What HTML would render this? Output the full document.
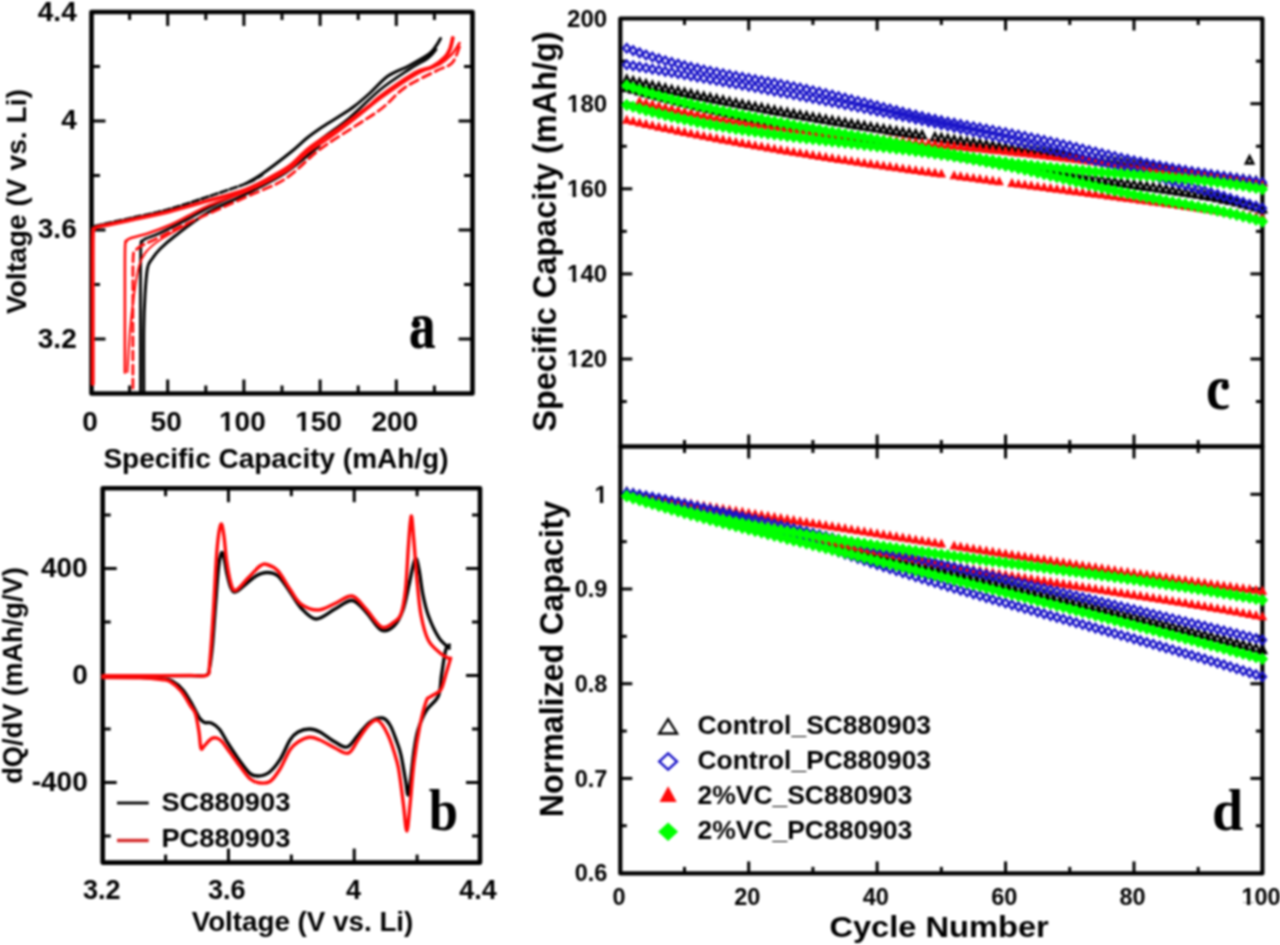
<!DOCTYPE html><html><head><meta charset="utf-8"><style>html,body{margin:0;padding:0;background:#fff;}svg{display:block;filter:blur(0.85px);}</style></head><body>
<svg width="1280" height="945" viewBox="0 0 1280 945">
<rect width="1280" height="945" fill="#fff"/>
<rect x="91.50" y="12.00" width="381.00" height="381.50" fill="none" stroke="#000" stroke-width="4.6" stroke-linejoin="round"/>
<line x1="167.70" y1="393.50" x2="167.70" y2="379.50" stroke="#000" stroke-width="3.0" stroke-linecap="butt"/>
<line x1="167.70" y1="12.00" x2="167.70" y2="26.00" stroke="#000" stroke-width="3.0" stroke-linecap="butt"/>
<line x1="243.90" y1="393.50" x2="243.90" y2="379.50" stroke="#000" stroke-width="3.0" stroke-linecap="butt"/>
<line x1="243.90" y1="12.00" x2="243.90" y2="26.00" stroke="#000" stroke-width="3.0" stroke-linecap="butt"/>
<line x1="320.10" y1="393.50" x2="320.10" y2="379.50" stroke="#000" stroke-width="3.0" stroke-linecap="butt"/>
<line x1="320.10" y1="12.00" x2="320.10" y2="26.00" stroke="#000" stroke-width="3.0" stroke-linecap="butt"/>
<line x1="396.30" y1="393.50" x2="396.30" y2="379.50" stroke="#000" stroke-width="3.0" stroke-linecap="butt"/>
<line x1="396.30" y1="12.00" x2="396.30" y2="26.00" stroke="#000" stroke-width="3.0" stroke-linecap="butt"/>
<line x1="129.60" y1="393.50" x2="129.60" y2="385.50" stroke="#000" stroke-width="3.0" stroke-linecap="butt"/>
<line x1="129.60" y1="12.00" x2="129.60" y2="20.00" stroke="#000" stroke-width="3.0" stroke-linecap="butt"/>
<line x1="205.80" y1="393.50" x2="205.80" y2="385.50" stroke="#000" stroke-width="3.0" stroke-linecap="butt"/>
<line x1="205.80" y1="12.00" x2="205.80" y2="20.00" stroke="#000" stroke-width="3.0" stroke-linecap="butt"/>
<line x1="282.00" y1="393.50" x2="282.00" y2="385.50" stroke="#000" stroke-width="3.0" stroke-linecap="butt"/>
<line x1="282.00" y1="12.00" x2="282.00" y2="20.00" stroke="#000" stroke-width="3.0" stroke-linecap="butt"/>
<line x1="358.20" y1="393.50" x2="358.20" y2="385.50" stroke="#000" stroke-width="3.0" stroke-linecap="butt"/>
<line x1="358.20" y1="12.00" x2="358.20" y2="20.00" stroke="#000" stroke-width="3.0" stroke-linecap="butt"/>
<line x1="434.40" y1="393.50" x2="434.40" y2="385.50" stroke="#000" stroke-width="3.0" stroke-linecap="butt"/>
<line x1="434.40" y1="12.00" x2="434.40" y2="20.00" stroke="#000" stroke-width="3.0" stroke-linecap="butt"/>
<line x1="91.50" y1="339.00" x2="105.50" y2="339.00" stroke="#000" stroke-width="3.0" stroke-linecap="butt"/>
<line x1="472.50" y1="339.00" x2="458.50" y2="339.00" stroke="#000" stroke-width="3.0" stroke-linecap="butt"/>
<line x1="91.50" y1="230.00" x2="105.50" y2="230.00" stroke="#000" stroke-width="3.0" stroke-linecap="butt"/>
<line x1="472.50" y1="230.00" x2="458.50" y2="230.00" stroke="#000" stroke-width="3.0" stroke-linecap="butt"/>
<line x1="91.50" y1="121.00" x2="105.50" y2="121.00" stroke="#000" stroke-width="3.0" stroke-linecap="butt"/>
<line x1="472.50" y1="121.00" x2="458.50" y2="121.00" stroke="#000" stroke-width="3.0" stroke-linecap="butt"/>
<line x1="91.50" y1="284.50" x2="100.00" y2="284.50" stroke="#000" stroke-width="3.0" stroke-linecap="butt"/>
<line x1="472.50" y1="284.50" x2="464.00" y2="284.50" stroke="#000" stroke-width="3.0" stroke-linecap="butt"/>
<line x1="91.50" y1="175.50" x2="100.00" y2="175.50" stroke="#000" stroke-width="3.0" stroke-linecap="butt"/>
<line x1="472.50" y1="175.50" x2="464.00" y2="175.50" stroke="#000" stroke-width="3.0" stroke-linecap="butt"/>
<line x1="91.50" y1="66.50" x2="100.00" y2="66.50" stroke="#000" stroke-width="3.0" stroke-linecap="butt"/>
<line x1="472.50" y1="66.50" x2="464.00" y2="66.50" stroke="#000" stroke-width="3.0" stroke-linecap="butt"/>
<rect x="102.70" y="488.20" width="377.30" height="374.40" fill="none" stroke="#000" stroke-width="4.6" stroke-linejoin="round"/>
<line x1="228.46" y1="862.60" x2="228.46" y2="848.60" stroke="#000" stroke-width="3.0" stroke-linecap="butt"/>
<line x1="228.46" y1="488.20" x2="228.46" y2="502.20" stroke="#000" stroke-width="3.0" stroke-linecap="butt"/>
<line x1="354.22" y1="862.60" x2="354.22" y2="848.60" stroke="#000" stroke-width="3.0" stroke-linecap="butt"/>
<line x1="354.22" y1="488.20" x2="354.22" y2="502.20" stroke="#000" stroke-width="3.0" stroke-linecap="butt"/>
<line x1="165.58" y1="862.60" x2="165.58" y2="854.60" stroke="#000" stroke-width="3.0" stroke-linecap="butt"/>
<line x1="165.58" y1="488.20" x2="165.58" y2="496.20" stroke="#000" stroke-width="3.0" stroke-linecap="butt"/>
<line x1="291.34" y1="862.60" x2="291.34" y2="854.60" stroke="#000" stroke-width="3.0" stroke-linecap="butt"/>
<line x1="291.34" y1="488.20" x2="291.34" y2="496.20" stroke="#000" stroke-width="3.0" stroke-linecap="butt"/>
<line x1="417.10" y1="862.60" x2="417.10" y2="854.60" stroke="#000" stroke-width="3.0" stroke-linecap="butt"/>
<line x1="417.10" y1="488.20" x2="417.10" y2="496.20" stroke="#000" stroke-width="3.0" stroke-linecap="butt"/>
<line x1="102.70" y1="782.50" x2="116.70" y2="782.50" stroke="#000" stroke-width="3.0" stroke-linecap="butt"/>
<line x1="480.00" y1="782.50" x2="466.00" y2="782.50" stroke="#000" stroke-width="3.0" stroke-linecap="butt"/>
<line x1="102.70" y1="675.50" x2="116.70" y2="675.50" stroke="#000" stroke-width="3.0" stroke-linecap="butt"/>
<line x1="480.00" y1="675.50" x2="466.00" y2="675.50" stroke="#000" stroke-width="3.0" stroke-linecap="butt"/>
<line x1="102.70" y1="568.50" x2="116.70" y2="568.50" stroke="#000" stroke-width="3.0" stroke-linecap="butt"/>
<line x1="480.00" y1="568.50" x2="466.00" y2="568.50" stroke="#000" stroke-width="3.0" stroke-linecap="butt"/>
<line x1="102.70" y1="836.00" x2="110.70" y2="836.00" stroke="#000" stroke-width="3.0" stroke-linecap="butt"/>
<line x1="480.00" y1="836.00" x2="472.00" y2="836.00" stroke="#000" stroke-width="3.0" stroke-linecap="butt"/>
<line x1="102.70" y1="729.00" x2="110.70" y2="729.00" stroke="#000" stroke-width="3.0" stroke-linecap="butt"/>
<line x1="480.00" y1="729.00" x2="472.00" y2="729.00" stroke="#000" stroke-width="3.0" stroke-linecap="butt"/>
<line x1="102.70" y1="622.00" x2="110.70" y2="622.00" stroke="#000" stroke-width="3.0" stroke-linecap="butt"/>
<line x1="480.00" y1="622.00" x2="472.00" y2="622.00" stroke="#000" stroke-width="3.0" stroke-linecap="butt"/>
<line x1="102.70" y1="515.00" x2="110.70" y2="515.00" stroke="#000" stroke-width="3.0" stroke-linecap="butt"/>
<line x1="480.00" y1="515.00" x2="472.00" y2="515.00" stroke="#000" stroke-width="3.0" stroke-linecap="butt"/>
<rect x="620.30" y="18.50" width="642.10" height="428.00" fill="none" stroke="#000" stroke-width="4.2" stroke-linejoin="round"/>
<line x1="748.72" y1="446.50" x2="748.72" y2="434.50" stroke="#000" stroke-width="3.0" stroke-linecap="butt"/>
<line x1="748.72" y1="18.50" x2="748.72" y2="30.50" stroke="#000" stroke-width="3.0" stroke-linecap="butt"/>
<line x1="877.14" y1="446.50" x2="877.14" y2="434.50" stroke="#000" stroke-width="3.0" stroke-linecap="butt"/>
<line x1="877.14" y1="18.50" x2="877.14" y2="30.50" stroke="#000" stroke-width="3.0" stroke-linecap="butt"/>
<line x1="1005.56" y1="446.50" x2="1005.56" y2="434.50" stroke="#000" stroke-width="3.0" stroke-linecap="butt"/>
<line x1="1005.56" y1="18.50" x2="1005.56" y2="30.50" stroke="#000" stroke-width="3.0" stroke-linecap="butt"/>
<line x1="1133.98" y1="446.50" x2="1133.98" y2="434.50" stroke="#000" stroke-width="3.0" stroke-linecap="butt"/>
<line x1="1133.98" y1="18.50" x2="1133.98" y2="30.50" stroke="#000" stroke-width="3.0" stroke-linecap="butt"/>
<line x1="684.51" y1="446.50" x2="684.51" y2="440.00" stroke="#000" stroke-width="3.0" stroke-linecap="butt"/>
<line x1="684.51" y1="18.50" x2="684.51" y2="25.00" stroke="#000" stroke-width="3.0" stroke-linecap="butt"/>
<line x1="812.93" y1="446.50" x2="812.93" y2="440.00" stroke="#000" stroke-width="3.0" stroke-linecap="butt"/>
<line x1="812.93" y1="18.50" x2="812.93" y2="25.00" stroke="#000" stroke-width="3.0" stroke-linecap="butt"/>
<line x1="941.35" y1="446.50" x2="941.35" y2="440.00" stroke="#000" stroke-width="3.0" stroke-linecap="butt"/>
<line x1="941.35" y1="18.50" x2="941.35" y2="25.00" stroke="#000" stroke-width="3.0" stroke-linecap="butt"/>
<line x1="1069.77" y1="446.50" x2="1069.77" y2="440.00" stroke="#000" stroke-width="3.0" stroke-linecap="butt"/>
<line x1="1069.77" y1="18.50" x2="1069.77" y2="25.00" stroke="#000" stroke-width="3.0" stroke-linecap="butt"/>
<line x1="1198.19" y1="446.50" x2="1198.19" y2="440.00" stroke="#000" stroke-width="3.0" stroke-linecap="butt"/>
<line x1="1198.19" y1="18.50" x2="1198.19" y2="25.00" stroke="#000" stroke-width="3.0" stroke-linecap="butt"/>
<line x1="620.30" y1="359.00" x2="632.30" y2="359.00" stroke="#000" stroke-width="3.0" stroke-linecap="butt"/>
<line x1="1262.40" y1="359.00" x2="1250.40" y2="359.00" stroke="#000" stroke-width="3.0" stroke-linecap="butt"/>
<line x1="620.30" y1="273.90" x2="632.30" y2="273.90" stroke="#000" stroke-width="3.0" stroke-linecap="butt"/>
<line x1="1262.40" y1="273.90" x2="1250.40" y2="273.90" stroke="#000" stroke-width="3.0" stroke-linecap="butt"/>
<line x1="620.30" y1="188.80" x2="632.30" y2="188.80" stroke="#000" stroke-width="3.0" stroke-linecap="butt"/>
<line x1="1262.40" y1="188.80" x2="1250.40" y2="188.80" stroke="#000" stroke-width="3.0" stroke-linecap="butt"/>
<line x1="620.30" y1="103.70" x2="632.30" y2="103.70" stroke="#000" stroke-width="3.0" stroke-linecap="butt"/>
<line x1="1262.40" y1="103.70" x2="1250.40" y2="103.70" stroke="#000" stroke-width="3.0" stroke-linecap="butt"/>
<line x1="620.30" y1="401.55" x2="626.80" y2="401.55" stroke="#000" stroke-width="3.0" stroke-linecap="butt"/>
<line x1="1262.40" y1="401.55" x2="1255.90" y2="401.55" stroke="#000" stroke-width="3.0" stroke-linecap="butt"/>
<line x1="620.30" y1="316.45" x2="626.80" y2="316.45" stroke="#000" stroke-width="3.0" stroke-linecap="butt"/>
<line x1="1262.40" y1="316.45" x2="1255.90" y2="316.45" stroke="#000" stroke-width="3.0" stroke-linecap="butt"/>
<line x1="620.30" y1="231.35" x2="626.80" y2="231.35" stroke="#000" stroke-width="3.0" stroke-linecap="butt"/>
<line x1="1262.40" y1="231.35" x2="1255.90" y2="231.35" stroke="#000" stroke-width="3.0" stroke-linecap="butt"/>
<line x1="620.30" y1="146.25" x2="626.80" y2="146.25" stroke="#000" stroke-width="3.0" stroke-linecap="butt"/>
<line x1="1262.40" y1="146.25" x2="1255.90" y2="146.25" stroke="#000" stroke-width="3.0" stroke-linecap="butt"/>
<line x1="620.30" y1="61.15" x2="626.80" y2="61.15" stroke="#000" stroke-width="3.0" stroke-linecap="butt"/>
<line x1="1262.40" y1="61.15" x2="1255.90" y2="61.15" stroke="#000" stroke-width="3.0" stroke-linecap="butt"/>
<rect x="620.30" y="446.50" width="642.10" height="426.90" fill="none" stroke="#000" stroke-width="4.2" stroke-linejoin="round"/>
<line x1="748.72" y1="873.40" x2="748.72" y2="861.40" stroke="#000" stroke-width="3.0" stroke-linecap="butt"/>
<line x1="748.72" y1="446.50" x2="748.72" y2="458.50" stroke="#000" stroke-width="3.0" stroke-linecap="butt"/>
<line x1="877.14" y1="873.40" x2="877.14" y2="861.40" stroke="#000" stroke-width="3.0" stroke-linecap="butt"/>
<line x1="877.14" y1="446.50" x2="877.14" y2="458.50" stroke="#000" stroke-width="3.0" stroke-linecap="butt"/>
<line x1="1005.56" y1="873.40" x2="1005.56" y2="861.40" stroke="#000" stroke-width="3.0" stroke-linecap="butt"/>
<line x1="1005.56" y1="446.50" x2="1005.56" y2="458.50" stroke="#000" stroke-width="3.0" stroke-linecap="butt"/>
<line x1="1133.98" y1="873.40" x2="1133.98" y2="861.40" stroke="#000" stroke-width="3.0" stroke-linecap="butt"/>
<line x1="1133.98" y1="446.50" x2="1133.98" y2="458.50" stroke="#000" stroke-width="3.0" stroke-linecap="butt"/>
<line x1="684.51" y1="873.40" x2="684.51" y2="866.90" stroke="#000" stroke-width="3.0" stroke-linecap="butt"/>
<line x1="684.51" y1="446.50" x2="684.51" y2="453.00" stroke="#000" stroke-width="3.0" stroke-linecap="butt"/>
<line x1="812.93" y1="873.40" x2="812.93" y2="866.90" stroke="#000" stroke-width="3.0" stroke-linecap="butt"/>
<line x1="812.93" y1="446.50" x2="812.93" y2="453.00" stroke="#000" stroke-width="3.0" stroke-linecap="butt"/>
<line x1="941.35" y1="873.40" x2="941.35" y2="866.90" stroke="#000" stroke-width="3.0" stroke-linecap="butt"/>
<line x1="941.35" y1="446.50" x2="941.35" y2="453.00" stroke="#000" stroke-width="3.0" stroke-linecap="butt"/>
<line x1="1069.77" y1="873.40" x2="1069.77" y2="866.90" stroke="#000" stroke-width="3.0" stroke-linecap="butt"/>
<line x1="1069.77" y1="446.50" x2="1069.77" y2="453.00" stroke="#000" stroke-width="3.0" stroke-linecap="butt"/>
<line x1="1198.19" y1="873.40" x2="1198.19" y2="866.90" stroke="#000" stroke-width="3.0" stroke-linecap="butt"/>
<line x1="1198.19" y1="446.50" x2="1198.19" y2="453.00" stroke="#000" stroke-width="3.0" stroke-linecap="butt"/>
<line x1="620.30" y1="778.40" x2="632.30" y2="778.40" stroke="#000" stroke-width="3.0" stroke-linecap="butt"/>
<line x1="1262.40" y1="778.40" x2="1250.40" y2="778.40" stroke="#000" stroke-width="3.0" stroke-linecap="butt"/>
<line x1="620.30" y1="683.70" x2="632.30" y2="683.70" stroke="#000" stroke-width="3.0" stroke-linecap="butt"/>
<line x1="1262.40" y1="683.70" x2="1250.40" y2="683.70" stroke="#000" stroke-width="3.0" stroke-linecap="butt"/>
<line x1="620.30" y1="589.00" x2="632.30" y2="589.00" stroke="#000" stroke-width="3.0" stroke-linecap="butt"/>
<line x1="1262.40" y1="589.00" x2="1250.40" y2="589.00" stroke="#000" stroke-width="3.0" stroke-linecap="butt"/>
<line x1="620.30" y1="494.30" x2="632.30" y2="494.30" stroke="#000" stroke-width="3.0" stroke-linecap="butt"/>
<line x1="1262.40" y1="494.30" x2="1250.40" y2="494.30" stroke="#000" stroke-width="3.0" stroke-linecap="butt"/>
<line x1="620.30" y1="825.75" x2="626.80" y2="825.75" stroke="#000" stroke-width="3.0" stroke-linecap="butt"/>
<line x1="1262.40" y1="825.75" x2="1255.90" y2="825.75" stroke="#000" stroke-width="3.0" stroke-linecap="butt"/>
<line x1="620.30" y1="731.05" x2="626.80" y2="731.05" stroke="#000" stroke-width="3.0" stroke-linecap="butt"/>
<line x1="1262.40" y1="731.05" x2="1255.90" y2="731.05" stroke="#000" stroke-width="3.0" stroke-linecap="butt"/>
<line x1="620.30" y1="636.35" x2="626.80" y2="636.35" stroke="#000" stroke-width="3.0" stroke-linecap="butt"/>
<line x1="1262.40" y1="636.35" x2="1255.90" y2="636.35" stroke="#000" stroke-width="3.0" stroke-linecap="butt"/>
<line x1="620.30" y1="541.65" x2="626.80" y2="541.65" stroke="#000" stroke-width="3.0" stroke-linecap="butt"/>
<line x1="1262.40" y1="541.65" x2="1255.90" y2="541.65" stroke="#000" stroke-width="3.0" stroke-linecap="butt"/>
<g>
<path d="M95.00,226.00 C100.67,224.75 116.83,221.25 129.00,218.50 C141.17,215.75 155.00,213.08 168.00,209.50 C181.00,205.92 194.00,201.33 207.00,197.00 C220.00,192.67 236.83,187.17 246.00,183.50 C255.17,179.83 259.33,176.42 262.00,175.00" fill="none" stroke="#000" stroke-width="2.8" stroke-linejoin="round" stroke-linecap="round" stroke-dasharray="7,3"/>
<path d="M246.00,183.50 C248.67,181.92 254.50,179.25 262.00,174.00 C269.50,168.75 283.50,158.00 291.00,152.00 C298.50,146.00 301.67,142.25 307.00,138.00 C312.33,133.75 317.67,130.08 323.00,126.50 C328.33,122.92 333.83,119.83 339.00,116.50 C344.17,113.17 348.83,110.42 354.00,106.50 C359.17,102.58 364.33,98.08 370.00,93.00 C375.67,87.92 381.50,80.55 388.00,76.00 C394.50,71.45 402.17,69.37 409.00,65.70 C415.83,62.03 424.50,57.28 429.00,54.00 C433.50,50.72 434.08,48.58 436.00,46.00 C437.92,43.42 439.75,39.75 440.50,38.50" fill="none" stroke="#000" stroke-width="3.0" stroke-linejoin="round" stroke-linecap="round"/>
<path d="M140.50,393.00 C140.50,377.50 140.45,324.33 140.50,300.00 C140.55,275.67 140.45,256.83 140.80,247.00 C141.15,237.17 141.73,242.42 142.60,241.00 C143.47,239.58 143.10,239.83 146.00,238.50 C148.90,237.17 153.00,236.25 160.00,233.00 C167.00,229.75 179.67,223.33 188.00,219.00 C196.33,214.67 200.33,211.83 210.00,207.00 C219.67,202.17 233.50,196.17 246.00,190.00 C258.50,183.83 272.83,178.17 285.00,170.00 C297.17,161.83 308.50,149.50 319.00,141.00 C329.50,132.50 337.67,127.67 348.00,119.00 C358.33,110.33 370.83,97.25 381.00,89.00 C391.17,80.75 401.17,74.67 409.00,69.50 C416.83,64.33 423.50,61.33 428.00,58.00 C432.50,54.67 434.67,50.92 436.00,49.50" fill="none" stroke="#000" stroke-width="2.8" stroke-linejoin="round" stroke-linecap="round"/>
<path d="M143.80,393.00 C143.80,382.50 143.60,346.33 143.80,330.00 C144.00,313.67 144.38,305.33 145.00,295.00 C145.62,284.67 146.33,274.00 147.50,268.00 C148.67,262.00 149.92,262.17 152.00,259.00 C154.08,255.83 156.17,252.83 160.00,249.00 C163.83,245.17 167.17,242.00 175.00,236.00 C182.83,230.00 195.17,220.00 207.00,213.00 C218.83,206.00 233.00,200.67 246.00,194.00 C259.00,187.33 272.83,181.00 285.00,173.00 C297.17,165.00 313.33,150.50 319.00,146.00" fill="none" stroke="#000" stroke-width="3.0" stroke-linejoin="round" stroke-linecap="round"/>
<path d="M92.80,384.00 C92.80,370.00 92.78,324.67 92.80,300.00 C92.82,275.33 92.65,247.83 92.90,236.00 C93.15,224.17 93.45,230.53 94.30,229.00 C95.15,227.47 95.38,227.58 98.00,226.80 C100.62,226.02 104.83,225.38 110.00,224.30 C115.17,223.22 119.33,222.38 129.00,220.30 C138.67,218.22 155.00,215.02 168.00,211.80 C181.00,208.58 194.00,204.72 207.00,201.00 C220.00,197.28 234.67,193.83 246.00,189.50 C257.33,185.17 267.50,179.08 275.00,175.00 C282.50,170.92 285.67,169.17 291.00,165.00 C296.33,160.83 301.67,154.42 307.00,150.00 C312.33,145.58 317.67,142.08 323.00,138.50 C328.33,134.92 333.83,132.00 339.00,128.50 C344.17,125.00 348.83,121.33 354.00,117.50 C359.17,113.67 365.50,109.08 370.00,105.50 C374.50,101.92 373.50,101.42 381.00,96.00 C388.50,90.58 406.50,77.83 415.00,73.00 C423.50,68.17 427.00,69.67 432.00,67.00 C437.00,64.33 442.00,60.00 445.00,57.00 C448.00,54.00 448.70,52.17 450.00,49.00 C451.30,45.83 452.33,39.83 452.80,38.00" fill="none" stroke="#ff0a0a" stroke-width="3.8" stroke-linejoin="round" stroke-linecap="round"/>
<path d="M124.90,372.60 C124.90,360.50 124.87,320.93 124.90,300.00 C124.93,279.07 124.78,256.83 125.10,247.00 C125.42,237.17 125.98,242.42 126.80,241.00 C127.62,239.58 126.30,239.83 130.00,238.50 C133.70,237.17 142.33,235.25 149.00,233.00 C155.67,230.75 163.50,227.83 170.00,225.00 C176.50,222.17 181.33,219.33 188.00,216.00 C194.67,212.67 200.33,209.08 210.00,205.00 C219.67,200.92 235.17,196.08 246.00,191.50 C256.83,186.92 267.50,181.42 275.00,177.50 C282.50,173.58 285.67,172.08 291.00,168.00 C296.33,163.92 300.50,158.08 307.00,153.00 C313.50,147.92 322.17,143.08 330.00,137.50 C337.83,131.92 345.50,126.08 354.00,119.50 C362.50,112.92 370.83,105.42 381.00,98.00 C391.17,90.58 405.17,80.67 415.00,75.00 C424.83,69.33 433.83,67.50 440.00,64.00 C446.17,60.50 448.75,57.50 452.00,54.00 C455.25,50.50 458.25,44.83 459.50,43.00" fill="none" stroke="#ff0a0a" stroke-width="2.6" stroke-linejoin="round" stroke-linecap="round"/>
<path d="M132.90,388.00 C132.90,373.33 132.85,321.83 132.90,300.00 C132.95,278.17 132.77,265.17 133.20,257.00 C133.63,248.83 134.20,252.83 135.50,251.00 C136.80,249.17 136.92,248.33 141.00,246.00 C145.08,243.67 152.17,240.83 160.00,237.00 C167.83,233.17 173.67,229.67 188.00,223.00 C202.33,216.33 229.83,204.33 246.00,197.00 C262.17,189.67 272.83,186.83 285.00,179.00 C297.17,171.17 307.67,158.58 319.00,150.00 C330.33,141.42 342.55,134.42 353.00,127.50 C363.45,120.58 373.03,115.17 381.70,108.50 C390.37,101.83 395.95,93.75 405.00,87.50 C414.05,81.25 428.17,75.08 436.00,71.00 C443.83,66.92 448.08,67.00 452.00,63.00 C455.92,59.00 458.25,49.67 459.50,47.00" fill="none" stroke="#ff0a0a" stroke-width="2.8" stroke-linejoin="round" stroke-linecap="round" stroke-dasharray="9,5"/>
<path d="M127.50,372.00 C127.92,365.00 128.92,342.83 130.00,330.00 C131.08,317.17 132.50,305.67 134.00,295.00 C135.50,284.33 137.00,273.17 139.00,266.00 C141.00,258.83 142.50,256.33 146.00,252.00 C149.50,247.67 153.00,244.67 160.00,240.00 C167.00,235.33 183.33,226.67 188.00,224.00" fill="none" stroke="#ff0a0a" stroke-width="2.0" stroke-linejoin="round" stroke-linecap="round"/>
</g>
<path d="M449.40,645.00 C448.78,645.83 447.02,645.00 445.70,650.00 C444.38,655.00 442.72,667.33 441.50,675.00 C440.28,682.67 440.93,690.07 438.40,696.00 C435.87,701.93 429.70,704.93 426.30,710.60 C422.90,716.27 420.03,723.43 418.00,730.00 C415.97,736.57 415.35,741.67 414.10,750.00 C412.85,758.33 411.52,772.50 410.50,780.00 C409.48,787.50 408.83,795.00 408.00,795.00 C407.17,795.00 406.67,786.67 405.50,780.00 C404.33,773.33 402.42,761.30 401.00,755.00 C399.58,748.70 398.83,747.20 397.00,742.20 C395.17,737.20 392.42,729.03 390.00,725.00 C387.58,720.97 385.83,718.50 382.50,718.00 C379.17,717.50 374.08,719.17 370.00,722.00 C365.92,724.83 361.80,730.83 358.00,735.00 C354.20,739.17 351.03,745.83 347.20,747.00 C343.37,748.17 339.53,744.50 335.00,742.00 C330.47,739.50 324.25,734.17 320.00,732.00 C315.75,729.83 313.17,729.00 309.50,729.00 C305.83,729.00 301.25,730.17 298.00,732.00 C294.75,733.83 292.98,735.43 290.00,740.00 C287.02,744.57 283.60,753.98 280.10,759.40 C276.60,764.82 272.68,769.73 269.00,772.50 C265.32,775.27 261.20,775.88 258.00,776.00 C254.80,776.12 253.00,775.97 249.80,773.20 C246.60,770.43 242.47,764.45 238.80,759.40 C235.13,754.35 231.02,747.93 227.80,742.90 C224.58,737.87 222.25,732.52 219.50,729.20 C216.75,725.88 213.82,724.12 211.30,723.00 C208.78,721.88 206.37,723.33 204.40,722.50 C202.43,721.67 201.48,720.92 199.50,718.00 C197.52,715.08 195.25,709.67 192.50,705.00 C189.75,700.33 186.42,694.00 183.00,690.00 C179.58,686.00 175.60,682.90 172.00,681.00 C168.40,679.10 166.73,679.22 161.40,678.60 C156.07,677.98 149.73,677.57 140.00,677.30 C130.27,677.03 109.17,677.05 103.00,677.00" fill="none" stroke="#000" stroke-width="3.3" stroke-linejoin="round" stroke-linecap="round"/>
<path d="M450.60,658.20 C449.92,660.50 447.85,667.37 446.50,672.00 C445.15,676.63 443.65,682.82 442.50,686.00 C441.35,689.18 441.68,689.27 439.60,691.10 C437.52,692.93 432.22,695.35 430.00,697.00 C427.78,698.65 427.97,696.33 426.30,701.00 C424.63,705.67 422.03,714.88 420.00,725.00 C417.97,735.12 415.77,748.37 414.10,761.70 C412.43,775.03 411.22,793.45 410.00,805.00 C408.78,816.55 407.88,831.00 406.80,831.00 C405.72,831.00 404.63,813.83 403.50,805.00 C402.37,796.17 401.08,785.22 400.00,778.00 C398.92,770.78 399.00,768.87 397.00,761.70 C395.00,754.53 391.23,741.90 388.00,735.00 C384.77,728.10 380.93,721.80 377.60,720.30 C374.27,718.80 371.27,722.72 368.00,726.00 C364.73,729.28 361.27,735.48 358.00,740.00 C354.73,744.52 352.23,751.77 348.40,753.10 C344.57,754.43 339.73,750.18 335.00,748.00 C330.27,745.82 324.25,741.78 320.00,740.00 C315.75,738.22 313.17,736.97 309.50,737.30 C305.83,737.63 301.25,739.92 298.00,742.00 C294.75,744.08 293.00,745.30 290.00,749.80 C287.00,754.30 283.33,763.72 280.00,769.00 C276.67,774.28 273.55,779.20 270.00,781.50 C266.45,783.80 262.03,783.27 258.70,782.80 C255.37,782.33 253.12,781.45 250.00,778.70 C246.88,775.95 243.33,770.65 240.00,766.30 C236.67,761.95 233.00,756.72 230.00,752.60 C227.00,748.48 224.17,744.02 222.00,741.60 C219.83,739.18 218.78,738.57 217.00,738.10 C215.22,737.63 213.40,737.53 211.30,738.80 C209.20,740.07 206.12,744.10 204.40,745.70 C202.68,747.30 201.90,750.68 201.00,748.40 C200.10,746.12 199.92,737.73 199.00,732.00 C198.08,726.27 196.90,718.33 195.50,714.00 C194.10,709.67 193.02,709.83 190.60,706.00 C188.18,702.17 184.43,695.08 181.00,691.00 C177.57,686.92 173.27,683.42 170.00,681.50 C166.73,679.58 166.40,680.12 161.40,679.50 C156.40,678.88 149.73,678.13 140.00,677.80 C130.27,677.47 109.17,677.55 103.00,677.50" fill="none" stroke="#ff0a0a" stroke-width="3.4" stroke-linejoin="round" stroke-linecap="round"/>
<path d="M103.00,675.60 C110.83,675.60 135.50,675.60 150.00,675.60 C164.50,675.60 180.58,675.67 190.00,675.60 C199.42,675.53 203.25,676.47 206.50,675.20 C209.75,673.93 208.50,673.03 209.50,668.00 C210.50,662.97 211.50,655.50 212.50,645.00 C213.50,634.50 214.50,617.83 215.50,605.00 C216.50,592.17 217.50,576.67 218.50,568.00 C219.50,559.33 220.58,554.67 221.50,553.00 C222.42,551.33 223.08,554.50 224.00,558.00 C224.92,561.50 225.83,569.00 227.00,574.00 C228.17,579.00 229.58,585.00 231.00,588.00 C232.42,591.00 233.17,592.50 235.50,592.00 C237.83,591.50 241.58,587.67 245.00,585.00 C248.42,582.33 252.33,578.08 256.00,576.00 C259.67,573.92 263.33,572.50 267.00,572.50 C270.67,572.50 274.17,572.75 278.00,576.00 C281.83,579.25 286.17,586.67 290.00,592.00 C293.83,597.33 296.67,603.50 301.00,608.00 C305.33,612.50 310.33,618.83 316.00,619.00 C321.67,619.17 329.00,612.08 335.00,609.00 C341.00,605.92 346.83,600.00 352.00,600.50 C357.17,601.00 361.17,607.08 366.00,612.00 C370.83,616.92 376.33,627.67 381.00,630.00 C385.67,632.33 390.33,629.33 394.00,626.00 C397.67,622.67 400.50,616.83 403.00,610.00 C405.50,603.17 407.25,592.67 409.00,585.00 C410.75,577.33 412.25,568.33 413.50,564.00 C414.75,559.67 415.50,557.67 416.50,559.00 C417.50,560.33 418.42,566.00 419.50,572.00 C420.58,578.00 421.50,587.67 423.00,595.00 C424.50,602.33 425.87,608.90 428.50,616.00 C431.13,623.10 435.33,632.23 438.80,637.60 C442.27,642.97 447.55,646.43 449.30,648.20" fill="none" stroke="#000" stroke-width="3.3" stroke-linejoin="round" stroke-linecap="round"/>
<path d="M103.00,675.80 C110.83,675.80 135.50,675.85 150.00,675.80 C164.50,675.75 180.50,675.63 190.00,675.50 C199.50,675.37 203.70,677.25 207.00,675.00 C210.30,672.75 208.72,672.83 209.80,662.00 C210.88,651.17 212.30,628.67 213.50,610.00 C214.70,591.33 215.78,564.25 217.00,550.00 C218.22,535.75 219.67,527.00 220.80,524.50 C221.93,522.00 222.85,529.08 223.80,535.00 C224.75,540.92 225.38,552.17 226.50,560.00 C227.62,567.83 229.00,576.92 230.50,582.00 C232.00,587.08 232.58,591.17 235.50,590.50 C238.42,589.83 243.92,582.08 248.00,578.00 C252.08,573.92 256.83,568.25 260.00,566.00 C263.17,563.75 264.00,563.67 267.00,564.50 C270.00,565.33 274.08,566.75 278.00,571.00 C281.92,575.25 286.67,584.50 290.50,590.00 C294.33,595.50 296.42,600.67 301.00,604.00 C305.58,607.33 312.33,610.08 318.00,610.00 C323.67,609.92 329.33,605.83 335.00,603.50 C340.67,601.17 346.83,595.08 352.00,596.00 C357.17,596.92 361.07,603.83 366.00,609.00 C370.93,614.17 376.93,624.83 381.60,627.00 C386.27,629.17 390.77,624.17 394.00,622.00 C397.23,619.83 399.08,619.33 401.00,614.00 C402.92,608.67 404.25,601.50 405.50,590.00 C406.75,578.50 407.55,557.33 408.50,545.00 C409.45,532.67 410.32,516.83 411.20,516.00 C412.08,515.17 412.83,529.33 413.80,540.00 C414.77,550.67 415.80,567.50 417.00,580.00 C418.20,592.50 419.13,605.00 421.00,615.00 C422.87,625.00 425.03,633.67 428.20,640.00 C431.37,646.33 436.48,649.87 440.00,653.00 C443.52,656.13 447.75,657.83 449.30,658.80" fill="none" stroke="#ff0a0a" stroke-width="3.4" stroke-linejoin="round" stroke-linecap="round"/>
<line x1="117.00" y1="803.00" x2="148.70" y2="803.00" stroke="#000" stroke-width="2.8" stroke-linecap="butt"/>
<line x1="117.00" y1="840.50" x2="148.70" y2="840.50" stroke="#d42a2a" stroke-width="3.4" stroke-linecap="butt"/>
<g>
<path d="M626.72,75.87 L630.32,82.87 L623.12,82.87 Z" fill="none" stroke="#000" stroke-width="2.6" stroke-linejoin="miter"/>
<path d="M633.14,77.36 L636.74,84.36 L629.54,84.36 Z" fill="none" stroke="#000" stroke-width="2.6" stroke-linejoin="miter"/>
<path d="M639.56,78.84 L643.16,85.84 L635.96,85.84 Z" fill="none" stroke="#000" stroke-width="2.6" stroke-linejoin="miter"/>
<path d="M645.98,80.30 L649.58,87.30 L642.38,87.30 Z" fill="none" stroke="#000" stroke-width="2.6" stroke-linejoin="miter"/>
<path d="M652.40,81.75 L656.00,88.75 L648.80,88.75 Z" fill="none" stroke="#000" stroke-width="2.6" stroke-linejoin="miter"/>
<path d="M658.83,83.18 L662.43,90.18 L655.23,90.18 Z" fill="none" stroke="#000" stroke-width="2.6" stroke-linejoin="miter"/>
<path d="M665.25,84.60 L668.85,91.60 L661.65,91.60 Z" fill="none" stroke="#000" stroke-width="2.6" stroke-linejoin="miter"/>
<path d="M671.67,86.00 L675.27,93.00 L668.07,93.00 Z" fill="none" stroke="#000" stroke-width="2.6" stroke-linejoin="miter"/>
<path d="M678.09,87.39 L681.69,94.39 L674.49,94.39 Z" fill="none" stroke="#000" stroke-width="2.6" stroke-linejoin="miter"/>
<path d="M684.51,88.76 L688.11,95.76 L680.91,95.76 Z" fill="none" stroke="#000" stroke-width="2.6" stroke-linejoin="miter"/>
<path d="M690.93,90.12 L694.53,97.12 L687.33,97.12 Z" fill="none" stroke="#000" stroke-width="2.6" stroke-linejoin="miter"/>
<path d="M697.35,91.47 L700.95,98.47 L693.75,98.47 Z" fill="none" stroke="#000" stroke-width="2.6" stroke-linejoin="miter"/>
<path d="M703.77,92.80 L707.37,99.80 L700.17,99.80 Z" fill="none" stroke="#000" stroke-width="2.6" stroke-linejoin="miter"/>
<path d="M710.19,94.12 L713.79,101.12 L706.59,101.12 Z" fill="none" stroke="#000" stroke-width="2.6" stroke-linejoin="miter"/>
<path d="M716.62,95.42 L720.22,102.42 L713.01,102.42 Z" fill="none" stroke="#000" stroke-width="2.6" stroke-linejoin="miter"/>
<path d="M723.04,96.71 L726.64,103.71 L719.44,103.71 Z" fill="none" stroke="#000" stroke-width="2.6" stroke-linejoin="miter"/>
<path d="M729.46,97.99 L733.06,104.99 L725.86,104.99 Z" fill="none" stroke="#000" stroke-width="2.6" stroke-linejoin="miter"/>
<path d="M735.88,99.26 L739.48,106.26 L732.28,106.26 Z" fill="none" stroke="#000" stroke-width="2.6" stroke-linejoin="miter"/>
<path d="M742.30,100.51 L745.90,107.51 L738.70,107.51 Z" fill="none" stroke="#000" stroke-width="2.6" stroke-linejoin="miter"/>
<path d="M748.72,101.75 L752.32,108.75 L745.12,108.75 Z" fill="none" stroke="#000" stroke-width="2.6" stroke-linejoin="miter"/>
<path d="M755.14,102.98 L758.74,109.98 L751.54,109.98 Z" fill="none" stroke="#000" stroke-width="2.6" stroke-linejoin="miter"/>
<path d="M761.56,104.20 L765.16,111.20 L757.96,111.20 Z" fill="none" stroke="#000" stroke-width="2.6" stroke-linejoin="miter"/>
<path d="M767.98,105.40 L771.58,112.40 L764.38,112.40 Z" fill="none" stroke="#000" stroke-width="2.6" stroke-linejoin="miter"/>
<path d="M774.40,106.60 L778.00,113.60 L770.80,113.60 Z" fill="none" stroke="#000" stroke-width="2.6" stroke-linejoin="miter"/>
<path d="M780.82,107.78 L784.42,114.78 L777.22,114.78 Z" fill="none" stroke="#000" stroke-width="2.6" stroke-linejoin="miter"/>
<path d="M787.25,108.95 L790.85,115.95 L783.65,115.95 Z" fill="none" stroke="#000" stroke-width="2.6" stroke-linejoin="miter"/>
<path d="M793.67,110.11 L797.27,117.11 L790.07,117.11 Z" fill="none" stroke="#000" stroke-width="2.6" stroke-linejoin="miter"/>
<path d="M800.09,111.26 L803.69,118.26 L796.49,118.26 Z" fill="none" stroke="#000" stroke-width="2.6" stroke-linejoin="miter"/>
<path d="M806.51,112.40 L810.11,119.40 L802.91,119.40 Z" fill="none" stroke="#000" stroke-width="2.6" stroke-linejoin="miter"/>
<path d="M812.93,113.53 L816.53,120.53 L809.33,120.53 Z" fill="none" stroke="#000" stroke-width="2.6" stroke-linejoin="miter"/>
<path d="M819.35,114.65 L822.95,121.65 L815.75,121.65 Z" fill="none" stroke="#000" stroke-width="2.6" stroke-linejoin="miter"/>
<path d="M825.77,115.76 L829.37,122.76 L822.17,122.76 Z" fill="none" stroke="#000" stroke-width="2.6" stroke-linejoin="miter"/>
<path d="M832.19,116.85 L835.79,123.85 L828.59,123.85 Z" fill="none" stroke="#000" stroke-width="2.6" stroke-linejoin="miter"/>
<path d="M838.61,117.94 L842.21,124.94 L835.01,124.94 Z" fill="none" stroke="#000" stroke-width="2.6" stroke-linejoin="miter"/>
<path d="M845.03,119.02 L848.63,126.02 L841.43,126.02 Z" fill="none" stroke="#000" stroke-width="2.6" stroke-linejoin="miter"/>
<path d="M851.46,120.09 L855.06,127.09 L847.86,127.09 Z" fill="none" stroke="#000" stroke-width="2.6" stroke-linejoin="miter"/>
<path d="M857.88,121.15 L861.48,128.15 L854.28,128.15 Z" fill="none" stroke="#000" stroke-width="2.6" stroke-linejoin="miter"/>
<path d="M864.30,122.20 L867.90,129.20 L860.70,129.20 Z" fill="none" stroke="#000" stroke-width="2.6" stroke-linejoin="miter"/>
<path d="M870.72,123.25 L874.32,130.25 L867.12,130.25 Z" fill="none" stroke="#000" stroke-width="2.6" stroke-linejoin="miter"/>
<path d="M877.14,124.28 L880.74,131.28 L873.54,131.28 Z" fill="none" stroke="#000" stroke-width="2.6" stroke-linejoin="miter"/>
<path d="M883.56,125.31 L887.16,132.31 L879.96,132.31 Z" fill="none" stroke="#000" stroke-width="2.6" stroke-linejoin="miter"/>
<path d="M889.98,126.33 L893.58,133.33 L886.38,133.33 Z" fill="none" stroke="#000" stroke-width="2.6" stroke-linejoin="miter"/>
<path d="M896.40,127.34 L900.00,134.34 L892.80,134.34 Z" fill="none" stroke="#000" stroke-width="2.6" stroke-linejoin="miter"/>
<path d="M902.82,128.34 L906.42,135.34 L899.22,135.34 Z" fill="none" stroke="#000" stroke-width="2.6" stroke-linejoin="miter"/>
<path d="M909.24,129.34 L912.84,136.34 L905.64,136.34 Z" fill="none" stroke="#000" stroke-width="2.6" stroke-linejoin="miter"/>
<path d="M915.67,130.33 L919.27,137.33 L912.07,137.33 Z" fill="none" stroke="#000" stroke-width="2.6" stroke-linejoin="miter"/>
<path d="M922.09,131.31 L925.69,138.31 L918.49,138.31 Z" fill="none" stroke="#000" stroke-width="2.6" stroke-linejoin="miter"/>
<path d="M934.93,133.25 L938.53,140.25 L931.33,140.25 Z" fill="none" stroke="#000" stroke-width="2.6" stroke-linejoin="miter"/>
<path d="M941.35,134.21 L944.95,141.21 L937.75,141.21 Z" fill="none" stroke="#000" stroke-width="2.6" stroke-linejoin="miter"/>
<path d="M947.77,135.16 L951.37,142.16 L944.17,142.16 Z" fill="none" stroke="#000" stroke-width="2.6" stroke-linejoin="miter"/>
<path d="M954.19,136.11 L957.79,143.11 L950.59,143.11 Z" fill="none" stroke="#000" stroke-width="2.6" stroke-linejoin="miter"/>
<path d="M960.61,137.06 L964.21,144.06 L957.01,144.06 Z" fill="none" stroke="#000" stroke-width="2.6" stroke-linejoin="miter"/>
<path d="M967.03,137.99 L970.63,144.99 L963.43,144.99 Z" fill="none" stroke="#000" stroke-width="2.6" stroke-linejoin="miter"/>
<path d="M973.45,138.92 L977.05,145.92 L969.85,145.92 Z" fill="none" stroke="#000" stroke-width="2.6" stroke-linejoin="miter"/>
<path d="M979.88,139.85 L983.48,146.85 L976.28,146.85 Z" fill="none" stroke="#000" stroke-width="2.6" stroke-linejoin="miter"/>
<path d="M986.30,140.77 L989.90,147.77 L982.70,147.77 Z" fill="none" stroke="#000" stroke-width="2.6" stroke-linejoin="miter"/>
<path d="M992.72,141.69 L996.32,148.69 L989.12,148.69 Z" fill="none" stroke="#000" stroke-width="2.6" stroke-linejoin="miter"/>
<path d="M999.14,142.60 L1002.74,149.60 L995.54,149.60 Z" fill="none" stroke="#000" stroke-width="2.6" stroke-linejoin="miter"/>
<path d="M1005.56,143.50 L1009.16,150.50 L1001.96,150.50 Z" fill="none" stroke="#000" stroke-width="2.6" stroke-linejoin="miter"/>
<path d="M1011.98,144.41 L1015.58,151.41 L1008.38,151.41 Z" fill="none" stroke="#000" stroke-width="2.6" stroke-linejoin="miter"/>
<path d="M1018.40,145.30 L1022.00,152.30 L1014.80,152.30 Z" fill="none" stroke="#000" stroke-width="2.6" stroke-linejoin="miter"/>
<path d="M1024.82,146.20 L1028.42,153.20 L1021.22,153.20 Z" fill="none" stroke="#000" stroke-width="2.6" stroke-linejoin="miter"/>
<path d="M1031.24,147.09 L1034.84,154.09 L1027.64,154.09 Z" fill="none" stroke="#000" stroke-width="2.6" stroke-linejoin="miter"/>
<path d="M1037.66,147.97 L1041.26,154.97 L1034.07,154.97 Z" fill="none" stroke="#000" stroke-width="2.6" stroke-linejoin="miter"/>
<path d="M1044.09,148.86 L1047.69,155.86 L1040.49,155.86 Z" fill="none" stroke="#000" stroke-width="2.6" stroke-linejoin="miter"/>
<path d="M1050.51,149.74 L1054.11,156.74 L1046.91,156.74 Z" fill="none" stroke="#000" stroke-width="2.6" stroke-linejoin="miter"/>
<path d="M1056.93,150.61 L1060.53,157.61 L1053.33,157.61 Z" fill="none" stroke="#000" stroke-width="2.6" stroke-linejoin="miter"/>
<path d="M1063.35,151.49 L1066.95,158.49 L1059.75,158.49 Z" fill="none" stroke="#000" stroke-width="2.6" stroke-linejoin="miter"/>
<path d="M1069.77,152.36 L1073.37,159.36 L1066.17,159.36 Z" fill="none" stroke="#000" stroke-width="2.6" stroke-linejoin="miter"/>
<path d="M1076.19,153.23 L1079.79,160.23 L1072.59,160.23 Z" fill="none" stroke="#000" stroke-width="2.6" stroke-linejoin="miter"/>
<path d="M1082.61,154.09 L1086.21,161.09 L1079.01,161.09 Z" fill="none" stroke="#000" stroke-width="2.6" stroke-linejoin="miter"/>
<path d="M1089.03,154.96 L1092.63,161.96 L1085.43,161.96 Z" fill="none" stroke="#000" stroke-width="2.6" stroke-linejoin="miter"/>
<path d="M1095.45,155.82 L1099.05,162.82 L1091.85,162.82 Z" fill="none" stroke="#000" stroke-width="2.6" stroke-linejoin="miter"/>
<path d="M1101.88,156.68 L1105.47,163.68 L1098.28,163.68 Z" fill="none" stroke="#000" stroke-width="2.6" stroke-linejoin="miter"/>
<path d="M1108.30,157.54 L1111.90,164.54 L1104.70,164.54 Z" fill="none" stroke="#000" stroke-width="2.6" stroke-linejoin="miter"/>
<path d="M1114.72,158.40 L1118.32,165.40 L1111.12,165.40 Z" fill="none" stroke="#000" stroke-width="2.6" stroke-linejoin="miter"/>
<path d="M1121.14,159.26 L1124.74,166.26 L1117.54,166.26 Z" fill="none" stroke="#000" stroke-width="2.6" stroke-linejoin="miter"/>
<path d="M1127.56,160.12 L1131.16,167.12 L1123.96,167.12 Z" fill="none" stroke="#000" stroke-width="2.6" stroke-linejoin="miter"/>
<path d="M1133.98,160.97 L1137.58,167.97 L1130.38,167.97 Z" fill="none" stroke="#000" stroke-width="2.6" stroke-linejoin="miter"/>
<path d="M1140.40,161.83 L1144.00,168.83 L1136.80,168.83 Z" fill="none" stroke="#000" stroke-width="2.6" stroke-linejoin="miter"/>
<path d="M1146.82,162.68 L1150.42,169.68 L1143.22,169.68 Z" fill="none" stroke="#000" stroke-width="2.6" stroke-linejoin="miter"/>
<path d="M1153.24,163.54 L1156.84,170.54 L1149.64,170.54 Z" fill="none" stroke="#000" stroke-width="2.6" stroke-linejoin="miter"/>
<path d="M1159.66,164.39 L1163.26,171.39 L1156.06,171.39 Z" fill="none" stroke="#000" stroke-width="2.6" stroke-linejoin="miter"/>
<path d="M1166.09,165.25 L1169.68,172.25 L1162.49,172.25 Z" fill="none" stroke="#000" stroke-width="2.6" stroke-linejoin="miter"/>
<path d="M1172.51,166.10 L1176.11,173.10 L1168.91,173.10 Z" fill="none" stroke="#000" stroke-width="2.6" stroke-linejoin="miter"/>
<path d="M1178.93,166.96 L1182.53,173.96 L1175.33,173.96 Z" fill="none" stroke="#000" stroke-width="2.6" stroke-linejoin="miter"/>
<path d="M1185.35,167.82 L1188.95,174.82 L1181.75,174.82 Z" fill="none" stroke="#000" stroke-width="2.6" stroke-linejoin="miter"/>
<path d="M1191.77,168.67 L1195.37,175.67 L1188.17,175.67 Z" fill="none" stroke="#000" stroke-width="2.6" stroke-linejoin="miter"/>
<path d="M1198.19,169.53 L1201.79,176.53 L1194.59,176.53 Z" fill="none" stroke="#000" stroke-width="2.6" stroke-linejoin="miter"/>
<path d="M1204.61,170.40 L1208.21,177.40 L1201.01,177.40 Z" fill="none" stroke="#000" stroke-width="2.6" stroke-linejoin="miter"/>
<path d="M1211.03,171.26 L1214.63,178.26 L1207.43,178.26 Z" fill="none" stroke="#000" stroke-width="2.6" stroke-linejoin="miter"/>
<path d="M1217.45,172.12 L1221.05,179.12 L1213.85,179.12 Z" fill="none" stroke="#000" stroke-width="2.6" stroke-linejoin="miter"/>
<path d="M1223.87,172.99 L1227.47,179.99 L1220.27,179.99 Z" fill="none" stroke="#000" stroke-width="2.6" stroke-linejoin="miter"/>
<path d="M1230.30,173.86 L1233.89,180.86 L1226.70,180.86 Z" fill="none" stroke="#000" stroke-width="2.6" stroke-linejoin="miter"/>
<path d="M1236.72,174.73 L1240.32,181.73 L1233.12,181.73 Z" fill="none" stroke="#000" stroke-width="2.6" stroke-linejoin="miter"/>
<path d="M1243.14,175.60 L1246.74,182.60 L1239.54,182.60 Z" fill="none" stroke="#000" stroke-width="2.6" stroke-linejoin="miter"/>
<path d="M1249.56,176.48 L1253.16,183.48 L1245.96,183.48 Z" fill="none" stroke="#000" stroke-width="2.6" stroke-linejoin="miter"/>
<path d="M1255.98,177.36 L1259.58,184.36 L1252.38,184.36 Z" fill="none" stroke="#000" stroke-width="2.6" stroke-linejoin="miter"/>
<path d="M1262.40,178.24 L1266.00,185.24 L1258.80,185.24 Z" fill="none" stroke="#000" stroke-width="2.6" stroke-linejoin="miter"/>
<path d="M626.72,83.84 L630.32,90.84 L623.12,90.84 Z" fill="none" stroke="#000" stroke-width="2.6" stroke-linejoin="miter"/>
<path d="M633.14,85.55 L636.74,92.55 L629.54,92.55 Z" fill="none" stroke="#000" stroke-width="2.6" stroke-linejoin="miter"/>
<path d="M639.56,87.25 L643.16,94.25 L635.96,94.25 Z" fill="none" stroke="#000" stroke-width="2.6" stroke-linejoin="miter"/>
<path d="M645.98,88.93 L649.58,95.93 L642.38,95.93 Z" fill="none" stroke="#000" stroke-width="2.6" stroke-linejoin="miter"/>
<path d="M652.40,90.60 L656.00,97.60 L648.80,97.60 Z" fill="none" stroke="#000" stroke-width="2.6" stroke-linejoin="miter"/>
<path d="M658.83,92.25 L662.43,99.25 L655.23,99.25 Z" fill="none" stroke="#000" stroke-width="2.6" stroke-linejoin="miter"/>
<path d="M665.25,93.89 L668.85,100.89 L661.65,100.89 Z" fill="none" stroke="#000" stroke-width="2.6" stroke-linejoin="miter"/>
<path d="M671.67,95.52 L675.27,102.52 L668.07,102.52 Z" fill="none" stroke="#000" stroke-width="2.6" stroke-linejoin="miter"/>
<path d="M678.09,97.13 L681.69,104.13 L674.49,104.13 Z" fill="none" stroke="#000" stroke-width="2.6" stroke-linejoin="miter"/>
<path d="M684.51,98.73 L688.11,105.73 L680.91,105.73 Z" fill="none" stroke="#000" stroke-width="2.6" stroke-linejoin="miter"/>
<path d="M690.93,100.31 L694.53,107.31 L687.33,107.31 Z" fill="none" stroke="#000" stroke-width="2.6" stroke-linejoin="miter"/>
<path d="M697.35,101.88 L700.95,108.88 L693.75,108.88 Z" fill="none" stroke="#000" stroke-width="2.6" stroke-linejoin="miter"/>
<path d="M703.77,103.43 L707.37,110.43 L700.17,110.43 Z" fill="none" stroke="#000" stroke-width="2.6" stroke-linejoin="miter"/>
<path d="M710.19,104.96 L713.79,111.96 L706.59,111.96 Z" fill="none" stroke="#000" stroke-width="2.6" stroke-linejoin="miter"/>
<path d="M716.62,106.48 L720.22,113.48 L713.01,113.48 Z" fill="none" stroke="#000" stroke-width="2.6" stroke-linejoin="miter"/>
<path d="M723.04,107.98 L726.64,114.98 L719.44,114.98 Z" fill="none" stroke="#000" stroke-width="2.6" stroke-linejoin="miter"/>
<path d="M729.46,109.47 L733.06,116.47 L725.86,116.47 Z" fill="none" stroke="#000" stroke-width="2.6" stroke-linejoin="miter"/>
<path d="M735.88,110.93 L739.48,117.93 L732.28,117.93 Z" fill="none" stroke="#000" stroke-width="2.6" stroke-linejoin="miter"/>
<path d="M742.30,112.38 L745.90,119.38 L738.70,119.38 Z" fill="none" stroke="#000" stroke-width="2.6" stroke-linejoin="miter"/>
<path d="M748.72,113.81 L752.32,120.81 L745.12,120.81 Z" fill="none" stroke="#000" stroke-width="2.6" stroke-linejoin="miter"/>
<path d="M755.14,115.22 L758.74,122.22 L751.54,122.22 Z" fill="none" stroke="#000" stroke-width="2.6" stroke-linejoin="miter"/>
<path d="M761.56,116.61 L765.16,123.61 L757.96,123.61 Z" fill="none" stroke="#000" stroke-width="2.6" stroke-linejoin="miter"/>
<path d="M767.98,117.99 L771.58,124.99 L764.38,124.99 Z" fill="none" stroke="#000" stroke-width="2.6" stroke-linejoin="miter"/>
<path d="M774.40,119.34 L778.00,126.34 L770.80,126.34 Z" fill="none" stroke="#000" stroke-width="2.6" stroke-linejoin="miter"/>
<path d="M780.82,120.68 L784.42,127.68 L777.22,127.68 Z" fill="none" stroke="#000" stroke-width="2.6" stroke-linejoin="miter"/>
<path d="M787.25,121.99 L790.85,128.99 L783.65,128.99 Z" fill="none" stroke="#000" stroke-width="2.6" stroke-linejoin="miter"/>
<path d="M793.67,123.28 L797.27,130.28 L790.07,130.28 Z" fill="none" stroke="#000" stroke-width="2.6" stroke-linejoin="miter"/>
<path d="M800.09,124.56 L803.69,131.56 L796.49,131.56 Z" fill="none" stroke="#000" stroke-width="2.6" stroke-linejoin="miter"/>
<path d="M806.51,125.81 L810.11,132.81 L802.91,132.81 Z" fill="none" stroke="#000" stroke-width="2.6" stroke-linejoin="miter"/>
<path d="M812.93,127.04 L816.53,134.04 L809.33,134.04 Z" fill="none" stroke="#000" stroke-width="2.6" stroke-linejoin="miter"/>
<path d="M819.35,128.25 L822.95,135.25 L815.75,135.25 Z" fill="none" stroke="#000" stroke-width="2.6" stroke-linejoin="miter"/>
<path d="M825.77,129.45 L829.37,136.45 L822.17,136.45 Z" fill="none" stroke="#000" stroke-width="2.6" stroke-linejoin="miter"/>
<path d="M832.19,130.63 L835.79,137.63 L828.59,137.63 Z" fill="none" stroke="#000" stroke-width="2.6" stroke-linejoin="miter"/>
<path d="M838.61,131.79 L842.21,138.79 L835.01,138.79 Z" fill="none" stroke="#000" stroke-width="2.6" stroke-linejoin="miter"/>
<path d="M845.03,132.94 L848.63,139.94 L841.43,139.94 Z" fill="none" stroke="#000" stroke-width="2.6" stroke-linejoin="miter"/>
<path d="M851.46,134.07 L855.06,141.07 L847.86,141.07 Z" fill="none" stroke="#000" stroke-width="2.6" stroke-linejoin="miter"/>
<path d="M857.88,135.19 L861.48,142.19 L854.28,142.19 Z" fill="none" stroke="#000" stroke-width="2.6" stroke-linejoin="miter"/>
<path d="M864.30,136.30 L867.90,143.30 L860.70,143.30 Z" fill="none" stroke="#000" stroke-width="2.6" stroke-linejoin="miter"/>
<path d="M870.72,137.39 L874.32,144.39 L867.12,144.39 Z" fill="none" stroke="#000" stroke-width="2.6" stroke-linejoin="miter"/>
<path d="M877.14,138.48 L880.74,145.48 L873.54,145.48 Z" fill="none" stroke="#000" stroke-width="2.6" stroke-linejoin="miter"/>
<path d="M883.56,139.55 L887.16,146.55 L879.96,146.55 Z" fill="none" stroke="#000" stroke-width="2.6" stroke-linejoin="miter"/>
<path d="M889.98,140.62 L893.58,147.62 L886.38,147.62 Z" fill="none" stroke="#000" stroke-width="2.6" stroke-linejoin="miter"/>
<path d="M896.40,141.68 L900.00,148.68 L892.80,148.68 Z" fill="none" stroke="#000" stroke-width="2.6" stroke-linejoin="miter"/>
<path d="M902.82,142.73 L906.42,149.73 L899.22,149.73 Z" fill="none" stroke="#000" stroke-width="2.6" stroke-linejoin="miter"/>
<path d="M909.24,143.78 L912.84,150.78 L905.64,150.78 Z" fill="none" stroke="#000" stroke-width="2.6" stroke-linejoin="miter"/>
<path d="M915.67,144.82 L919.27,151.82 L912.07,151.82 Z" fill="none" stroke="#000" stroke-width="2.6" stroke-linejoin="miter"/>
<path d="M922.09,145.86 L925.69,152.86 L918.49,152.86 Z" fill="none" stroke="#000" stroke-width="2.6" stroke-linejoin="miter"/>
<path d="M928.51,146.90 L932.11,153.90 L924.91,153.90 Z" fill="none" stroke="#000" stroke-width="2.6" stroke-linejoin="miter"/>
<path d="M934.93,147.93 L938.53,154.93 L931.33,154.93 Z" fill="none" stroke="#000" stroke-width="2.6" stroke-linejoin="miter"/>
<path d="M941.35,148.97 L944.95,155.97 L937.75,155.97 Z" fill="none" stroke="#000" stroke-width="2.6" stroke-linejoin="miter"/>
<path d="M947.77,150.00 L951.37,157.00 L944.17,157.00 Z" fill="none" stroke="#000" stroke-width="2.6" stroke-linejoin="miter"/>
<path d="M954.19,151.04 L957.79,158.04 L950.59,158.04 Z" fill="none" stroke="#000" stroke-width="2.6" stroke-linejoin="miter"/>
<path d="M960.61,152.08 L964.21,159.08 L957.01,159.08 Z" fill="none" stroke="#000" stroke-width="2.6" stroke-linejoin="miter"/>
<path d="M967.03,153.12 L970.63,160.12 L963.43,160.12 Z" fill="none" stroke="#000" stroke-width="2.6" stroke-linejoin="miter"/>
<path d="M973.45,154.16 L977.05,161.16 L969.85,161.16 Z" fill="none" stroke="#000" stroke-width="2.6" stroke-linejoin="miter"/>
<path d="M979.88,155.21 L983.48,162.21 L976.28,162.21 Z" fill="none" stroke="#000" stroke-width="2.6" stroke-linejoin="miter"/>
<path d="M986.30,156.27 L989.90,163.27 L982.70,163.27 Z" fill="none" stroke="#000" stroke-width="2.6" stroke-linejoin="miter"/>
<path d="M992.72,157.33 L996.32,164.33 L989.12,164.33 Z" fill="none" stroke="#000" stroke-width="2.6" stroke-linejoin="miter"/>
<path d="M999.14,158.40 L1002.74,165.40 L995.54,165.40 Z" fill="none" stroke="#000" stroke-width="2.6" stroke-linejoin="miter"/>
<path d="M1005.56,159.48 L1009.16,166.48 L1001.96,166.48 Z" fill="none" stroke="#000" stroke-width="2.6" stroke-linejoin="miter"/>
<path d="M1011.98,160.56 L1015.58,167.56 L1008.38,167.56 Z" fill="none" stroke="#000" stroke-width="2.6" stroke-linejoin="miter"/>
<path d="M1018.40,161.66 L1022.00,168.66 L1014.80,168.66 Z" fill="none" stroke="#000" stroke-width="2.6" stroke-linejoin="miter"/>
<path d="M1024.82,162.75 L1028.42,169.75 L1021.22,169.75 Z" fill="none" stroke="#000" stroke-width="2.6" stroke-linejoin="miter"/>
<path d="M1031.24,163.85 L1034.84,170.85 L1027.64,170.85 Z" fill="none" stroke="#000" stroke-width="2.6" stroke-linejoin="miter"/>
<path d="M1037.66,164.96 L1041.26,171.96 L1034.07,171.96 Z" fill="none" stroke="#000" stroke-width="2.6" stroke-linejoin="miter"/>
<path d="M1044.09,166.06 L1047.69,173.06 L1040.49,173.06 Z" fill="none" stroke="#000" stroke-width="2.6" stroke-linejoin="miter"/>
<path d="M1050.51,167.16 L1054.11,174.16 L1046.91,174.16 Z" fill="none" stroke="#000" stroke-width="2.6" stroke-linejoin="miter"/>
<path d="M1056.93,168.26 L1060.53,175.26 L1053.33,175.26 Z" fill="none" stroke="#000" stroke-width="2.6" stroke-linejoin="miter"/>
<path d="M1063.35,169.35 L1066.95,176.35 L1059.75,176.35 Z" fill="none" stroke="#000" stroke-width="2.6" stroke-linejoin="miter"/>
<path d="M1069.77,170.44 L1073.37,177.44 L1066.17,177.44 Z" fill="none" stroke="#000" stroke-width="2.6" stroke-linejoin="miter"/>
<path d="M1076.19,171.53 L1079.79,178.53 L1072.59,178.53 Z" fill="none" stroke="#000" stroke-width="2.6" stroke-linejoin="miter"/>
<path d="M1082.61,172.60 L1086.21,179.60 L1079.01,179.60 Z" fill="none" stroke="#000" stroke-width="2.6" stroke-linejoin="miter"/>
<path d="M1089.03,173.66 L1092.63,180.66 L1085.43,180.66 Z" fill="none" stroke="#000" stroke-width="2.6" stroke-linejoin="miter"/>
<path d="M1095.45,174.72 L1099.05,181.72 L1091.85,181.72 Z" fill="none" stroke="#000" stroke-width="2.6" stroke-linejoin="miter"/>
<path d="M1101.88,175.76 L1105.47,182.76 L1098.28,182.76 Z" fill="none" stroke="#000" stroke-width="2.6" stroke-linejoin="miter"/>
<path d="M1108.30,176.79 L1111.90,183.79 L1104.70,183.79 Z" fill="none" stroke="#000" stroke-width="2.6" stroke-linejoin="miter"/>
<path d="M1114.72,177.80 L1118.32,184.80 L1111.12,184.80 Z" fill="none" stroke="#000" stroke-width="2.6" stroke-linejoin="miter"/>
<path d="M1121.14,178.79 L1124.74,185.79 L1117.54,185.79 Z" fill="none" stroke="#000" stroke-width="2.6" stroke-linejoin="miter"/>
<path d="M1127.56,179.77 L1131.16,186.77 L1123.96,186.77 Z" fill="none" stroke="#000" stroke-width="2.6" stroke-linejoin="miter"/>
<path d="M1133.98,180.73 L1137.58,187.73 L1130.38,187.73 Z" fill="none" stroke="#000" stroke-width="2.6" stroke-linejoin="miter"/>
<path d="M1140.40,181.67 L1144.00,188.67 L1136.80,188.67 Z" fill="none" stroke="#000" stroke-width="2.6" stroke-linejoin="miter"/>
<path d="M1146.82,182.60 L1150.42,189.60 L1143.22,189.60 Z" fill="none" stroke="#000" stroke-width="2.6" stroke-linejoin="miter"/>
<path d="M1153.24,183.53 L1156.84,190.53 L1149.64,190.53 Z" fill="none" stroke="#000" stroke-width="2.6" stroke-linejoin="miter"/>
<path d="M1159.66,184.46 L1163.26,191.46 L1156.06,191.46 Z" fill="none" stroke="#000" stroke-width="2.6" stroke-linejoin="miter"/>
<path d="M1166.09,185.40 L1169.68,192.40 L1162.49,192.40 Z" fill="none" stroke="#000" stroke-width="2.6" stroke-linejoin="miter"/>
<path d="M1172.51,186.36 L1176.11,193.36 L1168.91,193.36 Z" fill="none" stroke="#000" stroke-width="2.6" stroke-linejoin="miter"/>
<path d="M1178.93,187.34 L1182.53,194.34 L1175.33,194.34 Z" fill="none" stroke="#000" stroke-width="2.6" stroke-linejoin="miter"/>
<path d="M1185.35,188.35 L1188.95,195.35 L1181.75,195.35 Z" fill="none" stroke="#000" stroke-width="2.6" stroke-linejoin="miter"/>
<path d="M1191.77,189.40 L1195.37,196.40 L1188.17,196.40 Z" fill="none" stroke="#000" stroke-width="2.6" stroke-linejoin="miter"/>
<path d="M1198.19,190.49 L1201.79,197.49 L1194.59,197.49 Z" fill="none" stroke="#000" stroke-width="2.6" stroke-linejoin="miter"/>
<path d="M1204.61,191.63 L1208.21,198.63 L1201.01,198.63 Z" fill="none" stroke="#000" stroke-width="2.6" stroke-linejoin="miter"/>
<path d="M1211.03,192.82 L1214.63,199.82 L1207.43,199.82 Z" fill="none" stroke="#000" stroke-width="2.6" stroke-linejoin="miter"/>
<path d="M1217.45,194.07 L1221.05,201.07 L1213.85,201.07 Z" fill="none" stroke="#000" stroke-width="2.6" stroke-linejoin="miter"/>
<path d="M1223.87,195.40 L1227.47,202.40 L1220.27,202.40 Z" fill="none" stroke="#000" stroke-width="2.6" stroke-linejoin="miter"/>
<path d="M1230.30,196.80 L1233.89,203.80 L1226.70,203.80 Z" fill="none" stroke="#000" stroke-width="2.6" stroke-linejoin="miter"/>
<path d="M1236.72,198.28 L1240.32,205.28 L1233.12,205.28 Z" fill="none" stroke="#000" stroke-width="2.6" stroke-linejoin="miter"/>
<path d="M1243.14,199.84 L1246.74,206.84 L1239.54,206.84 Z" fill="none" stroke="#000" stroke-width="2.6" stroke-linejoin="miter"/>
<path d="M1249.56,201.51 L1253.16,208.51 L1245.96,208.51 Z" fill="none" stroke="#000" stroke-width="2.6" stroke-linejoin="miter"/>
<path d="M1255.98,203.27 L1259.58,210.27 L1252.38,210.27 Z" fill="none" stroke="#000" stroke-width="2.6" stroke-linejoin="miter"/>
<path d="M1262.40,205.14 L1266.00,212.14 L1258.80,212.14 Z" fill="none" stroke="#000" stroke-width="2.6" stroke-linejoin="miter"/>
<path d="M1249.56,156.42 L1253.16,163.42 L1245.96,163.42 Z" fill="none" stroke="#000" stroke-width="2.6" stroke-linejoin="miter"/>
<path d="M639.56,95.89 L644.36,104.99 L634.76,104.99 Z" fill="#ff0a0a"/>
<path d="M645.98,97.50 L650.78,106.60 L641.18,106.60 Z" fill="#ff0a0a"/>
<path d="M652.40,99.06 L657.20,108.16 L647.61,108.16 Z" fill="#ff0a0a"/>
<path d="M658.83,100.57 L663.63,109.67 L654.03,109.67 Z" fill="#ff0a0a"/>
<path d="M665.25,102.04 L670.05,111.14 L660.45,111.14 Z" fill="#ff0a0a"/>
<path d="M671.67,103.47 L676.47,112.57 L666.87,112.57 Z" fill="#ff0a0a"/>
<path d="M678.09,104.86 L682.89,113.96 L673.29,113.96 Z" fill="#ff0a0a"/>
<path d="M684.51,106.20 L689.31,115.30 L679.71,115.30 Z" fill="#ff0a0a"/>
<path d="M690.93,107.50 L695.73,116.60 L686.13,116.60 Z" fill="#ff0a0a"/>
<path d="M697.35,108.77 L702.15,117.87 L692.55,117.87 Z" fill="#ff0a0a"/>
<path d="M703.77,109.99 L708.57,119.09 L698.97,119.09 Z" fill="#ff0a0a"/>
<path d="M710.19,111.18 L714.99,120.28 L705.39,120.28 Z" fill="#ff0a0a"/>
<path d="M716.62,112.34 L721.41,121.44 L711.82,121.44 Z" fill="#ff0a0a"/>
<path d="M723.04,113.46 L727.84,122.56 L718.24,122.56 Z" fill="#ff0a0a"/>
<path d="M729.46,114.55 L734.26,123.65 L724.66,123.65 Z" fill="#ff0a0a"/>
<path d="M735.88,115.60 L740.68,124.70 L731.08,124.70 Z" fill="#ff0a0a"/>
<path d="M742.30,116.62 L747.10,125.72 L737.50,125.72 Z" fill="#ff0a0a"/>
<path d="M748.72,117.62 L753.52,126.72 L743.92,126.72 Z" fill="#ff0a0a"/>
<path d="M755.14,118.58 L759.94,127.68 L750.34,127.68 Z" fill="#ff0a0a"/>
<path d="M761.56,119.52 L766.36,128.62 L756.76,128.62 Z" fill="#ff0a0a"/>
<path d="M767.98,120.43 L772.78,129.53 L763.18,129.53 Z" fill="#ff0a0a"/>
<path d="M774.40,121.32 L779.20,130.42 L769.60,130.42 Z" fill="#ff0a0a"/>
<path d="M780.82,122.18 L785.62,131.28 L776.02,131.28 Z" fill="#ff0a0a"/>
<path d="M787.25,123.02 L792.05,132.12 L782.45,132.12 Z" fill="#ff0a0a"/>
<path d="M793.67,123.84 L798.47,132.94 L788.87,132.94 Z" fill="#ff0a0a"/>
<path d="M800.09,124.63 L804.89,133.73 L795.29,133.73 Z" fill="#ff0a0a"/>
<path d="M806.51,125.41 L811.31,134.51 L801.71,134.51 Z" fill="#ff0a0a"/>
<path d="M812.93,126.17 L817.73,135.27 L808.13,135.27 Z" fill="#ff0a0a"/>
<path d="M819.35,126.91 L824.15,136.01 L814.55,136.01 Z" fill="#ff0a0a"/>
<path d="M825.77,127.64 L830.57,136.74 L820.97,136.74 Z" fill="#ff0a0a"/>
<path d="M832.19,128.35 L836.99,137.45 L827.39,137.45 Z" fill="#ff0a0a"/>
<path d="M838.61,129.05 L843.41,138.15 L833.81,138.15 Z" fill="#ff0a0a"/>
<path d="M845.03,129.73 L849.83,138.83 L840.24,138.83 Z" fill="#ff0a0a"/>
<path d="M851.46,130.41 L856.26,139.51 L846.66,139.51 Z" fill="#ff0a0a"/>
<path d="M857.88,131.07 L862.68,140.17 L853.08,140.17 Z" fill="#ff0a0a"/>
<path d="M864.30,131.72 L869.10,140.82 L859.50,140.82 Z" fill="#ff0a0a"/>
<path d="M870.72,132.37 L875.52,141.47 L865.92,141.47 Z" fill="#ff0a0a"/>
<path d="M877.14,133.01 L881.94,142.11 L872.34,142.11 Z" fill="#ff0a0a"/>
<path d="M883.56,133.64 L888.36,142.74 L878.76,142.74 Z" fill="#ff0a0a"/>
<path d="M889.98,134.27 L894.78,143.37 L885.18,143.37 Z" fill="#ff0a0a"/>
<path d="M896.40,134.90 L901.20,144.00 L891.60,144.00 Z" fill="#ff0a0a"/>
<path d="M902.82,135.52 L907.62,144.62 L898.02,144.62 Z" fill="#ff0a0a"/>
<path d="M909.24,136.14 L914.04,145.24 L904.44,145.24 Z" fill="#ff0a0a"/>
<path d="M915.67,136.77 L920.47,145.87 L910.87,145.87 Z" fill="#ff0a0a"/>
<path d="M922.09,137.39 L926.89,146.49 L917.29,146.49 Z" fill="#ff0a0a"/>
<path d="M928.51,138.02 L933.31,147.12 L923.71,147.12 Z" fill="#ff0a0a"/>
<path d="M934.93,138.65 L939.73,147.75 L930.13,147.75 Z" fill="#ff0a0a"/>
<path d="M941.35,139.28 L946.15,148.38 L936.55,148.38 Z" fill="#ff0a0a"/>
<path d="M947.77,139.92 L952.57,149.02 L942.97,149.02 Z" fill="#ff0a0a"/>
<path d="M954.19,140.57 L958.99,149.67 L949.39,149.67 Z" fill="#ff0a0a"/>
<path d="M960.61,141.22 L965.41,150.32 L955.81,150.32 Z" fill="#ff0a0a"/>
<path d="M967.03,141.88 L971.83,150.98 L962.23,150.98 Z" fill="#ff0a0a"/>
<path d="M973.45,142.54 L978.25,151.64 L968.65,151.64 Z" fill="#ff0a0a"/>
<path d="M979.88,143.21 L984.68,152.31 L975.08,152.31 Z" fill="#ff0a0a"/>
<path d="M986.30,143.88 L991.10,152.98 L981.50,152.98 Z" fill="#ff0a0a"/>
<path d="M992.72,144.56 L997.52,153.66 L987.92,153.66 Z" fill="#ff0a0a"/>
<path d="M999.14,145.24 L1003.94,154.34 L994.34,154.34 Z" fill="#ff0a0a"/>
<path d="M1005.56,145.93 L1010.36,155.03 L1000.76,155.03 Z" fill="#ff0a0a"/>
<path d="M1011.98,146.62 L1016.78,155.72 L1007.18,155.72 Z" fill="#ff0a0a"/>
<path d="M1018.40,147.32 L1023.20,156.42 L1013.60,156.42 Z" fill="#ff0a0a"/>
<path d="M1024.82,148.02 L1029.62,157.12 L1020.02,157.12 Z" fill="#ff0a0a"/>
<path d="M1031.24,148.73 L1036.04,157.83 L1026.44,157.83 Z" fill="#ff0a0a"/>
<path d="M1037.66,149.45 L1042.46,158.55 L1032.87,158.55 Z" fill="#ff0a0a"/>
<path d="M1044.09,150.16 L1048.89,159.26 L1039.29,159.26 Z" fill="#ff0a0a"/>
<path d="M1050.51,150.89 L1055.31,159.99 L1045.71,159.99 Z" fill="#ff0a0a"/>
<path d="M1056.93,151.61 L1061.73,160.71 L1052.13,160.71 Z" fill="#ff0a0a"/>
<path d="M1063.35,152.35 L1068.15,161.45 L1058.55,161.45 Z" fill="#ff0a0a"/>
<path d="M1069.77,153.08 L1074.57,162.18 L1064.97,162.18 Z" fill="#ff0a0a"/>
<path d="M1076.19,153.82 L1080.99,162.92 L1071.39,162.92 Z" fill="#ff0a0a"/>
<path d="M1082.61,154.57 L1087.41,163.67 L1077.81,163.67 Z" fill="#ff0a0a"/>
<path d="M1089.03,155.32 L1093.83,164.42 L1084.23,164.42 Z" fill="#ff0a0a"/>
<path d="M1095.45,156.07 L1100.25,165.17 L1090.65,165.17 Z" fill="#ff0a0a"/>
<path d="M1101.88,156.83 L1106.67,165.93 L1097.08,165.93 Z" fill="#ff0a0a"/>
<path d="M1108.30,157.59 L1113.10,166.69 L1103.50,166.69 Z" fill="#ff0a0a"/>
<path d="M1114.72,158.36 L1119.52,167.46 L1109.92,167.46 Z" fill="#ff0a0a"/>
<path d="M1121.14,159.13 L1125.94,168.23 L1116.34,168.23 Z" fill="#ff0a0a"/>
<path d="M1127.56,159.91 L1132.36,169.01 L1122.76,169.01 Z" fill="#ff0a0a"/>
<path d="M1133.98,160.68 L1138.78,169.78 L1129.18,169.78 Z" fill="#ff0a0a"/>
<path d="M1140.40,161.47 L1145.20,170.57 L1135.60,170.57 Z" fill="#ff0a0a"/>
<path d="M1146.82,162.25 L1151.62,171.35 L1142.02,171.35 Z" fill="#ff0a0a"/>
<path d="M1153.24,163.04 L1158.04,172.14 L1148.44,172.14 Z" fill="#ff0a0a"/>
<path d="M1159.66,163.84 L1164.46,172.94 L1154.86,172.94 Z" fill="#ff0a0a"/>
<path d="M1166.09,164.64 L1170.88,173.74 L1161.29,173.74 Z" fill="#ff0a0a"/>
<path d="M1172.51,165.44 L1177.31,174.54 L1167.71,174.54 Z" fill="#ff0a0a"/>
<path d="M1178.93,166.24 L1183.73,175.34 L1174.13,175.34 Z" fill="#ff0a0a"/>
<path d="M1185.35,167.05 L1190.15,176.15 L1180.55,176.15 Z" fill="#ff0a0a"/>
<path d="M1191.77,167.86 L1196.57,176.96 L1186.97,176.96 Z" fill="#ff0a0a"/>
<path d="M1198.19,168.68 L1202.99,177.78 L1193.39,177.78 Z" fill="#ff0a0a"/>
<path d="M1204.61,169.50 L1209.41,178.60 L1199.81,178.60 Z" fill="#ff0a0a"/>
<path d="M1211.03,170.32 L1215.83,179.42 L1206.23,179.42 Z" fill="#ff0a0a"/>
<path d="M1217.45,171.15 L1222.25,180.25 L1212.65,180.25 Z" fill="#ff0a0a"/>
<path d="M1223.87,171.97 L1228.67,181.07 L1219.07,181.07 Z" fill="#ff0a0a"/>
<path d="M1230.30,172.81 L1235.10,181.91 L1225.50,181.91 Z" fill="#ff0a0a"/>
<path d="M1236.72,173.64 L1241.52,182.74 L1231.92,182.74 Z" fill="#ff0a0a"/>
<path d="M1243.14,174.48 L1247.94,183.58 L1238.34,183.58 Z" fill="#ff0a0a"/>
<path d="M1249.56,175.32 L1254.36,184.42 L1244.76,184.42 Z" fill="#ff0a0a"/>
<path d="M1255.98,176.16 L1260.78,185.26 L1251.18,185.26 Z" fill="#ff0a0a"/>
<path d="M1262.40,177.01 L1267.20,186.11 L1257.60,186.11 Z" fill="#ff0a0a"/>
<path d="M626.72,114.53 L631.52,123.63 L621.92,123.63 Z" fill="#ff0a0a"/>
<path d="M633.14,115.97 L637.94,125.07 L628.34,125.07 Z" fill="#ff0a0a"/>
<path d="M639.56,117.40 L644.36,126.50 L634.76,126.50 Z" fill="#ff0a0a"/>
<path d="M645.98,118.80 L650.78,127.90 L641.18,127.90 Z" fill="#ff0a0a"/>
<path d="M652.40,120.19 L657.20,129.29 L647.61,129.29 Z" fill="#ff0a0a"/>
<path d="M658.83,121.56 L663.63,130.66 L654.03,130.66 Z" fill="#ff0a0a"/>
<path d="M665.25,122.91 L670.05,132.01 L660.45,132.01 Z" fill="#ff0a0a"/>
<path d="M671.67,124.25 L676.47,133.35 L666.87,133.35 Z" fill="#ff0a0a"/>
<path d="M678.09,125.56 L682.89,134.66 L673.29,134.66 Z" fill="#ff0a0a"/>
<path d="M684.51,126.86 L689.31,135.96 L679.71,135.96 Z" fill="#ff0a0a"/>
<path d="M690.93,128.15 L695.73,137.25 L686.13,137.25 Z" fill="#ff0a0a"/>
<path d="M697.35,129.42 L702.15,138.52 L692.55,138.52 Z" fill="#ff0a0a"/>
<path d="M703.77,130.67 L708.57,139.77 L698.97,139.77 Z" fill="#ff0a0a"/>
<path d="M710.19,131.90 L714.99,141.00 L705.39,141.00 Z" fill="#ff0a0a"/>
<path d="M716.62,133.12 L721.41,142.22 L711.82,142.22 Z" fill="#ff0a0a"/>
<path d="M723.04,134.33 L727.84,143.43 L718.24,143.43 Z" fill="#ff0a0a"/>
<path d="M729.46,135.52 L734.26,144.62 L724.66,144.62 Z" fill="#ff0a0a"/>
<path d="M735.88,136.70 L740.68,145.80 L731.08,145.80 Z" fill="#ff0a0a"/>
<path d="M742.30,137.86 L747.10,146.96 L737.50,146.96 Z" fill="#ff0a0a"/>
<path d="M748.72,139.01 L753.52,148.11 L743.92,148.11 Z" fill="#ff0a0a"/>
<path d="M755.14,140.14 L759.94,149.24 L750.34,149.24 Z" fill="#ff0a0a"/>
<path d="M761.56,141.26 L766.36,150.36 L756.76,150.36 Z" fill="#ff0a0a"/>
<path d="M767.98,142.37 L772.78,151.47 L763.18,151.47 Z" fill="#ff0a0a"/>
<path d="M774.40,143.47 L779.20,152.57 L769.60,152.57 Z" fill="#ff0a0a"/>
<path d="M780.82,144.55 L785.62,153.65 L776.02,153.65 Z" fill="#ff0a0a"/>
<path d="M787.25,145.62 L792.05,154.72 L782.45,154.72 Z" fill="#ff0a0a"/>
<path d="M793.67,146.68 L798.47,155.78 L788.87,155.78 Z" fill="#ff0a0a"/>
<path d="M800.09,147.73 L804.89,156.83 L795.29,156.83 Z" fill="#ff0a0a"/>
<path d="M806.51,148.77 L811.31,157.87 L801.71,157.87 Z" fill="#ff0a0a"/>
<path d="M812.93,149.79 L817.73,158.89 L808.13,158.89 Z" fill="#ff0a0a"/>
<path d="M819.35,150.81 L824.15,159.91 L814.55,159.91 Z" fill="#ff0a0a"/>
<path d="M825.77,151.81 L830.57,160.91 L820.97,160.91 Z" fill="#ff0a0a"/>
<path d="M832.19,152.81 L836.99,161.91 L827.39,161.91 Z" fill="#ff0a0a"/>
<path d="M838.61,153.79 L843.41,162.89 L833.81,162.89 Z" fill="#ff0a0a"/>
<path d="M845.03,154.77 L849.83,163.87 L840.24,163.87 Z" fill="#ff0a0a"/>
<path d="M851.46,155.74 L856.26,164.84 L846.66,164.84 Z" fill="#ff0a0a"/>
<path d="M857.88,156.69 L862.68,165.79 L853.08,165.79 Z" fill="#ff0a0a"/>
<path d="M864.30,157.64 L869.10,166.74 L859.50,166.74 Z" fill="#ff0a0a"/>
<path d="M870.72,158.58 L875.52,167.68 L865.92,167.68 Z" fill="#ff0a0a"/>
<path d="M877.14,159.52 L881.94,168.62 L872.34,168.62 Z" fill="#ff0a0a"/>
<path d="M883.56,160.44 L888.36,169.54 L878.76,169.54 Z" fill="#ff0a0a"/>
<path d="M889.98,161.36 L894.78,170.46 L885.18,170.46 Z" fill="#ff0a0a"/>
<path d="M896.40,162.27 L901.20,171.37 L891.60,171.37 Z" fill="#ff0a0a"/>
<path d="M902.82,163.18 L907.62,172.28 L898.02,172.28 Z" fill="#ff0a0a"/>
<path d="M909.24,164.07 L914.04,173.17 L904.44,173.17 Z" fill="#ff0a0a"/>
<path d="M915.67,164.97 L920.47,174.07 L910.87,174.07 Z" fill="#ff0a0a"/>
<path d="M922.09,165.85 L926.89,174.95 L917.29,174.95 Z" fill="#ff0a0a"/>
<path d="M928.51,166.73 L933.31,175.83 L923.71,175.83 Z" fill="#ff0a0a"/>
<path d="M934.93,167.61 L939.73,176.71 L930.13,176.71 Z" fill="#ff0a0a"/>
<path d="M941.35,168.48 L946.15,177.58 L936.55,177.58 Z" fill="#ff0a0a"/>
<path d="M954.19,170.20 L958.99,179.30 L949.39,179.30 Z" fill="#ff0a0a"/>
<path d="M960.61,171.06 L965.41,180.16 L955.81,180.16 Z" fill="#ff0a0a"/>
<path d="M967.03,171.91 L971.83,181.01 L962.23,181.01 Z" fill="#ff0a0a"/>
<path d="M973.45,172.76 L978.25,181.86 L968.65,181.86 Z" fill="#ff0a0a"/>
<path d="M979.88,173.61 L984.68,182.71 L975.08,182.71 Z" fill="#ff0a0a"/>
<path d="M986.30,174.45 L991.10,183.55 L981.50,183.55 Z" fill="#ff0a0a"/>
<path d="M992.72,175.30 L997.52,184.40 L987.92,184.40 Z" fill="#ff0a0a"/>
<path d="M999.14,176.13 L1003.94,185.23 L994.34,185.23 Z" fill="#ff0a0a"/>
<path d="M1011.98,177.81 L1016.78,186.91 L1007.18,186.91 Z" fill="#ff0a0a"/>
<path d="M1018.40,178.64 L1023.20,187.74 L1013.60,187.74 Z" fill="#ff0a0a"/>
<path d="M1024.82,179.47 L1029.62,188.57 L1020.02,188.57 Z" fill="#ff0a0a"/>
<path d="M1031.24,180.30 L1036.04,189.40 L1026.44,189.40 Z" fill="#ff0a0a"/>
<path d="M1037.66,181.14 L1042.46,190.24 L1032.87,190.24 Z" fill="#ff0a0a"/>
<path d="M1044.09,181.97 L1048.89,191.07 L1039.29,191.07 Z" fill="#ff0a0a"/>
<path d="M1050.51,182.80 L1055.31,191.90 L1045.71,191.90 Z" fill="#ff0a0a"/>
<path d="M1056.93,183.63 L1061.73,192.73 L1052.13,192.73 Z" fill="#ff0a0a"/>
<path d="M1063.35,184.46 L1068.15,193.56 L1058.55,193.56 Z" fill="#ff0a0a"/>
<path d="M1069.77,185.29 L1074.57,194.39 L1064.97,194.39 Z" fill="#ff0a0a"/>
<path d="M1076.19,186.13 L1080.99,195.23 L1071.39,195.23 Z" fill="#ff0a0a"/>
<path d="M1082.61,186.96 L1087.41,196.06 L1077.81,196.06 Z" fill="#ff0a0a"/>
<path d="M1089.03,187.80 L1093.83,196.90 L1084.23,196.90 Z" fill="#ff0a0a"/>
<path d="M1095.45,188.64 L1100.25,197.74 L1090.65,197.74 Z" fill="#ff0a0a"/>
<path d="M1101.88,189.48 L1106.67,198.58 L1097.08,198.58 Z" fill="#ff0a0a"/>
<path d="M1108.30,190.33 L1113.10,199.43 L1103.50,199.43 Z" fill="#ff0a0a"/>
<path d="M1114.72,191.18 L1119.52,200.28 L1109.92,200.28 Z" fill="#ff0a0a"/>
<path d="M1121.14,192.03 L1125.94,201.13 L1116.34,201.13 Z" fill="#ff0a0a"/>
<path d="M1127.56,192.89 L1132.36,201.99 L1122.76,201.99 Z" fill="#ff0a0a"/>
<path d="M1133.98,193.74 L1138.78,202.84 L1129.18,202.84 Z" fill="#ff0a0a"/>
<path d="M1140.40,194.61 L1145.20,203.71 L1135.60,203.71 Z" fill="#ff0a0a"/>
<path d="M1146.82,195.48 L1151.62,204.58 L1142.02,204.58 Z" fill="#ff0a0a"/>
<path d="M1153.24,196.35 L1158.04,205.45 L1148.44,205.45 Z" fill="#ff0a0a"/>
<path d="M1159.66,197.23 L1164.46,206.33 L1154.86,206.33 Z" fill="#ff0a0a"/>
<path d="M1166.09,198.11 L1170.88,207.21 L1161.29,207.21 Z" fill="#ff0a0a"/>
<path d="M1172.51,199.00 L1177.31,208.10 L1167.71,208.10 Z" fill="#ff0a0a"/>
<path d="M1178.93,199.89 L1183.73,208.99 L1174.13,208.99 Z" fill="#ff0a0a"/>
<path d="M1185.35,200.80 L1190.15,209.90 L1180.55,209.90 Z" fill="#ff0a0a"/>
<path d="M1191.77,201.70 L1196.57,210.80 L1186.97,210.80 Z" fill="#ff0a0a"/>
<path d="M1198.19,202.62 L1202.99,211.72 L1193.39,211.72 Z" fill="#ff0a0a"/>
<path d="M1204.61,203.54 L1209.41,212.64 L1199.81,212.64 Z" fill="#ff0a0a"/>
<path d="M1211.03,204.47 L1215.83,213.57 L1206.23,213.57 Z" fill="#ff0a0a"/>
<path d="M1217.45,205.41 L1222.25,214.51 L1212.65,214.51 Z" fill="#ff0a0a"/>
<path d="M1223.87,206.35 L1228.67,215.45 L1219.07,215.45 Z" fill="#ff0a0a"/>
<path d="M1230.30,207.31 L1235.10,216.41 L1225.50,216.41 Z" fill="#ff0a0a"/>
<path d="M1236.72,208.27 L1241.52,217.37 L1231.92,217.37 Z" fill="#ff0a0a"/>
<path d="M1243.14,209.24 L1247.94,218.34 L1238.34,218.34 Z" fill="#ff0a0a"/>
<path d="M1249.56,210.22 L1254.36,219.32 L1244.76,219.32 Z" fill="#ff0a0a"/>
<path d="M1255.98,211.21 L1260.78,220.31 L1251.18,220.31 Z" fill="#ff0a0a"/>
<path d="M1262.40,212.21 L1267.20,221.31 L1257.60,221.31 Z" fill="#ff0a0a"/>
<path d="M626.72,44.01 L630.22,48.21 L626.72,52.41 L623.22,48.21 Z" fill="none" stroke="#1a14c8" stroke-width="2.4" stroke-linejoin="miter"/>
<path d="M633.14,46.38 L636.64,50.58 L633.14,54.78 L629.64,50.58 Z" fill="none" stroke="#1a14c8" stroke-width="2.4" stroke-linejoin="miter"/>
<path d="M639.56,48.63 L643.06,52.83 L639.56,57.03 L636.06,52.83 Z" fill="none" stroke="#1a14c8" stroke-width="2.4" stroke-linejoin="miter"/>
<path d="M645.98,50.76 L649.48,54.96 L645.98,59.16 L642.48,54.96 Z" fill="none" stroke="#1a14c8" stroke-width="2.4" stroke-linejoin="miter"/>
<path d="M652.40,52.78 L655.90,56.98 L652.40,61.18 L648.90,56.98 Z" fill="none" stroke="#1a14c8" stroke-width="2.4" stroke-linejoin="miter"/>
<path d="M658.83,54.69 L662.33,58.89 L658.83,63.09 L655.33,58.89 Z" fill="none" stroke="#1a14c8" stroke-width="2.4" stroke-linejoin="miter"/>
<path d="M665.25,56.51 L668.75,60.71 L665.25,64.91 L661.75,60.71 Z" fill="none" stroke="#1a14c8" stroke-width="2.4" stroke-linejoin="miter"/>
<path d="M671.67,58.24 L675.17,62.44 L671.67,66.64 L668.17,62.44 Z" fill="none" stroke="#1a14c8" stroke-width="2.4" stroke-linejoin="miter"/>
<path d="M678.09,59.88 L681.59,64.08 L678.09,68.28 L674.59,64.08 Z" fill="none" stroke="#1a14c8" stroke-width="2.4" stroke-linejoin="miter"/>
<path d="M684.51,61.45 L688.01,65.65 L684.51,69.85 L681.01,65.65 Z" fill="none" stroke="#1a14c8" stroke-width="2.4" stroke-linejoin="miter"/>
<path d="M690.93,62.94 L694.43,67.14 L690.93,71.34 L687.43,67.14 Z" fill="none" stroke="#1a14c8" stroke-width="2.4" stroke-linejoin="miter"/>
<path d="M697.35,64.37 L700.85,68.57 L697.35,72.77 L693.85,68.57 Z" fill="none" stroke="#1a14c8" stroke-width="2.4" stroke-linejoin="miter"/>
<path d="M703.77,65.75 L707.27,69.95 L703.77,74.15 L700.27,69.95 Z" fill="none" stroke="#1a14c8" stroke-width="2.4" stroke-linejoin="miter"/>
<path d="M710.19,67.07 L713.69,71.27 L710.19,75.47 L706.69,71.27 Z" fill="none" stroke="#1a14c8" stroke-width="2.4" stroke-linejoin="miter"/>
<path d="M716.62,68.34 L720.12,72.54 L716.62,76.74 L713.12,72.54 Z" fill="none" stroke="#1a14c8" stroke-width="2.4" stroke-linejoin="miter"/>
<path d="M723.04,69.58 L726.54,73.78 L723.04,77.98 L719.54,73.78 Z" fill="none" stroke="#1a14c8" stroke-width="2.4" stroke-linejoin="miter"/>
<path d="M729.46,70.79 L732.96,74.99 L729.46,79.19 L725.96,74.99 Z" fill="none" stroke="#1a14c8" stroke-width="2.4" stroke-linejoin="miter"/>
<path d="M735.88,71.97 L739.38,76.17 L735.88,80.37 L732.38,76.17 Z" fill="none" stroke="#1a14c8" stroke-width="2.4" stroke-linejoin="miter"/>
<path d="M742.30,73.13 L745.80,77.33 L742.30,81.53 L738.80,77.33 Z" fill="none" stroke="#1a14c8" stroke-width="2.4" stroke-linejoin="miter"/>
<path d="M748.72,74.28 L752.22,78.48 L748.72,82.68 L745.22,78.48 Z" fill="none" stroke="#1a14c8" stroke-width="2.4" stroke-linejoin="miter"/>
<path d="M755.14,75.43 L758.64,79.63 L755.14,83.83 L751.64,79.63 Z" fill="none" stroke="#1a14c8" stroke-width="2.4" stroke-linejoin="miter"/>
<path d="M761.56,76.57 L765.06,80.77 L761.56,84.97 L758.06,80.77 Z" fill="none" stroke="#1a14c8" stroke-width="2.4" stroke-linejoin="miter"/>
<path d="M767.98,77.73 L771.48,81.93 L767.98,86.13 L764.48,81.93 Z" fill="none" stroke="#1a14c8" stroke-width="2.4" stroke-linejoin="miter"/>
<path d="M774.40,78.89 L777.90,83.09 L774.40,87.29 L770.90,83.09 Z" fill="none" stroke="#1a14c8" stroke-width="2.4" stroke-linejoin="miter"/>
<path d="M780.82,80.08 L784.32,84.28 L780.82,88.48 L777.32,84.28 Z" fill="none" stroke="#1a14c8" stroke-width="2.4" stroke-linejoin="miter"/>
<path d="M787.25,81.30 L790.75,85.50 L787.25,89.70 L783.75,85.50 Z" fill="none" stroke="#1a14c8" stroke-width="2.4" stroke-linejoin="miter"/>
<path d="M793.67,82.55 L797.17,86.75 L793.67,90.95 L790.17,86.75 Z" fill="none" stroke="#1a14c8" stroke-width="2.4" stroke-linejoin="miter"/>
<path d="M800.09,83.84 L803.59,88.04 L800.09,92.24 L796.59,88.04 Z" fill="none" stroke="#1a14c8" stroke-width="2.4" stroke-linejoin="miter"/>
<path d="M806.51,85.17 L810.01,89.37 L806.51,93.57 L803.01,89.37 Z" fill="none" stroke="#1a14c8" stroke-width="2.4" stroke-linejoin="miter"/>
<path d="M812.93,86.55 L816.43,90.75 L812.93,94.95 L809.43,90.75 Z" fill="none" stroke="#1a14c8" stroke-width="2.4" stroke-linejoin="miter"/>
<path d="M819.35,87.96 L822.85,92.16 L819.35,96.36 L815.85,92.16 Z" fill="none" stroke="#1a14c8" stroke-width="2.4" stroke-linejoin="miter"/>
<path d="M825.77,89.41 L829.27,93.61 L825.77,97.81 L822.27,93.61 Z" fill="none" stroke="#1a14c8" stroke-width="2.4" stroke-linejoin="miter"/>
<path d="M832.19,90.89 L835.69,95.09 L832.19,99.29 L828.69,95.09 Z" fill="none" stroke="#1a14c8" stroke-width="2.4" stroke-linejoin="miter"/>
<path d="M838.61,92.40 L842.11,96.60 L838.61,100.80 L835.11,96.60 Z" fill="none" stroke="#1a14c8" stroke-width="2.4" stroke-linejoin="miter"/>
<path d="M845.03,93.92 L848.53,98.12 L845.03,102.32 L841.53,98.12 Z" fill="none" stroke="#1a14c8" stroke-width="2.4" stroke-linejoin="miter"/>
<path d="M851.46,95.47 L854.96,99.67 L851.46,103.87 L847.96,99.67 Z" fill="none" stroke="#1a14c8" stroke-width="2.4" stroke-linejoin="miter"/>
<path d="M857.88,97.02 L861.38,101.22 L857.88,105.42 L854.38,101.22 Z" fill="none" stroke="#1a14c8" stroke-width="2.4" stroke-linejoin="miter"/>
<path d="M864.30,98.59 L867.80,102.79 L864.30,106.99 L860.80,102.79 Z" fill="none" stroke="#1a14c8" stroke-width="2.4" stroke-linejoin="miter"/>
<path d="M870.72,100.15 L874.22,104.35 L870.72,108.55 L867.22,104.35 Z" fill="none" stroke="#1a14c8" stroke-width="2.4" stroke-linejoin="miter"/>
<path d="M877.14,101.72 L880.64,105.92 L877.14,110.12 L873.64,105.92 Z" fill="none" stroke="#1a14c8" stroke-width="2.4" stroke-linejoin="miter"/>
<path d="M883.56,103.29 L887.06,107.49 L883.56,111.69 L880.06,107.49 Z" fill="none" stroke="#1a14c8" stroke-width="2.4" stroke-linejoin="miter"/>
<path d="M889.98,104.84 L893.48,109.04 L889.98,113.24 L886.48,109.04 Z" fill="none" stroke="#1a14c8" stroke-width="2.4" stroke-linejoin="miter"/>
<path d="M896.40,106.38 L899.90,110.58 L896.40,114.78 L892.90,110.58 Z" fill="none" stroke="#1a14c8" stroke-width="2.4" stroke-linejoin="miter"/>
<path d="M902.82,107.91 L906.32,112.11 L902.82,116.31 L899.32,112.11 Z" fill="none" stroke="#1a14c8" stroke-width="2.4" stroke-linejoin="miter"/>
<path d="M909.24,109.41 L912.74,113.61 L909.24,117.81 L905.74,113.61 Z" fill="none" stroke="#1a14c8" stroke-width="2.4" stroke-linejoin="miter"/>
<path d="M915.67,110.89 L919.17,115.09 L915.67,119.29 L912.17,115.09 Z" fill="none" stroke="#1a14c8" stroke-width="2.4" stroke-linejoin="miter"/>
<path d="M922.09,112.34 L925.59,116.54 L922.09,120.74 L918.59,116.54 Z" fill="none" stroke="#1a14c8" stroke-width="2.4" stroke-linejoin="miter"/>
<path d="M928.51,113.75 L932.01,117.95 L928.51,122.15 L925.01,117.95 Z" fill="none" stroke="#1a14c8" stroke-width="2.4" stroke-linejoin="miter"/>
<path d="M934.93,115.13 L938.43,119.33 L934.93,123.53 L931.43,119.33 Z" fill="none" stroke="#1a14c8" stroke-width="2.4" stroke-linejoin="miter"/>
<path d="M941.35,116.46 L944.85,120.66 L941.35,124.86 L937.85,120.66 Z" fill="none" stroke="#1a14c8" stroke-width="2.4" stroke-linejoin="miter"/>
<path d="M947.77,117.75 L951.27,121.95 L947.77,126.15 L944.27,121.95 Z" fill="none" stroke="#1a14c8" stroke-width="2.4" stroke-linejoin="miter"/>
<path d="M954.19,118.99 L957.69,123.19 L954.19,127.39 L950.69,123.19 Z" fill="none" stroke="#1a14c8" stroke-width="2.4" stroke-linejoin="miter"/>
<path d="M960.61,120.21 L964.11,124.41 L960.61,128.61 L957.11,124.41 Z" fill="none" stroke="#1a14c8" stroke-width="2.4" stroke-linejoin="miter"/>
<path d="M967.03,121.40 L970.53,125.60 L967.03,129.80 L963.53,125.60 Z" fill="none" stroke="#1a14c8" stroke-width="2.4" stroke-linejoin="miter"/>
<path d="M973.45,122.57 L976.95,126.77 L973.45,130.97 L969.95,126.77 Z" fill="none" stroke="#1a14c8" stroke-width="2.4" stroke-linejoin="miter"/>
<path d="M979.88,123.74 L983.38,127.94 L979.88,132.14 L976.38,127.94 Z" fill="none" stroke="#1a14c8" stroke-width="2.4" stroke-linejoin="miter"/>
<path d="M986.30,124.90 L989.80,129.10 L986.30,133.30 L982.80,129.10 Z" fill="none" stroke="#1a14c8" stroke-width="2.4" stroke-linejoin="miter"/>
<path d="M992.72,126.07 L996.22,130.27 L992.72,134.47 L989.22,130.27 Z" fill="none" stroke="#1a14c8" stroke-width="2.4" stroke-linejoin="miter"/>
<path d="M999.14,127.26 L1002.64,131.46 L999.14,135.66 L995.64,131.46 Z" fill="none" stroke="#1a14c8" stroke-width="2.4" stroke-linejoin="miter"/>
<path d="M1005.56,128.46 L1009.06,132.66 L1005.56,136.86 L1002.06,132.66 Z" fill="none" stroke="#1a14c8" stroke-width="2.4" stroke-linejoin="miter"/>
<path d="M1011.98,129.69 L1015.48,133.89 L1011.98,138.09 L1008.48,133.89 Z" fill="none" stroke="#1a14c8" stroke-width="2.4" stroke-linejoin="miter"/>
<path d="M1018.40,130.94 L1021.90,135.14 L1018.40,139.34 L1014.90,135.14 Z" fill="none" stroke="#1a14c8" stroke-width="2.4" stroke-linejoin="miter"/>
<path d="M1024.82,132.21 L1028.32,136.41 L1024.82,140.61 L1021.32,136.41 Z" fill="none" stroke="#1a14c8" stroke-width="2.4" stroke-linejoin="miter"/>
<path d="M1031.24,133.51 L1034.74,137.71 L1031.24,141.91 L1027.74,137.71 Z" fill="none" stroke="#1a14c8" stroke-width="2.4" stroke-linejoin="miter"/>
<path d="M1037.66,134.84 L1041.16,139.04 L1037.66,143.24 L1034.16,139.04 Z" fill="none" stroke="#1a14c8" stroke-width="2.4" stroke-linejoin="miter"/>
<path d="M1044.09,136.19 L1047.59,140.39 L1044.09,144.59 L1040.59,140.39 Z" fill="none" stroke="#1a14c8" stroke-width="2.4" stroke-linejoin="miter"/>
<path d="M1050.51,137.57 L1054.01,141.77 L1050.51,145.97 L1047.01,141.77 Z" fill="none" stroke="#1a14c8" stroke-width="2.4" stroke-linejoin="miter"/>
<path d="M1056.93,138.98 L1060.43,143.18 L1056.93,147.38 L1053.43,143.18 Z" fill="none" stroke="#1a14c8" stroke-width="2.4" stroke-linejoin="miter"/>
<path d="M1063.35,140.42 L1066.85,144.62 L1063.35,148.82 L1059.85,144.62 Z" fill="none" stroke="#1a14c8" stroke-width="2.4" stroke-linejoin="miter"/>
<path d="M1069.77,141.88 L1073.27,146.08 L1069.77,150.28 L1066.27,146.08 Z" fill="none" stroke="#1a14c8" stroke-width="2.4" stroke-linejoin="miter"/>
<path d="M1076.19,143.36 L1079.69,147.56 L1076.19,151.76 L1072.69,147.56 Z" fill="none" stroke="#1a14c8" stroke-width="2.4" stroke-linejoin="miter"/>
<path d="M1082.61,144.86 L1086.11,149.06 L1082.61,153.26 L1079.11,149.06 Z" fill="none" stroke="#1a14c8" stroke-width="2.4" stroke-linejoin="miter"/>
<path d="M1089.03,146.36 L1092.53,150.56 L1089.03,154.76 L1085.53,150.56 Z" fill="none" stroke="#1a14c8" stroke-width="2.4" stroke-linejoin="miter"/>
<path d="M1095.45,147.87 L1098.95,152.07 L1095.45,156.27 L1091.95,152.07 Z" fill="none" stroke="#1a14c8" stroke-width="2.4" stroke-linejoin="miter"/>
<path d="M1101.88,149.36 L1105.38,153.56 L1101.88,157.76 L1098.38,153.56 Z" fill="none" stroke="#1a14c8" stroke-width="2.4" stroke-linejoin="miter"/>
<path d="M1108.30,150.85 L1111.80,155.05 L1108.30,159.25 L1104.80,155.05 Z" fill="none" stroke="#1a14c8" stroke-width="2.4" stroke-linejoin="miter"/>
<path d="M1114.72,152.32 L1118.22,156.52 L1114.72,160.72 L1111.22,156.52 Z" fill="none" stroke="#1a14c8" stroke-width="2.4" stroke-linejoin="miter"/>
<path d="M1121.14,153.76 L1124.64,157.96 L1121.14,162.16 L1117.64,157.96 Z" fill="none" stroke="#1a14c8" stroke-width="2.4" stroke-linejoin="miter"/>
<path d="M1127.56,155.17 L1131.06,159.37 L1127.56,163.57 L1124.06,159.37 Z" fill="none" stroke="#1a14c8" stroke-width="2.4" stroke-linejoin="miter"/>
<path d="M1133.98,156.54 L1137.48,160.74 L1133.98,164.94 L1130.48,160.74 Z" fill="none" stroke="#1a14c8" stroke-width="2.4" stroke-linejoin="miter"/>
<path d="M1140.40,157.87 L1143.90,162.07 L1140.40,166.27 L1136.90,162.07 Z" fill="none" stroke="#1a14c8" stroke-width="2.4" stroke-linejoin="miter"/>
<path d="M1146.82,159.16 L1150.32,163.36 L1146.82,167.56 L1143.32,163.36 Z" fill="none" stroke="#1a14c8" stroke-width="2.4" stroke-linejoin="miter"/>
<path d="M1153.24,160.42 L1156.74,164.62 L1153.24,168.82 L1149.74,164.62 Z" fill="none" stroke="#1a14c8" stroke-width="2.4" stroke-linejoin="miter"/>
<path d="M1159.66,161.64 L1163.16,165.84 L1159.66,170.04 L1156.16,165.84 Z" fill="none" stroke="#1a14c8" stroke-width="2.4" stroke-linejoin="miter"/>
<path d="M1166.09,162.83 L1169.59,167.03 L1166.09,171.23 L1162.59,167.03 Z" fill="none" stroke="#1a14c8" stroke-width="2.4" stroke-linejoin="miter"/>
<path d="M1172.51,163.99 L1176.01,168.19 L1172.51,172.39 L1169.01,168.19 Z" fill="none" stroke="#1a14c8" stroke-width="2.4" stroke-linejoin="miter"/>
<path d="M1178.93,165.12 L1182.43,169.32 L1178.93,173.52 L1175.43,169.32 Z" fill="none" stroke="#1a14c8" stroke-width="2.4" stroke-linejoin="miter"/>
<path d="M1185.35,166.22 L1188.85,170.42 L1185.35,174.62 L1181.85,170.42 Z" fill="none" stroke="#1a14c8" stroke-width="2.4" stroke-linejoin="miter"/>
<path d="M1191.77,167.30 L1195.27,171.50 L1191.77,175.70 L1188.27,171.50 Z" fill="none" stroke="#1a14c8" stroke-width="2.4" stroke-linejoin="miter"/>
<path d="M1198.19,168.35 L1201.69,172.55 L1198.19,176.75 L1194.69,172.55 Z" fill="none" stroke="#1a14c8" stroke-width="2.4" stroke-linejoin="miter"/>
<path d="M1204.61,169.38 L1208.11,173.58 L1204.61,177.78 L1201.11,173.58 Z" fill="none" stroke="#1a14c8" stroke-width="2.4" stroke-linejoin="miter"/>
<path d="M1211.03,170.39 L1214.53,174.59 L1211.03,178.79 L1207.53,174.59 Z" fill="none" stroke="#1a14c8" stroke-width="2.4" stroke-linejoin="miter"/>
<path d="M1217.45,171.39 L1220.95,175.59 L1217.45,179.79 L1213.95,175.59 Z" fill="none" stroke="#1a14c8" stroke-width="2.4" stroke-linejoin="miter"/>
<path d="M1223.87,172.37 L1227.37,176.57 L1223.87,180.77 L1220.37,176.57 Z" fill="none" stroke="#1a14c8" stroke-width="2.4" stroke-linejoin="miter"/>
<path d="M1230.30,173.35 L1233.80,177.55 L1230.30,181.75 L1226.80,177.55 Z" fill="none" stroke="#1a14c8" stroke-width="2.4" stroke-linejoin="miter"/>
<path d="M1236.72,174.33 L1240.22,178.53 L1236.72,182.73 L1233.22,178.53 Z" fill="none" stroke="#1a14c8" stroke-width="2.4" stroke-linejoin="miter"/>
<path d="M1243.14,175.30 L1246.64,179.50 L1243.14,183.70 L1239.64,179.50 Z" fill="none" stroke="#1a14c8" stroke-width="2.4" stroke-linejoin="miter"/>
<path d="M1249.56,176.29 L1253.06,180.49 L1249.56,184.69 L1246.06,180.49 Z" fill="none" stroke="#1a14c8" stroke-width="2.4" stroke-linejoin="miter"/>
<path d="M1255.98,177.28 L1259.48,181.48 L1255.98,185.68 L1252.48,181.48 Z" fill="none" stroke="#1a14c8" stroke-width="2.4" stroke-linejoin="miter"/>
<path d="M1262.40,178.28 L1265.90,182.48 L1262.40,186.68 L1258.90,182.48 Z" fill="none" stroke="#1a14c8" stroke-width="2.4" stroke-linejoin="miter"/>
<path d="M626.72,60.50 L630.22,64.70 L626.72,68.90 L623.22,64.70 Z" fill="none" stroke="#1a14c8" stroke-width="2.4" stroke-linejoin="miter"/>
<path d="M633.14,61.61 L636.64,65.81 L633.14,70.01 L629.64,65.81 Z" fill="none" stroke="#1a14c8" stroke-width="2.4" stroke-linejoin="miter"/>
<path d="M639.56,62.72 L643.06,66.92 L639.56,71.12 L636.06,66.92 Z" fill="none" stroke="#1a14c8" stroke-width="2.4" stroke-linejoin="miter"/>
<path d="M645.98,63.83 L649.48,68.03 L645.98,72.23 L642.48,68.03 Z" fill="none" stroke="#1a14c8" stroke-width="2.4" stroke-linejoin="miter"/>
<path d="M652.40,64.95 L655.90,69.15 L652.40,73.35 L648.90,69.15 Z" fill="none" stroke="#1a14c8" stroke-width="2.4" stroke-linejoin="miter"/>
<path d="M658.83,66.07 L662.33,70.27 L658.83,74.47 L655.33,70.27 Z" fill="none" stroke="#1a14c8" stroke-width="2.4" stroke-linejoin="miter"/>
<path d="M665.25,67.19 L668.75,71.39 L665.25,75.59 L661.75,71.39 Z" fill="none" stroke="#1a14c8" stroke-width="2.4" stroke-linejoin="miter"/>
<path d="M671.67,68.32 L675.17,72.52 L671.67,76.72 L668.17,72.52 Z" fill="none" stroke="#1a14c8" stroke-width="2.4" stroke-linejoin="miter"/>
<path d="M678.09,69.45 L681.59,73.65 L678.09,77.85 L674.59,73.65 Z" fill="none" stroke="#1a14c8" stroke-width="2.4" stroke-linejoin="miter"/>
<path d="M684.51,70.58 L688.01,74.78 L684.51,78.98 L681.01,74.78 Z" fill="none" stroke="#1a14c8" stroke-width="2.4" stroke-linejoin="miter"/>
<path d="M690.93,71.72 L694.43,75.92 L690.93,80.12 L687.43,75.92 Z" fill="none" stroke="#1a14c8" stroke-width="2.4" stroke-linejoin="miter"/>
<path d="M697.35,72.86 L700.85,77.06 L697.35,81.26 L693.85,77.06 Z" fill="none" stroke="#1a14c8" stroke-width="2.4" stroke-linejoin="miter"/>
<path d="M703.77,74.00 L707.27,78.20 L703.77,82.40 L700.27,78.20 Z" fill="none" stroke="#1a14c8" stroke-width="2.4" stroke-linejoin="miter"/>
<path d="M710.19,75.15 L713.69,79.35 L710.19,83.55 L706.69,79.35 Z" fill="none" stroke="#1a14c8" stroke-width="2.4" stroke-linejoin="miter"/>
<path d="M716.62,76.31 L720.12,80.51 L716.62,84.71 L713.12,80.51 Z" fill="none" stroke="#1a14c8" stroke-width="2.4" stroke-linejoin="miter"/>
<path d="M723.04,77.47 L726.54,81.67 L723.04,85.87 L719.54,81.67 Z" fill="none" stroke="#1a14c8" stroke-width="2.4" stroke-linejoin="miter"/>
<path d="M729.46,78.63 L732.96,82.83 L729.46,87.03 L725.96,82.83 Z" fill="none" stroke="#1a14c8" stroke-width="2.4" stroke-linejoin="miter"/>
<path d="M735.88,79.80 L739.38,84.00 L735.88,88.20 L732.38,84.00 Z" fill="none" stroke="#1a14c8" stroke-width="2.4" stroke-linejoin="miter"/>
<path d="M742.30,80.97 L745.80,85.17 L742.30,89.37 L738.80,85.17 Z" fill="none" stroke="#1a14c8" stroke-width="2.4" stroke-linejoin="miter"/>
<path d="M748.72,82.15 L752.22,86.35 L748.72,90.55 L745.22,86.35 Z" fill="none" stroke="#1a14c8" stroke-width="2.4" stroke-linejoin="miter"/>
<path d="M755.14,83.33 L758.64,87.53 L755.14,91.73 L751.64,87.53 Z" fill="none" stroke="#1a14c8" stroke-width="2.4" stroke-linejoin="miter"/>
<path d="M761.56,84.52 L765.06,88.72 L761.56,92.92 L758.06,88.72 Z" fill="none" stroke="#1a14c8" stroke-width="2.4" stroke-linejoin="miter"/>
<path d="M767.98,85.71 L771.48,89.91 L767.98,94.11 L764.48,89.91 Z" fill="none" stroke="#1a14c8" stroke-width="2.4" stroke-linejoin="miter"/>
<path d="M774.40,86.91 L777.90,91.11 L774.40,95.31 L770.90,91.11 Z" fill="none" stroke="#1a14c8" stroke-width="2.4" stroke-linejoin="miter"/>
<path d="M780.82,88.11 L784.32,92.31 L780.82,96.51 L777.32,92.31 Z" fill="none" stroke="#1a14c8" stroke-width="2.4" stroke-linejoin="miter"/>
<path d="M787.25,89.32 L790.75,93.52 L787.25,97.72 L783.75,93.52 Z" fill="none" stroke="#1a14c8" stroke-width="2.4" stroke-linejoin="miter"/>
<path d="M793.67,90.54 L797.17,94.74 L793.67,98.94 L790.17,94.74 Z" fill="none" stroke="#1a14c8" stroke-width="2.4" stroke-linejoin="miter"/>
<path d="M800.09,91.76 L803.59,95.96 L800.09,100.16 L796.59,95.96 Z" fill="none" stroke="#1a14c8" stroke-width="2.4" stroke-linejoin="miter"/>
<path d="M806.51,92.99 L810.01,97.19 L806.51,101.39 L803.01,97.19 Z" fill="none" stroke="#1a14c8" stroke-width="2.4" stroke-linejoin="miter"/>
<path d="M812.93,94.22 L816.43,98.42 L812.93,102.62 L809.43,98.42 Z" fill="none" stroke="#1a14c8" stroke-width="2.4" stroke-linejoin="miter"/>
<path d="M819.35,95.46 L822.85,99.66 L819.35,103.86 L815.85,99.66 Z" fill="none" stroke="#1a14c8" stroke-width="2.4" stroke-linejoin="miter"/>
<path d="M825.77,96.71 L829.27,100.91 L825.77,105.11 L822.27,100.91 Z" fill="none" stroke="#1a14c8" stroke-width="2.4" stroke-linejoin="miter"/>
<path d="M832.19,97.97 L835.69,102.17 L832.19,106.37 L828.69,102.17 Z" fill="none" stroke="#1a14c8" stroke-width="2.4" stroke-linejoin="miter"/>
<path d="M838.61,99.23 L842.11,103.43 L838.61,107.63 L835.11,103.43 Z" fill="none" stroke="#1a14c8" stroke-width="2.4" stroke-linejoin="miter"/>
<path d="M845.03,100.49 L848.53,104.69 L845.03,108.89 L841.53,104.69 Z" fill="none" stroke="#1a14c8" stroke-width="2.4" stroke-linejoin="miter"/>
<path d="M851.46,101.77 L854.96,105.97 L851.46,110.17 L847.96,105.97 Z" fill="none" stroke="#1a14c8" stroke-width="2.4" stroke-linejoin="miter"/>
<path d="M857.88,103.05 L861.38,107.25 L857.88,111.45 L854.38,107.25 Z" fill="none" stroke="#1a14c8" stroke-width="2.4" stroke-linejoin="miter"/>
<path d="M864.30,104.34 L867.80,108.54 L864.30,112.74 L860.80,108.54 Z" fill="none" stroke="#1a14c8" stroke-width="2.4" stroke-linejoin="miter"/>
<path d="M870.72,105.64 L874.22,109.84 L870.72,114.04 L867.22,109.84 Z" fill="none" stroke="#1a14c8" stroke-width="2.4" stroke-linejoin="miter"/>
<path d="M877.14,106.94 L880.64,111.14 L877.14,115.34 L873.64,111.14 Z" fill="none" stroke="#1a14c8" stroke-width="2.4" stroke-linejoin="miter"/>
<path d="M883.56,108.25 L887.06,112.45 L883.56,116.65 L880.06,112.45 Z" fill="none" stroke="#1a14c8" stroke-width="2.4" stroke-linejoin="miter"/>
<path d="M889.98,109.57 L893.48,113.77 L889.98,117.97 L886.48,113.77 Z" fill="none" stroke="#1a14c8" stroke-width="2.4" stroke-linejoin="miter"/>
<path d="M896.40,110.90 L899.90,115.10 L896.40,119.30 L892.90,115.10 Z" fill="none" stroke="#1a14c8" stroke-width="2.4" stroke-linejoin="miter"/>
<path d="M902.82,112.24 L906.32,116.44 L902.82,120.64 L899.32,116.44 Z" fill="none" stroke="#1a14c8" stroke-width="2.4" stroke-linejoin="miter"/>
<path d="M909.24,113.58 L912.74,117.78 L909.24,121.98 L905.74,117.78 Z" fill="none" stroke="#1a14c8" stroke-width="2.4" stroke-linejoin="miter"/>
<path d="M915.67,114.94 L919.17,119.14 L915.67,123.34 L912.17,119.14 Z" fill="none" stroke="#1a14c8" stroke-width="2.4" stroke-linejoin="miter"/>
<path d="M922.09,116.30 L925.59,120.50 L922.09,124.70 L918.59,120.50 Z" fill="none" stroke="#1a14c8" stroke-width="2.4" stroke-linejoin="miter"/>
<path d="M928.51,117.67 L932.01,121.87 L928.51,126.07 L925.01,121.87 Z" fill="none" stroke="#1a14c8" stroke-width="2.4" stroke-linejoin="miter"/>
<path d="M934.93,119.05 L938.43,123.25 L934.93,127.45 L931.43,123.25 Z" fill="none" stroke="#1a14c8" stroke-width="2.4" stroke-linejoin="miter"/>
<path d="M941.35,120.43 L944.85,124.63 L941.35,128.83 L937.85,124.63 Z" fill="none" stroke="#1a14c8" stroke-width="2.4" stroke-linejoin="miter"/>
<path d="M947.77,121.83 L951.27,126.03 L947.77,130.23 L944.27,126.03 Z" fill="none" stroke="#1a14c8" stroke-width="2.4" stroke-linejoin="miter"/>
<path d="M954.19,123.23 L957.69,127.43 L954.19,131.63 L950.69,127.43 Z" fill="none" stroke="#1a14c8" stroke-width="2.4" stroke-linejoin="miter"/>
<path d="M960.61,124.65 L964.11,128.85 L960.61,133.05 L957.11,128.85 Z" fill="none" stroke="#1a14c8" stroke-width="2.4" stroke-linejoin="miter"/>
<path d="M967.03,126.07 L970.53,130.27 L967.03,134.47 L963.53,130.27 Z" fill="none" stroke="#1a14c8" stroke-width="2.4" stroke-linejoin="miter"/>
<path d="M973.45,127.51 L976.95,131.71 L973.45,135.91 L969.95,131.71 Z" fill="none" stroke="#1a14c8" stroke-width="2.4" stroke-linejoin="miter"/>
<path d="M979.88,128.95 L983.38,133.15 L979.88,137.35 L976.38,133.15 Z" fill="none" stroke="#1a14c8" stroke-width="2.4" stroke-linejoin="miter"/>
<path d="M986.30,130.40 L989.80,134.60 L986.30,138.80 L982.80,134.60 Z" fill="none" stroke="#1a14c8" stroke-width="2.4" stroke-linejoin="miter"/>
<path d="M992.72,131.87 L996.22,136.07 L992.72,140.27 L989.22,136.07 Z" fill="none" stroke="#1a14c8" stroke-width="2.4" stroke-linejoin="miter"/>
<path d="M999.14,133.34 L1002.64,137.54 L999.14,141.74 L995.64,137.54 Z" fill="none" stroke="#1a14c8" stroke-width="2.4" stroke-linejoin="miter"/>
<path d="M1005.56,134.82 L1009.06,139.02 L1005.56,143.22 L1002.06,139.02 Z" fill="none" stroke="#1a14c8" stroke-width="2.4" stroke-linejoin="miter"/>
<path d="M1011.98,136.32 L1015.48,140.52 L1011.98,144.72 L1008.48,140.52 Z" fill="none" stroke="#1a14c8" stroke-width="2.4" stroke-linejoin="miter"/>
<path d="M1018.40,137.82 L1021.90,142.02 L1018.40,146.22 L1014.90,142.02 Z" fill="none" stroke="#1a14c8" stroke-width="2.4" stroke-linejoin="miter"/>
<path d="M1024.82,139.34 L1028.32,143.54 L1024.82,147.74 L1021.32,143.54 Z" fill="none" stroke="#1a14c8" stroke-width="2.4" stroke-linejoin="miter"/>
<path d="M1031.24,140.86 L1034.74,145.06 L1031.24,149.26 L1027.74,145.06 Z" fill="none" stroke="#1a14c8" stroke-width="2.4" stroke-linejoin="miter"/>
<path d="M1037.66,142.40 L1041.16,146.60 L1037.66,150.80 L1034.16,146.60 Z" fill="none" stroke="#1a14c8" stroke-width="2.4" stroke-linejoin="miter"/>
<path d="M1044.09,143.95 L1047.59,148.15 L1044.09,152.35 L1040.59,148.15 Z" fill="none" stroke="#1a14c8" stroke-width="2.4" stroke-linejoin="miter"/>
<path d="M1050.51,145.50 L1054.01,149.70 L1050.51,153.90 L1047.01,149.70 Z" fill="none" stroke="#1a14c8" stroke-width="2.4" stroke-linejoin="miter"/>
<path d="M1056.93,147.07 L1060.43,151.27 L1056.93,155.47 L1053.43,151.27 Z" fill="none" stroke="#1a14c8" stroke-width="2.4" stroke-linejoin="miter"/>
<path d="M1063.35,148.65 L1066.85,152.85 L1063.35,157.05 L1059.85,152.85 Z" fill="none" stroke="#1a14c8" stroke-width="2.4" stroke-linejoin="miter"/>
<path d="M1069.77,150.25 L1073.27,154.45 L1069.77,158.65 L1066.27,154.45 Z" fill="none" stroke="#1a14c8" stroke-width="2.4" stroke-linejoin="miter"/>
<path d="M1076.19,151.85 L1079.69,156.05 L1076.19,160.25 L1072.69,156.05 Z" fill="none" stroke="#1a14c8" stroke-width="2.4" stroke-linejoin="miter"/>
<path d="M1082.61,153.47 L1086.11,157.67 L1082.61,161.87 L1079.11,157.67 Z" fill="none" stroke="#1a14c8" stroke-width="2.4" stroke-linejoin="miter"/>
<path d="M1089.03,155.09 L1092.53,159.29 L1089.03,163.49 L1085.53,159.29 Z" fill="none" stroke="#1a14c8" stroke-width="2.4" stroke-linejoin="miter"/>
<path d="M1095.45,156.73 L1098.95,160.93 L1095.45,165.13 L1091.95,160.93 Z" fill="none" stroke="#1a14c8" stroke-width="2.4" stroke-linejoin="miter"/>
<path d="M1101.88,158.38 L1105.38,162.58 L1101.88,166.78 L1098.38,162.58 Z" fill="none" stroke="#1a14c8" stroke-width="2.4" stroke-linejoin="miter"/>
<path d="M1108.30,160.05 L1111.80,164.25 L1108.30,168.45 L1104.80,164.25 Z" fill="none" stroke="#1a14c8" stroke-width="2.4" stroke-linejoin="miter"/>
<path d="M1114.72,161.72 L1118.22,165.92 L1114.72,170.12 L1111.22,165.92 Z" fill="none" stroke="#1a14c8" stroke-width="2.4" stroke-linejoin="miter"/>
<path d="M1121.14,163.41 L1124.64,167.61 L1121.14,171.81 L1117.64,167.61 Z" fill="none" stroke="#1a14c8" stroke-width="2.4" stroke-linejoin="miter"/>
<path d="M1127.56,165.11 L1131.06,169.31 L1127.56,173.51 L1124.06,169.31 Z" fill="none" stroke="#1a14c8" stroke-width="2.4" stroke-linejoin="miter"/>
<path d="M1133.98,166.83 L1137.48,171.03 L1133.98,175.23 L1130.48,171.03 Z" fill="none" stroke="#1a14c8" stroke-width="2.4" stroke-linejoin="miter"/>
<path d="M1140.40,168.56 L1143.90,172.76 L1140.40,176.96 L1136.90,172.76 Z" fill="none" stroke="#1a14c8" stroke-width="2.4" stroke-linejoin="miter"/>
<path d="M1146.82,170.30 L1150.32,174.50 L1146.82,178.70 L1143.32,174.50 Z" fill="none" stroke="#1a14c8" stroke-width="2.4" stroke-linejoin="miter"/>
<path d="M1153.24,172.05 L1156.74,176.25 L1153.24,180.45 L1149.74,176.25 Z" fill="none" stroke="#1a14c8" stroke-width="2.4" stroke-linejoin="miter"/>
<path d="M1159.66,173.82 L1163.16,178.02 L1159.66,182.22 L1156.16,178.02 Z" fill="none" stroke="#1a14c8" stroke-width="2.4" stroke-linejoin="miter"/>
<path d="M1166.09,175.59 L1169.59,179.79 L1166.09,183.99 L1162.59,179.79 Z" fill="none" stroke="#1a14c8" stroke-width="2.4" stroke-linejoin="miter"/>
<path d="M1172.51,177.39 L1176.01,181.59 L1172.51,185.79 L1169.01,181.59 Z" fill="none" stroke="#1a14c8" stroke-width="2.4" stroke-linejoin="miter"/>
<path d="M1178.93,179.20 L1182.43,183.40 L1178.93,187.60 L1175.43,183.40 Z" fill="none" stroke="#1a14c8" stroke-width="2.4" stroke-linejoin="miter"/>
<path d="M1185.35,181.02 L1188.85,185.22 L1185.35,189.42 L1181.85,185.22 Z" fill="none" stroke="#1a14c8" stroke-width="2.4" stroke-linejoin="miter"/>
<path d="M1191.77,182.85 L1195.27,187.05 L1191.77,191.25 L1188.27,187.05 Z" fill="none" stroke="#1a14c8" stroke-width="2.4" stroke-linejoin="miter"/>
<path d="M1198.19,184.70 L1201.69,188.90 L1198.19,193.10 L1194.69,188.90 Z" fill="none" stroke="#1a14c8" stroke-width="2.4" stroke-linejoin="miter"/>
<path d="M1204.61,186.56 L1208.11,190.76 L1204.61,194.96 L1201.11,190.76 Z" fill="none" stroke="#1a14c8" stroke-width="2.4" stroke-linejoin="miter"/>
<path d="M1211.03,188.44 L1214.53,192.64 L1211.03,196.84 L1207.53,192.64 Z" fill="none" stroke="#1a14c8" stroke-width="2.4" stroke-linejoin="miter"/>
<path d="M1217.45,190.33 L1220.95,194.53 L1217.45,198.73 L1213.95,194.53 Z" fill="none" stroke="#1a14c8" stroke-width="2.4" stroke-linejoin="miter"/>
<path d="M1223.87,192.24 L1227.37,196.44 L1223.87,200.64 L1220.37,196.44 Z" fill="none" stroke="#1a14c8" stroke-width="2.4" stroke-linejoin="miter"/>
<path d="M1230.30,194.16 L1233.80,198.36 L1230.30,202.56 L1226.80,198.36 Z" fill="none" stroke="#1a14c8" stroke-width="2.4" stroke-linejoin="miter"/>
<path d="M1236.72,196.10 L1240.22,200.30 L1236.72,204.50 L1233.22,200.30 Z" fill="none" stroke="#1a14c8" stroke-width="2.4" stroke-linejoin="miter"/>
<path d="M1243.14,198.05 L1246.64,202.25 L1243.14,206.45 L1239.64,202.25 Z" fill="none" stroke="#1a14c8" stroke-width="2.4" stroke-linejoin="miter"/>
<path d="M1249.56,200.01 L1253.06,204.21 L1249.56,208.41 L1246.06,204.21 Z" fill="none" stroke="#1a14c8" stroke-width="2.4" stroke-linejoin="miter"/>
<path d="M1255.98,201.99 L1259.48,206.19 L1255.98,210.39 L1252.48,206.19 Z" fill="none" stroke="#1a14c8" stroke-width="2.4" stroke-linejoin="miter"/>
<path d="M1262.40,203.99 L1265.90,208.19 L1262.40,212.39 L1258.90,208.19 Z" fill="none" stroke="#1a14c8" stroke-width="2.4" stroke-linejoin="miter"/>
<path d="M626.72,79.17 L632.42,85.47 L626.72,91.77 L621.02,85.47 Z" fill="#00ff00"/>
<path d="M633.14,81.42 L638.84,87.72 L633.14,94.02 L627.44,87.72 Z" fill="#00ff00"/>
<path d="M639.56,83.56 L645.26,89.86 L639.56,96.16 L633.86,89.86 Z" fill="#00ff00"/>
<path d="M645.98,85.62 L651.68,91.92 L645.98,98.22 L640.28,91.92 Z" fill="#00ff00"/>
<path d="M652.40,87.59 L658.11,93.89 L652.40,100.19 L646.70,93.89 Z" fill="#00ff00"/>
<path d="M658.83,89.48 L664.53,95.78 L658.83,102.08 L653.13,95.78 Z" fill="#00ff00"/>
<path d="M665.25,91.29 L670.95,97.59 L665.25,103.89 L659.55,97.59 Z" fill="#00ff00"/>
<path d="M671.67,93.03 L677.37,99.33 L671.67,105.63 L665.97,99.33 Z" fill="#00ff00"/>
<path d="M678.09,94.70 L683.79,101.00 L678.09,107.30 L672.39,101.00 Z" fill="#00ff00"/>
<path d="M684.51,96.31 L690.21,102.61 L684.51,108.91 L678.81,102.61 Z" fill="#00ff00"/>
<path d="M690.93,97.87 L696.63,104.17 L690.93,110.47 L685.23,104.17 Z" fill="#00ff00"/>
<path d="M697.35,99.38 L703.05,105.68 L697.35,111.98 L691.65,105.68 Z" fill="#00ff00"/>
<path d="M703.77,100.84 L709.47,107.14 L703.77,113.44 L698.07,107.14 Z" fill="#00ff00"/>
<path d="M710.19,102.27 L715.89,108.57 L710.19,114.87 L704.49,108.57 Z" fill="#00ff00"/>
<path d="M716.62,103.66 L722.32,109.96 L716.62,116.26 L710.91,109.96 Z" fill="#00ff00"/>
<path d="M723.04,105.02 L728.74,111.32 L723.04,117.62 L717.34,111.32 Z" fill="#00ff00"/>
<path d="M729.46,106.36 L735.16,112.66 L729.46,118.96 L723.76,112.66 Z" fill="#00ff00"/>
<path d="M735.88,107.68 L741.58,113.98 L735.88,120.28 L730.18,113.98 Z" fill="#00ff00"/>
<path d="M742.30,108.99 L748.00,115.29 L742.30,121.59 L736.60,115.29 Z" fill="#00ff00"/>
<path d="M748.72,110.29 L754.42,116.59 L748.72,122.89 L743.02,116.59 Z" fill="#00ff00"/>
<path d="M755.14,111.58 L760.84,117.88 L755.14,124.18 L749.44,117.88 Z" fill="#00ff00"/>
<path d="M761.56,112.86 L767.26,119.16 L761.56,125.46 L755.86,119.16 Z" fill="#00ff00"/>
<path d="M767.98,114.13 L773.68,120.43 L767.98,126.73 L762.28,120.43 Z" fill="#00ff00"/>
<path d="M774.40,115.37 L780.10,121.67 L774.40,127.97 L768.70,121.67 Z" fill="#00ff00"/>
<path d="M780.82,116.61 L786.52,122.91 L780.82,129.21 L775.12,122.91 Z" fill="#00ff00"/>
<path d="M787.25,117.82 L792.95,124.12 L787.25,130.42 L781.55,124.12 Z" fill="#00ff00"/>
<path d="M793.67,119.01 L799.37,125.31 L793.67,131.61 L787.97,125.31 Z" fill="#00ff00"/>
<path d="M800.09,120.18 L805.79,126.48 L800.09,132.78 L794.39,126.48 Z" fill="#00ff00"/>
<path d="M806.51,121.32 L812.21,127.62 L806.51,133.92 L800.81,127.62 Z" fill="#00ff00"/>
<path d="M812.93,122.44 L818.63,128.74 L812.93,135.04 L807.23,128.74 Z" fill="#00ff00"/>
<path d="M819.35,123.55 L825.05,129.85 L819.35,136.15 L813.65,129.85 Z" fill="#00ff00"/>
<path d="M825.77,124.65 L831.47,130.95 L825.77,137.25 L820.07,130.95 Z" fill="#00ff00"/>
<path d="M832.19,125.73 L837.89,132.03 L832.19,138.33 L826.49,132.03 Z" fill="#00ff00"/>
<path d="M838.61,126.81 L844.31,133.11 L838.61,139.41 L832.91,133.11 Z" fill="#00ff00"/>
<path d="M845.03,127.89 L850.74,134.19 L845.03,140.49 L839.33,134.19 Z" fill="#00ff00"/>
<path d="M851.46,128.98 L857.16,135.28 L851.46,141.58 L845.76,135.28 Z" fill="#00ff00"/>
<path d="M857.88,130.06 L863.58,136.36 L857.88,142.66 L852.18,136.36 Z" fill="#00ff00"/>
<path d="M864.30,131.16 L870.00,137.46 L864.30,143.76 L858.60,137.46 Z" fill="#00ff00"/>
<path d="M870.72,132.28 L876.42,138.58 L870.72,144.88 L865.02,138.58 Z" fill="#00ff00"/>
<path d="M877.14,133.41 L882.84,139.71 L877.14,146.01 L871.44,139.71 Z" fill="#00ff00"/>
<path d="M883.56,134.57 L889.26,140.87 L883.56,147.17 L877.86,140.87 Z" fill="#00ff00"/>
<path d="M889.98,135.75 L895.68,142.05 L889.98,148.35 L884.28,142.05 Z" fill="#00ff00"/>
<path d="M896.40,136.96 L902.10,143.26 L896.40,149.56 L890.70,143.26 Z" fill="#00ff00"/>
<path d="M902.82,138.21 L908.52,144.51 L902.82,150.81 L897.12,144.51 Z" fill="#00ff00"/>
<path d="M909.24,139.48 L914.94,145.78 L909.24,152.08 L903.54,145.78 Z" fill="#00ff00"/>
<path d="M915.67,140.78 L921.37,147.08 L915.67,153.38 L909.97,147.08 Z" fill="#00ff00"/>
<path d="M922.09,142.08 L927.79,148.38 L922.09,154.68 L916.39,148.38 Z" fill="#00ff00"/>
<path d="M928.51,143.37 L934.21,149.67 L928.51,155.97 L922.81,149.67 Z" fill="#00ff00"/>
<path d="M934.93,144.64 L940.63,150.94 L934.93,157.24 L929.23,150.94 Z" fill="#00ff00"/>
<path d="M941.35,145.88 L947.05,152.18 L941.35,158.48 L935.65,152.18 Z" fill="#00ff00"/>
<path d="M947.77,147.07 L953.47,153.37 L947.77,159.67 L942.07,153.37 Z" fill="#00ff00"/>
<path d="M954.19,148.22 L959.89,154.52 L954.19,160.82 L948.49,154.52 Z" fill="#00ff00"/>
<path d="M960.61,149.33 L966.31,155.63 L960.61,161.93 L954.91,155.63 Z" fill="#00ff00"/>
<path d="M967.03,150.40 L972.73,156.70 L967.03,163.00 L961.33,156.70 Z" fill="#00ff00"/>
<path d="M973.45,151.44 L979.15,157.74 L973.45,164.04 L967.75,157.74 Z" fill="#00ff00"/>
<path d="M979.88,152.43 L985.58,158.73 L979.88,165.03 L974.18,158.73 Z" fill="#00ff00"/>
<path d="M986.30,153.39 L992.00,159.69 L986.30,165.99 L980.60,159.69 Z" fill="#00ff00"/>
<path d="M992.72,154.31 L998.42,160.61 L992.72,166.91 L987.02,160.61 Z" fill="#00ff00"/>
<path d="M999.14,155.20 L1004.84,161.50 L999.14,167.80 L993.44,161.50 Z" fill="#00ff00"/>
<path d="M1005.56,156.05 L1011.26,162.35 L1005.56,168.65 L999.86,162.35 Z" fill="#00ff00"/>
<path d="M1011.98,156.88 L1017.68,163.18 L1011.98,169.48 L1006.28,163.18 Z" fill="#00ff00"/>
<path d="M1018.40,157.68 L1024.10,163.98 L1018.40,170.28 L1012.70,163.98 Z" fill="#00ff00"/>
<path d="M1024.82,158.44 L1030.52,164.74 L1024.82,171.04 L1019.12,164.74 Z" fill="#00ff00"/>
<path d="M1031.24,159.19 L1036.94,165.49 L1031.24,171.79 L1025.54,165.49 Z" fill="#00ff00"/>
<path d="M1037.66,159.90 L1043.37,166.20 L1037.66,172.50 L1031.96,166.20 Z" fill="#00ff00"/>
<path d="M1044.09,160.59 L1049.79,166.89 L1044.09,173.19 L1038.39,166.89 Z" fill="#00ff00"/>
<path d="M1050.51,161.26 L1056.21,167.56 L1050.51,173.86 L1044.81,167.56 Z" fill="#00ff00"/>
<path d="M1056.93,161.91 L1062.63,168.21 L1056.93,174.51 L1051.23,168.21 Z" fill="#00ff00"/>
<path d="M1063.35,162.53 L1069.05,168.83 L1063.35,175.13 L1057.65,168.83 Z" fill="#00ff00"/>
<path d="M1069.77,163.14 L1075.47,169.44 L1069.77,175.74 L1064.07,169.44 Z" fill="#00ff00"/>
<path d="M1076.19,163.73 L1081.89,170.03 L1076.19,176.33 L1070.49,170.03 Z" fill="#00ff00"/>
<path d="M1082.61,164.30 L1088.31,170.60 L1082.61,176.90 L1076.91,170.60 Z" fill="#00ff00"/>
<path d="M1089.03,164.86 L1094.73,171.16 L1089.03,177.46 L1083.33,171.16 Z" fill="#00ff00"/>
<path d="M1095.45,165.40 L1101.15,171.70 L1095.45,178.00 L1089.75,171.70 Z" fill="#00ff00"/>
<path d="M1101.88,165.93 L1107.58,172.23 L1101.88,178.53 L1096.17,172.23 Z" fill="#00ff00"/>
<path d="M1108.30,166.45 L1114.00,172.75 L1108.30,179.05 L1102.60,172.75 Z" fill="#00ff00"/>
<path d="M1114.72,166.96 L1120.42,173.26 L1114.72,179.56 L1109.02,173.26 Z" fill="#00ff00"/>
<path d="M1121.14,167.46 L1126.84,173.76 L1121.14,180.06 L1115.44,173.76 Z" fill="#00ff00"/>
<path d="M1127.56,167.96 L1133.26,174.26 L1127.56,180.56 L1121.86,174.26 Z" fill="#00ff00"/>
<path d="M1133.98,168.44 L1139.68,174.74 L1133.98,181.04 L1128.28,174.74 Z" fill="#00ff00"/>
<path d="M1140.40,168.93 L1146.10,175.23 L1140.40,181.53 L1134.70,175.23 Z" fill="#00ff00"/>
<path d="M1146.82,169.42 L1152.52,175.72 L1146.82,182.02 L1141.12,175.72 Z" fill="#00ff00"/>
<path d="M1153.24,169.91 L1158.94,176.21 L1153.24,182.51 L1147.54,176.21 Z" fill="#00ff00"/>
<path d="M1159.66,170.41 L1165.36,176.71 L1159.66,183.01 L1153.96,176.71 Z" fill="#00ff00"/>
<path d="M1166.09,170.92 L1171.79,177.22 L1166.09,183.52 L1160.38,177.22 Z" fill="#00ff00"/>
<path d="M1172.51,171.45 L1178.21,177.75 L1172.51,184.05 L1166.81,177.75 Z" fill="#00ff00"/>
<path d="M1178.93,172.00 L1184.63,178.30 L1178.93,184.60 L1173.23,178.30 Z" fill="#00ff00"/>
<path d="M1185.35,172.57 L1191.05,178.87 L1185.35,185.17 L1179.65,178.87 Z" fill="#00ff00"/>
<path d="M1191.77,173.18 L1197.47,179.48 L1191.77,185.78 L1186.07,179.48 Z" fill="#00ff00"/>
<path d="M1198.19,173.81 L1203.89,180.11 L1198.19,186.41 L1192.49,180.11 Z" fill="#00ff00"/>
<path d="M1204.61,174.49 L1210.31,180.79 L1204.61,187.09 L1198.91,180.79 Z" fill="#00ff00"/>
<path d="M1211.03,175.20 L1216.73,181.50 L1211.03,187.80 L1205.33,181.50 Z" fill="#00ff00"/>
<path d="M1217.45,175.96 L1223.15,182.26 L1217.45,188.56 L1211.75,182.26 Z" fill="#00ff00"/>
<path d="M1223.87,176.77 L1229.57,183.07 L1223.87,189.37 L1218.17,183.07 Z" fill="#00ff00"/>
<path d="M1230.30,177.63 L1236.00,183.93 L1230.30,190.23 L1224.60,183.93 Z" fill="#00ff00"/>
<path d="M1236.72,178.54 L1242.42,184.84 L1236.72,191.14 L1231.02,184.84 Z" fill="#00ff00"/>
<path d="M1243.14,179.52 L1248.84,185.82 L1243.14,192.12 L1237.44,185.82 Z" fill="#00ff00"/>
<path d="M1249.56,180.56 L1255.26,186.86 L1249.56,193.16 L1243.86,186.86 Z" fill="#00ff00"/>
<path d="M1255.98,181.67 L1261.68,187.97 L1255.98,194.27 L1250.28,187.97 Z" fill="#00ff00"/>
<path d="M1262.40,182.85 L1268.10,189.15 L1262.40,195.45 L1256.70,189.15 Z" fill="#00ff00"/>
<path d="M626.72,98.65 L632.42,104.95 L626.72,111.25 L621.02,104.95 Z" fill="#00ff00"/>
<path d="M633.14,100.52 L638.84,106.82 L633.14,113.12 L627.44,106.82 Z" fill="#00ff00"/>
<path d="M639.56,102.31 L645.26,108.61 L639.56,114.91 L633.86,108.61 Z" fill="#00ff00"/>
<path d="M645.98,104.04 L651.68,110.34 L645.98,116.64 L640.28,110.34 Z" fill="#00ff00"/>
<path d="M652.40,105.71 L658.11,112.01 L652.40,118.31 L646.70,112.01 Z" fill="#00ff00"/>
<path d="M658.83,107.32 L664.53,113.62 L658.83,119.92 L653.13,113.62 Z" fill="#00ff00"/>
<path d="M665.25,108.87 L670.95,115.17 L665.25,121.47 L659.55,115.17 Z" fill="#00ff00"/>
<path d="M671.67,110.36 L677.37,116.66 L671.67,122.96 L665.97,116.66 Z" fill="#00ff00"/>
<path d="M678.09,111.80 L683.79,118.10 L678.09,124.40 L672.39,118.10 Z" fill="#00ff00"/>
<path d="M684.51,113.18 L690.21,119.48 L684.51,125.78 L678.81,119.48 Z" fill="#00ff00"/>
<path d="M690.93,114.51 L696.63,120.81 L690.93,127.11 L685.23,120.81 Z" fill="#00ff00"/>
<path d="M697.35,115.80 L703.05,122.10 L697.35,128.40 L691.65,122.10 Z" fill="#00ff00"/>
<path d="M703.77,117.04 L709.47,123.34 L703.77,129.64 L698.07,123.34 Z" fill="#00ff00"/>
<path d="M710.19,118.23 L715.89,124.53 L710.19,130.83 L704.49,124.53 Z" fill="#00ff00"/>
<path d="M716.62,119.38 L722.32,125.68 L716.62,131.98 L710.91,125.68 Z" fill="#00ff00"/>
<path d="M723.04,120.49 L728.74,126.79 L723.04,133.09 L717.34,126.79 Z" fill="#00ff00"/>
<path d="M729.46,121.57 L735.16,127.87 L729.46,134.17 L723.76,127.87 Z" fill="#00ff00"/>
<path d="M735.88,122.60 L741.58,128.90 L735.88,135.20 L730.18,128.90 Z" fill="#00ff00"/>
<path d="M742.30,123.60 L748.00,129.90 L742.30,136.20 L736.60,129.90 Z" fill="#00ff00"/>
<path d="M748.72,124.57 L754.42,130.87 L748.72,137.17 L743.02,130.87 Z" fill="#00ff00"/>
<path d="M755.14,125.51 L760.84,131.81 L755.14,138.11 L749.44,131.81 Z" fill="#00ff00"/>
<path d="M761.56,126.41 L767.26,132.71 L761.56,139.01 L755.86,132.71 Z" fill="#00ff00"/>
<path d="M767.98,127.29 L773.68,133.59 L767.98,139.89 L762.28,133.59 Z" fill="#00ff00"/>
<path d="M774.40,128.15 L780.10,134.45 L774.40,140.75 L768.70,134.45 Z" fill="#00ff00"/>
<path d="M780.82,128.99 L786.52,135.29 L780.82,141.59 L775.12,135.29 Z" fill="#00ff00"/>
<path d="M787.25,129.80 L792.95,136.10 L787.25,142.40 L781.55,136.10 Z" fill="#00ff00"/>
<path d="M793.67,130.59 L799.37,136.89 L793.67,143.19 L787.97,136.89 Z" fill="#00ff00"/>
<path d="M800.09,131.37 L805.79,137.67 L800.09,143.97 L794.39,137.67 Z" fill="#00ff00"/>
<path d="M806.51,132.13 L812.21,138.43 L806.51,144.73 L800.81,138.43 Z" fill="#00ff00"/>
<path d="M812.93,132.88 L818.63,139.18 L812.93,145.48 L807.23,139.18 Z" fill="#00ff00"/>
<path d="M819.35,133.62 L825.05,139.92 L819.35,146.22 L813.65,139.92 Z" fill="#00ff00"/>
<path d="M825.77,134.35 L831.47,140.65 L825.77,146.95 L820.07,140.65 Z" fill="#00ff00"/>
<path d="M832.19,135.08 L837.89,141.38 L832.19,147.68 L826.49,141.38 Z" fill="#00ff00"/>
<path d="M838.61,135.80 L844.31,142.10 L838.61,148.40 L832.91,142.10 Z" fill="#00ff00"/>
<path d="M845.03,136.51 L850.74,142.81 L845.03,149.11 L839.33,142.81 Z" fill="#00ff00"/>
<path d="M851.46,137.23 L857.16,143.53 L851.46,149.83 L845.76,143.53 Z" fill="#00ff00"/>
<path d="M857.88,137.95 L863.58,144.25 L857.88,150.55 L852.18,144.25 Z" fill="#00ff00"/>
<path d="M864.30,138.67 L870.00,144.97 L864.30,151.27 L858.60,144.97 Z" fill="#00ff00"/>
<path d="M870.72,139.39 L876.42,145.69 L870.72,151.99 L865.02,145.69 Z" fill="#00ff00"/>
<path d="M877.14,140.12 L882.84,146.42 L877.14,152.72 L871.44,146.42 Z" fill="#00ff00"/>
<path d="M883.56,140.87 L889.26,147.17 L883.56,153.47 L877.86,147.17 Z" fill="#00ff00"/>
<path d="M889.98,141.62 L895.68,147.92 L889.98,154.22 L884.28,147.92 Z" fill="#00ff00"/>
<path d="M896.40,142.39 L902.10,148.69 L896.40,154.99 L890.70,148.69 Z" fill="#00ff00"/>
<path d="M902.82,143.17 L908.52,149.47 L902.82,155.77 L897.12,149.47 Z" fill="#00ff00"/>
<path d="M909.24,143.97 L914.94,150.27 L909.24,156.57 L903.54,150.27 Z" fill="#00ff00"/>
<path d="M915.67,144.78 L921.37,151.08 L915.67,157.38 L909.97,151.08 Z" fill="#00ff00"/>
<path d="M922.09,145.62 L927.79,151.92 L922.09,158.22 L916.39,151.92 Z" fill="#00ff00"/>
<path d="M928.51,146.49 L934.21,152.79 L928.51,159.09 L922.81,152.79 Z" fill="#00ff00"/>
<path d="M934.93,147.37 L940.63,153.67 L934.93,159.97 L929.23,153.67 Z" fill="#00ff00"/>
<path d="M941.35,148.29 L947.05,154.59 L941.35,160.89 L935.65,154.59 Z" fill="#00ff00"/>
<path d="M947.77,149.23 L953.47,155.53 L947.77,161.83 L942.07,155.53 Z" fill="#00ff00"/>
<path d="M954.19,150.21 L959.89,156.51 L954.19,162.81 L948.49,156.51 Z" fill="#00ff00"/>
<path d="M960.61,151.22 L966.31,157.52 L960.61,163.82 L954.91,157.52 Z" fill="#00ff00"/>
<path d="M967.03,152.26 L972.73,158.56 L967.03,164.86 L961.33,158.56 Z" fill="#00ff00"/>
<path d="M973.45,153.34 L979.15,159.64 L973.45,165.94 L967.75,159.64 Z" fill="#00ff00"/>
<path d="M979.88,154.46 L985.58,160.76 L979.88,167.06 L974.18,160.76 Z" fill="#00ff00"/>
<path d="M986.30,155.62 L992.00,161.92 L986.30,168.22 L980.60,161.92 Z" fill="#00ff00"/>
<path d="M992.72,156.83 L998.42,163.13 L992.72,169.43 L987.02,163.13 Z" fill="#00ff00"/>
<path d="M999.14,158.08 L1004.84,164.38 L999.14,170.68 L993.44,164.38 Z" fill="#00ff00"/>
<path d="M1005.56,159.37 L1011.26,165.67 L1005.56,171.97 L999.86,165.67 Z" fill="#00ff00"/>
<path d="M1011.98,160.71 L1017.68,167.01 L1011.98,173.31 L1006.28,167.01 Z" fill="#00ff00"/>
<path d="M1018.40,162.09 L1024.10,168.39 L1018.40,174.69 L1012.70,168.39 Z" fill="#00ff00"/>
<path d="M1024.82,163.50 L1030.52,169.80 L1024.82,176.10 L1019.12,169.80 Z" fill="#00ff00"/>
<path d="M1031.24,164.95 L1036.94,171.25 L1031.24,177.55 L1025.54,171.25 Z" fill="#00ff00"/>
<path d="M1037.66,166.41 L1043.37,172.71 L1037.66,179.01 L1031.96,172.71 Z" fill="#00ff00"/>
<path d="M1044.09,167.90 L1049.79,174.20 L1044.09,180.50 L1038.39,174.20 Z" fill="#00ff00"/>
<path d="M1050.51,169.41 L1056.21,175.71 L1050.51,182.01 L1044.81,175.71 Z" fill="#00ff00"/>
<path d="M1056.93,170.92 L1062.63,177.22 L1056.93,183.52 L1051.23,177.22 Z" fill="#00ff00"/>
<path d="M1063.35,172.45 L1069.05,178.75 L1063.35,185.05 L1057.65,178.75 Z" fill="#00ff00"/>
<path d="M1069.77,173.98 L1075.47,180.28 L1069.77,186.58 L1064.07,180.28 Z" fill="#00ff00"/>
<path d="M1076.19,175.50 L1081.89,181.80 L1076.19,188.10 L1070.49,181.80 Z" fill="#00ff00"/>
<path d="M1082.61,177.02 L1088.31,183.32 L1082.61,189.62 L1076.91,183.32 Z" fill="#00ff00"/>
<path d="M1089.03,178.53 L1094.73,184.83 L1089.03,191.13 L1083.33,184.83 Z" fill="#00ff00"/>
<path d="M1095.45,180.02 L1101.15,186.32 L1095.45,192.62 L1089.75,186.32 Z" fill="#00ff00"/>
<path d="M1101.88,181.50 L1107.58,187.80 L1101.88,194.10 L1096.17,187.80 Z" fill="#00ff00"/>
<path d="M1108.30,182.95 L1114.00,189.25 L1108.30,195.55 L1102.60,189.25 Z" fill="#00ff00"/>
<path d="M1114.72,184.37 L1120.42,190.67 L1114.72,196.97 L1109.02,190.67 Z" fill="#00ff00"/>
<path d="M1121.14,185.75 L1126.84,192.05 L1121.14,198.35 L1115.44,192.05 Z" fill="#00ff00"/>
<path d="M1127.56,187.10 L1133.26,193.40 L1127.56,199.70 L1121.86,193.40 Z" fill="#00ff00"/>
<path d="M1133.98,188.41 L1139.68,194.71 L1133.98,201.01 L1128.28,194.71 Z" fill="#00ff00"/>
<path d="M1140.40,189.68 L1146.10,195.98 L1140.40,202.28 L1134.70,195.98 Z" fill="#00ff00"/>
<path d="M1146.82,190.92 L1152.52,197.22 L1146.82,203.52 L1141.12,197.22 Z" fill="#00ff00"/>
<path d="M1153.24,192.13 L1158.94,198.43 L1153.24,204.73 L1147.54,198.43 Z" fill="#00ff00"/>
<path d="M1159.66,193.32 L1165.36,199.62 L1159.66,205.92 L1153.96,199.62 Z" fill="#00ff00"/>
<path d="M1166.09,194.49 L1171.79,200.79 L1166.09,207.09 L1160.38,200.79 Z" fill="#00ff00"/>
<path d="M1172.51,195.67 L1178.21,201.97 L1172.51,208.27 L1166.81,201.97 Z" fill="#00ff00"/>
<path d="M1178.93,196.84 L1184.63,203.14 L1178.93,209.44 L1173.23,203.14 Z" fill="#00ff00"/>
<path d="M1185.35,198.02 L1191.05,204.32 L1185.35,210.62 L1179.65,204.32 Z" fill="#00ff00"/>
<path d="M1191.77,199.21 L1197.47,205.51 L1191.77,211.81 L1186.07,205.51 Z" fill="#00ff00"/>
<path d="M1198.19,200.43 L1203.89,206.73 L1198.19,213.03 L1192.49,206.73 Z" fill="#00ff00"/>
<path d="M1204.61,201.68 L1210.31,207.98 L1204.61,214.28 L1198.91,207.98 Z" fill="#00ff00"/>
<path d="M1211.03,202.96 L1216.73,209.26 L1211.03,215.56 L1205.33,209.26 Z" fill="#00ff00"/>
<path d="M1217.45,204.28 L1223.15,210.58 L1217.45,216.88 L1211.75,210.58 Z" fill="#00ff00"/>
<path d="M1223.87,205.65 L1229.57,211.95 L1223.87,218.25 L1218.17,211.95 Z" fill="#00ff00"/>
<path d="M1230.30,207.08 L1236.00,213.38 L1230.30,219.68 L1224.60,213.38 Z" fill="#00ff00"/>
<path d="M1236.72,208.57 L1242.42,214.87 L1236.72,221.17 L1231.02,214.87 Z" fill="#00ff00"/>
<path d="M1243.14,210.13 L1248.84,216.43 L1243.14,222.73 L1237.44,216.43 Z" fill="#00ff00"/>
<path d="M1249.56,211.76 L1255.26,218.06 L1249.56,224.36 L1243.86,218.06 Z" fill="#00ff00"/>
<path d="M1255.98,213.48 L1261.68,219.78 L1255.98,226.08 L1250.28,219.78 Z" fill="#00ff00"/>
<path d="M1262.40,215.29 L1268.10,221.59 L1262.40,227.89 L1256.70,221.59 Z" fill="#00ff00"/>
</g>
<g>
<path d="M626.72,488.47 L630.32,495.47 L623.12,495.47 Z" fill="none" stroke="#000" stroke-width="2.6" stroke-linejoin="miter"/>
<path d="M633.14,490.03 L636.74,497.03 L629.54,497.03 Z" fill="none" stroke="#000" stroke-width="2.6" stroke-linejoin="miter"/>
<path d="M639.56,491.59 L643.16,498.59 L635.96,498.59 Z" fill="none" stroke="#000" stroke-width="2.6" stroke-linejoin="miter"/>
<path d="M645.98,493.15 L649.58,500.15 L642.38,500.15 Z" fill="none" stroke="#000" stroke-width="2.6" stroke-linejoin="miter"/>
<path d="M652.40,494.71 L656.00,501.71 L648.80,501.71 Z" fill="none" stroke="#000" stroke-width="2.6" stroke-linejoin="miter"/>
<path d="M658.83,496.27 L662.43,503.27 L655.23,503.27 Z" fill="none" stroke="#000" stroke-width="2.6" stroke-linejoin="miter"/>
<path d="M665.25,497.83 L668.85,504.83 L661.65,504.83 Z" fill="none" stroke="#000" stroke-width="2.6" stroke-linejoin="miter"/>
<path d="M671.67,499.39 L675.27,506.39 L668.07,506.39 Z" fill="none" stroke="#000" stroke-width="2.6" stroke-linejoin="miter"/>
<path d="M678.09,500.95 L681.69,507.95 L674.49,507.95 Z" fill="none" stroke="#000" stroke-width="2.6" stroke-linejoin="miter"/>
<path d="M684.51,502.51 L688.11,509.51 L680.91,509.51 Z" fill="none" stroke="#000" stroke-width="2.6" stroke-linejoin="miter"/>
<path d="M690.93,504.07 L694.53,511.07 L687.33,511.07 Z" fill="none" stroke="#000" stroke-width="2.6" stroke-linejoin="miter"/>
<path d="M697.35,505.63 L700.95,512.63 L693.75,512.63 Z" fill="none" stroke="#000" stroke-width="2.6" stroke-linejoin="miter"/>
<path d="M703.77,507.19 L707.37,514.19 L700.17,514.19 Z" fill="none" stroke="#000" stroke-width="2.6" stroke-linejoin="miter"/>
<path d="M710.19,508.75 L713.79,515.75 L706.59,515.75 Z" fill="none" stroke="#000" stroke-width="2.6" stroke-linejoin="miter"/>
<path d="M716.62,510.31 L720.22,517.31 L713.01,517.31 Z" fill="none" stroke="#000" stroke-width="2.6" stroke-linejoin="miter"/>
<path d="M723.04,511.87 L726.64,518.87 L719.44,518.87 Z" fill="none" stroke="#000" stroke-width="2.6" stroke-linejoin="miter"/>
<path d="M729.46,513.43 L733.06,520.43 L725.86,520.43 Z" fill="none" stroke="#000" stroke-width="2.6" stroke-linejoin="miter"/>
<path d="M735.88,514.99 L739.48,521.99 L732.28,521.99 Z" fill="none" stroke="#000" stroke-width="2.6" stroke-linejoin="miter"/>
<path d="M742.30,516.55 L745.90,523.55 L738.70,523.55 Z" fill="none" stroke="#000" stroke-width="2.6" stroke-linejoin="miter"/>
<path d="M748.72,518.11 L752.32,525.11 L745.12,525.11 Z" fill="none" stroke="#000" stroke-width="2.6" stroke-linejoin="miter"/>
<path d="M755.14,519.68 L758.74,526.68 L751.54,526.68 Z" fill="none" stroke="#000" stroke-width="2.6" stroke-linejoin="miter"/>
<path d="M761.56,521.24 L765.16,528.24 L757.96,528.24 Z" fill="none" stroke="#000" stroke-width="2.6" stroke-linejoin="miter"/>
<path d="M767.98,522.80 L771.58,529.80 L764.38,529.80 Z" fill="none" stroke="#000" stroke-width="2.6" stroke-linejoin="miter"/>
<path d="M774.40,524.36 L778.00,531.36 L770.80,531.36 Z" fill="none" stroke="#000" stroke-width="2.6" stroke-linejoin="miter"/>
<path d="M780.82,525.92 L784.42,532.92 L777.22,532.92 Z" fill="none" stroke="#000" stroke-width="2.6" stroke-linejoin="miter"/>
<path d="M787.25,527.48 L790.85,534.48 L783.65,534.48 Z" fill="none" stroke="#000" stroke-width="2.6" stroke-linejoin="miter"/>
<path d="M793.67,529.04 L797.27,536.04 L790.07,536.04 Z" fill="none" stroke="#000" stroke-width="2.6" stroke-linejoin="miter"/>
<path d="M800.09,530.60 L803.69,537.60 L796.49,537.60 Z" fill="none" stroke="#000" stroke-width="2.6" stroke-linejoin="miter"/>
<path d="M806.51,532.16 L810.11,539.16 L802.91,539.16 Z" fill="none" stroke="#000" stroke-width="2.6" stroke-linejoin="miter"/>
<path d="M812.93,533.73 L816.53,540.73 L809.33,540.73 Z" fill="none" stroke="#000" stroke-width="2.6" stroke-linejoin="miter"/>
<path d="M819.35,535.29 L822.95,542.29 L815.75,542.29 Z" fill="none" stroke="#000" stroke-width="2.6" stroke-linejoin="miter"/>
<path d="M825.77,536.85 L829.37,543.85 L822.17,543.85 Z" fill="none" stroke="#000" stroke-width="2.6" stroke-linejoin="miter"/>
<path d="M832.19,538.41 L835.79,545.41 L828.59,545.41 Z" fill="none" stroke="#000" stroke-width="2.6" stroke-linejoin="miter"/>
<path d="M838.61,539.97 L842.21,546.97 L835.01,546.97 Z" fill="none" stroke="#000" stroke-width="2.6" stroke-linejoin="miter"/>
<path d="M845.03,541.53 L848.63,548.53 L841.43,548.53 Z" fill="none" stroke="#000" stroke-width="2.6" stroke-linejoin="miter"/>
<path d="M851.46,543.09 L855.06,550.09 L847.86,550.09 Z" fill="none" stroke="#000" stroke-width="2.6" stroke-linejoin="miter"/>
<path d="M857.88,544.65 L861.48,551.65 L854.28,551.65 Z" fill="none" stroke="#000" stroke-width="2.6" stroke-linejoin="miter"/>
<path d="M864.30,546.21 L867.90,553.21 L860.70,553.21 Z" fill="none" stroke="#000" stroke-width="2.6" stroke-linejoin="miter"/>
<path d="M870.72,547.77 L874.32,554.77 L867.12,554.77 Z" fill="none" stroke="#000" stroke-width="2.6" stroke-linejoin="miter"/>
<path d="M877.14,549.33 L880.74,556.33 L873.54,556.33 Z" fill="none" stroke="#000" stroke-width="2.6" stroke-linejoin="miter"/>
<path d="M883.56,550.88 L887.16,557.88 L879.96,557.88 Z" fill="none" stroke="#000" stroke-width="2.6" stroke-linejoin="miter"/>
<path d="M889.98,552.44 L893.58,559.44 L886.38,559.44 Z" fill="none" stroke="#000" stroke-width="2.6" stroke-linejoin="miter"/>
<path d="M896.40,554.00 L900.00,561.00 L892.80,561.00 Z" fill="none" stroke="#000" stroke-width="2.6" stroke-linejoin="miter"/>
<path d="M902.82,555.56 L906.42,562.56 L899.22,562.56 Z" fill="none" stroke="#000" stroke-width="2.6" stroke-linejoin="miter"/>
<path d="M909.24,557.12 L912.84,564.12 L905.64,564.12 Z" fill="none" stroke="#000" stroke-width="2.6" stroke-linejoin="miter"/>
<path d="M915.67,558.68 L919.27,565.68 L912.07,565.68 Z" fill="none" stroke="#000" stroke-width="2.6" stroke-linejoin="miter"/>
<path d="M922.09,560.24 L925.69,567.24 L918.49,567.24 Z" fill="none" stroke="#000" stroke-width="2.6" stroke-linejoin="miter"/>
<path d="M928.51,561.80 L932.11,568.80 L924.91,568.80 Z" fill="none" stroke="#000" stroke-width="2.6" stroke-linejoin="miter"/>
<path d="M934.93,563.36 L938.53,570.36 L931.33,570.36 Z" fill="none" stroke="#000" stroke-width="2.6" stroke-linejoin="miter"/>
<path d="M941.35,564.92 L944.95,571.92 L937.75,571.92 Z" fill="none" stroke="#000" stroke-width="2.6" stroke-linejoin="miter"/>
<path d="M947.77,566.48 L951.37,573.48 L944.17,573.48 Z" fill="none" stroke="#000" stroke-width="2.6" stroke-linejoin="miter"/>
<path d="M954.19,568.04 L957.79,575.04 L950.59,575.04 Z" fill="none" stroke="#000" stroke-width="2.6" stroke-linejoin="miter"/>
<path d="M960.61,569.60 L964.21,576.60 L957.01,576.60 Z" fill="none" stroke="#000" stroke-width="2.6" stroke-linejoin="miter"/>
<path d="M967.03,571.17 L970.63,578.17 L963.43,578.17 Z" fill="none" stroke="#000" stroke-width="2.6" stroke-linejoin="miter"/>
<path d="M973.45,572.73 L977.05,579.73 L969.85,579.73 Z" fill="none" stroke="#000" stroke-width="2.6" stroke-linejoin="miter"/>
<path d="M979.88,574.30 L983.48,581.30 L976.28,581.30 Z" fill="none" stroke="#000" stroke-width="2.6" stroke-linejoin="miter"/>
<path d="M986.30,575.87 L989.90,582.87 L982.70,582.87 Z" fill="none" stroke="#000" stroke-width="2.6" stroke-linejoin="miter"/>
<path d="M992.72,577.44 L996.32,584.44 L989.12,584.44 Z" fill="none" stroke="#000" stroke-width="2.6" stroke-linejoin="miter"/>
<path d="M999.14,579.01 L1002.74,586.01 L995.54,586.01 Z" fill="none" stroke="#000" stroke-width="2.6" stroke-linejoin="miter"/>
<path d="M1005.56,580.58 L1009.16,587.58 L1001.96,587.58 Z" fill="none" stroke="#000" stroke-width="2.6" stroke-linejoin="miter"/>
<path d="M1011.98,582.15 L1015.58,589.15 L1008.38,589.15 Z" fill="none" stroke="#000" stroke-width="2.6" stroke-linejoin="miter"/>
<path d="M1018.40,583.73 L1022.00,590.73 L1014.80,590.73 Z" fill="none" stroke="#000" stroke-width="2.6" stroke-linejoin="miter"/>
<path d="M1024.82,585.31 L1028.42,592.31 L1021.22,592.31 Z" fill="none" stroke="#000" stroke-width="2.6" stroke-linejoin="miter"/>
<path d="M1031.24,586.89 L1034.84,593.89 L1027.64,593.89 Z" fill="none" stroke="#000" stroke-width="2.6" stroke-linejoin="miter"/>
<path d="M1037.66,588.47 L1041.26,595.47 L1034.07,595.47 Z" fill="none" stroke="#000" stroke-width="2.6" stroke-linejoin="miter"/>
<path d="M1044.09,590.05 L1047.69,597.05 L1040.49,597.05 Z" fill="none" stroke="#000" stroke-width="2.6" stroke-linejoin="miter"/>
<path d="M1050.51,591.64 L1054.11,598.64 L1046.91,598.64 Z" fill="none" stroke="#000" stroke-width="2.6" stroke-linejoin="miter"/>
<path d="M1056.93,593.23 L1060.53,600.23 L1053.33,600.23 Z" fill="none" stroke="#000" stroke-width="2.6" stroke-linejoin="miter"/>
<path d="M1063.35,594.82 L1066.95,601.82 L1059.75,601.82 Z" fill="none" stroke="#000" stroke-width="2.6" stroke-linejoin="miter"/>
<path d="M1069.77,596.41 L1073.37,603.41 L1066.17,603.41 Z" fill="none" stroke="#000" stroke-width="2.6" stroke-linejoin="miter"/>
<path d="M1076.19,598.01 L1079.79,605.01 L1072.59,605.01 Z" fill="none" stroke="#000" stroke-width="2.6" stroke-linejoin="miter"/>
<path d="M1082.61,599.61 L1086.21,606.61 L1079.01,606.61 Z" fill="none" stroke="#000" stroke-width="2.6" stroke-linejoin="miter"/>
<path d="M1089.03,601.21 L1092.63,608.21 L1085.43,608.21 Z" fill="none" stroke="#000" stroke-width="2.6" stroke-linejoin="miter"/>
<path d="M1095.45,602.82 L1099.05,609.82 L1091.85,609.82 Z" fill="none" stroke="#000" stroke-width="2.6" stroke-linejoin="miter"/>
<path d="M1101.88,604.42 L1105.47,611.42 L1098.28,611.42 Z" fill="none" stroke="#000" stroke-width="2.6" stroke-linejoin="miter"/>
<path d="M1108.30,606.04 L1111.90,613.04 L1104.70,613.04 Z" fill="none" stroke="#000" stroke-width="2.6" stroke-linejoin="miter"/>
<path d="M1114.72,607.65 L1118.32,614.65 L1111.12,614.65 Z" fill="none" stroke="#000" stroke-width="2.6" stroke-linejoin="miter"/>
<path d="M1121.14,609.27 L1124.74,616.27 L1117.54,616.27 Z" fill="none" stroke="#000" stroke-width="2.6" stroke-linejoin="miter"/>
<path d="M1127.56,610.89 L1131.16,617.89 L1123.96,617.89 Z" fill="none" stroke="#000" stroke-width="2.6" stroke-linejoin="miter"/>
<path d="M1133.98,612.52 L1137.58,619.52 L1130.38,619.52 Z" fill="none" stroke="#000" stroke-width="2.6" stroke-linejoin="miter"/>
<path d="M1140.40,614.15 L1144.00,621.15 L1136.80,621.15 Z" fill="none" stroke="#000" stroke-width="2.6" stroke-linejoin="miter"/>
<path d="M1146.82,615.78 L1150.42,622.78 L1143.22,622.78 Z" fill="none" stroke="#000" stroke-width="2.6" stroke-linejoin="miter"/>
<path d="M1153.24,617.42 L1156.84,624.42 L1149.64,624.42 Z" fill="none" stroke="#000" stroke-width="2.6" stroke-linejoin="miter"/>
<path d="M1159.66,619.06 L1163.26,626.06 L1156.06,626.06 Z" fill="none" stroke="#000" stroke-width="2.6" stroke-linejoin="miter"/>
<path d="M1166.09,620.70 L1169.68,627.70 L1162.49,627.70 Z" fill="none" stroke="#000" stroke-width="2.6" stroke-linejoin="miter"/>
<path d="M1172.51,622.35 L1176.11,629.35 L1168.91,629.35 Z" fill="none" stroke="#000" stroke-width="2.6" stroke-linejoin="miter"/>
<path d="M1178.93,624.01 L1182.53,631.01 L1175.33,631.01 Z" fill="none" stroke="#000" stroke-width="2.6" stroke-linejoin="miter"/>
<path d="M1185.35,625.66 L1188.95,632.66 L1181.75,632.66 Z" fill="none" stroke="#000" stroke-width="2.6" stroke-linejoin="miter"/>
<path d="M1191.77,627.33 L1195.37,634.33 L1188.17,634.33 Z" fill="none" stroke="#000" stroke-width="2.6" stroke-linejoin="miter"/>
<path d="M1198.19,628.99 L1201.79,635.99 L1194.59,635.99 Z" fill="none" stroke="#000" stroke-width="2.6" stroke-linejoin="miter"/>
<path d="M1204.61,630.67 L1208.21,637.67 L1201.01,637.67 Z" fill="none" stroke="#000" stroke-width="2.6" stroke-linejoin="miter"/>
<path d="M1211.03,632.34 L1214.63,639.34 L1207.43,639.34 Z" fill="none" stroke="#000" stroke-width="2.6" stroke-linejoin="miter"/>
<path d="M1217.45,634.03 L1221.05,641.03 L1213.85,641.03 Z" fill="none" stroke="#000" stroke-width="2.6" stroke-linejoin="miter"/>
<path d="M1223.87,635.71 L1227.47,642.71 L1220.27,642.71 Z" fill="none" stroke="#000" stroke-width="2.6" stroke-linejoin="miter"/>
<path d="M1230.30,637.40 L1233.89,644.40 L1226.70,644.40 Z" fill="none" stroke="#000" stroke-width="2.6" stroke-linejoin="miter"/>
<path d="M1236.72,639.10 L1240.32,646.10 L1233.12,646.10 Z" fill="none" stroke="#000" stroke-width="2.6" stroke-linejoin="miter"/>
<path d="M1243.14,640.80 L1246.74,647.80 L1239.54,647.80 Z" fill="none" stroke="#000" stroke-width="2.6" stroke-linejoin="miter"/>
<path d="M1249.56,642.51 L1253.16,649.51 L1245.96,649.51 Z" fill="none" stroke="#000" stroke-width="2.6" stroke-linejoin="miter"/>
<path d="M1255.98,644.23 L1259.58,651.23 L1252.38,651.23 Z" fill="none" stroke="#000" stroke-width="2.6" stroke-linejoin="miter"/>
<path d="M1262.40,645.95 L1266.00,652.95 L1258.80,652.95 Z" fill="none" stroke="#000" stroke-width="2.6" stroke-linejoin="miter"/>
<path d="M626.72,488.14 L631.52,497.24 L621.92,497.24 Z" fill="#ff0a0a"/>
<path d="M633.14,489.15 L637.94,498.25 L628.34,498.25 Z" fill="#ff0a0a"/>
<path d="M639.56,490.17 L644.36,499.27 L634.76,499.27 Z" fill="#ff0a0a"/>
<path d="M645.98,491.19 L650.78,500.29 L641.18,500.29 Z" fill="#ff0a0a"/>
<path d="M652.40,492.21 L657.20,501.31 L647.61,501.31 Z" fill="#ff0a0a"/>
<path d="M658.83,493.23 L663.63,502.33 L654.03,502.33 Z" fill="#ff0a0a"/>
<path d="M665.25,494.26 L670.05,503.36 L660.45,503.36 Z" fill="#ff0a0a"/>
<path d="M671.67,495.28 L676.47,504.38 L666.87,504.38 Z" fill="#ff0a0a"/>
<path d="M678.09,496.31 L682.89,505.41 L673.29,505.41 Z" fill="#ff0a0a"/>
<path d="M684.51,497.33 L689.31,506.43 L679.71,506.43 Z" fill="#ff0a0a"/>
<path d="M690.93,498.36 L695.73,507.46 L686.13,507.46 Z" fill="#ff0a0a"/>
<path d="M697.35,499.39 L702.15,508.49 L692.55,508.49 Z" fill="#ff0a0a"/>
<path d="M703.77,500.42 L708.57,509.52 L698.97,509.52 Z" fill="#ff0a0a"/>
<path d="M710.19,501.45 L714.99,510.55 L705.39,510.55 Z" fill="#ff0a0a"/>
<path d="M716.62,502.48 L721.41,511.58 L711.82,511.58 Z" fill="#ff0a0a"/>
<path d="M723.04,503.51 L727.84,512.61 L718.24,512.61 Z" fill="#ff0a0a"/>
<path d="M729.46,504.54 L734.26,513.64 L724.66,513.64 Z" fill="#ff0a0a"/>
<path d="M735.88,505.57 L740.68,514.67 L731.08,514.67 Z" fill="#ff0a0a"/>
<path d="M742.30,506.60 L747.10,515.70 L737.50,515.70 Z" fill="#ff0a0a"/>
<path d="M748.72,507.64 L753.52,516.74 L743.92,516.74 Z" fill="#ff0a0a"/>
<path d="M755.14,508.67 L759.94,517.77 L750.34,517.77 Z" fill="#ff0a0a"/>
<path d="M761.56,509.70 L766.36,518.80 L756.76,518.80 Z" fill="#ff0a0a"/>
<path d="M767.98,510.73 L772.78,519.83 L763.18,519.83 Z" fill="#ff0a0a"/>
<path d="M774.40,511.77 L779.20,520.87 L769.60,520.87 Z" fill="#ff0a0a"/>
<path d="M780.82,512.80 L785.62,521.90 L776.02,521.90 Z" fill="#ff0a0a"/>
<path d="M787.25,513.83 L792.05,522.93 L782.45,522.93 Z" fill="#ff0a0a"/>
<path d="M793.67,514.87 L798.47,523.97 L788.87,523.97 Z" fill="#ff0a0a"/>
<path d="M800.09,515.90 L804.89,525.00 L795.29,525.00 Z" fill="#ff0a0a"/>
<path d="M806.51,516.93 L811.31,526.03 L801.71,526.03 Z" fill="#ff0a0a"/>
<path d="M812.93,517.97 L817.73,527.07 L808.13,527.07 Z" fill="#ff0a0a"/>
<path d="M819.35,519.00 L824.15,528.10 L814.55,528.10 Z" fill="#ff0a0a"/>
<path d="M825.77,520.03 L830.57,529.13 L820.97,529.13 Z" fill="#ff0a0a"/>
<path d="M832.19,521.06 L836.99,530.16 L827.39,530.16 Z" fill="#ff0a0a"/>
<path d="M838.61,522.09 L843.41,531.19 L833.81,531.19 Z" fill="#ff0a0a"/>
<path d="M845.03,523.12 L849.83,532.22 L840.24,532.22 Z" fill="#ff0a0a"/>
<path d="M851.46,524.15 L856.26,533.25 L846.66,533.25 Z" fill="#ff0a0a"/>
<path d="M857.88,525.18 L862.68,534.28 L853.08,534.28 Z" fill="#ff0a0a"/>
<path d="M864.30,526.21 L869.10,535.31 L859.50,535.31 Z" fill="#ff0a0a"/>
<path d="M870.72,527.23 L875.52,536.33 L865.92,536.33 Z" fill="#ff0a0a"/>
<path d="M877.14,528.26 L881.94,537.36 L872.34,537.36 Z" fill="#ff0a0a"/>
<path d="M883.56,529.28 L888.36,538.38 L878.76,538.38 Z" fill="#ff0a0a"/>
<path d="M889.98,530.31 L894.78,539.41 L885.18,539.41 Z" fill="#ff0a0a"/>
<path d="M896.40,531.33 L901.20,540.43 L891.60,540.43 Z" fill="#ff0a0a"/>
<path d="M902.82,532.35 L907.62,541.45 L898.02,541.45 Z" fill="#ff0a0a"/>
<path d="M909.24,533.37 L914.04,542.47 L904.44,542.47 Z" fill="#ff0a0a"/>
<path d="M915.67,534.39 L920.47,543.49 L910.87,543.49 Z" fill="#ff0a0a"/>
<path d="M922.09,535.41 L926.89,544.51 L917.29,544.51 Z" fill="#ff0a0a"/>
<path d="M928.51,536.42 L933.31,545.52 L923.71,545.52 Z" fill="#ff0a0a"/>
<path d="M934.93,537.44 L939.73,546.54 L930.13,546.54 Z" fill="#ff0a0a"/>
<path d="M941.35,538.45 L946.15,547.55 L936.55,547.55 Z" fill="#ff0a0a"/>
<path d="M954.19,540.47 L958.99,549.57 L949.39,549.57 Z" fill="#ff0a0a"/>
<path d="M960.61,541.48 L965.41,550.58 L955.81,550.58 Z" fill="#ff0a0a"/>
<path d="M967.03,542.48 L971.83,551.58 L962.23,551.58 Z" fill="#ff0a0a"/>
<path d="M973.45,543.48 L978.25,552.58 L968.65,552.58 Z" fill="#ff0a0a"/>
<path d="M979.88,544.49 L984.68,553.59 L975.08,553.59 Z" fill="#ff0a0a"/>
<path d="M986.30,545.48 L991.10,554.58 L981.50,554.58 Z" fill="#ff0a0a"/>
<path d="M992.72,546.48 L997.52,555.58 L987.92,555.58 Z" fill="#ff0a0a"/>
<path d="M999.14,547.48 L1003.94,556.58 L994.34,556.58 Z" fill="#ff0a0a"/>
<path d="M1005.56,548.47 L1010.36,557.57 L1000.76,557.57 Z" fill="#ff0a0a"/>
<path d="M1011.98,549.46 L1016.78,558.56 L1007.18,558.56 Z" fill="#ff0a0a"/>
<path d="M1018.40,550.45 L1023.20,559.55 L1013.60,559.55 Z" fill="#ff0a0a"/>
<path d="M1024.82,551.43 L1029.62,560.53 L1020.02,560.53 Z" fill="#ff0a0a"/>
<path d="M1031.24,552.42 L1036.04,561.52 L1026.44,561.52 Z" fill="#ff0a0a"/>
<path d="M1037.66,553.40 L1042.46,562.50 L1032.87,562.50 Z" fill="#ff0a0a"/>
<path d="M1044.09,554.37 L1048.89,563.47 L1039.29,563.47 Z" fill="#ff0a0a"/>
<path d="M1050.51,555.35 L1055.31,564.45 L1045.71,564.45 Z" fill="#ff0a0a"/>
<path d="M1056.93,556.32 L1061.73,565.42 L1052.13,565.42 Z" fill="#ff0a0a"/>
<path d="M1063.35,557.29 L1068.15,566.39 L1058.55,566.39 Z" fill="#ff0a0a"/>
<path d="M1069.77,558.26 L1074.57,567.36 L1064.97,567.36 Z" fill="#ff0a0a"/>
<path d="M1076.19,559.22 L1080.99,568.32 L1071.39,568.32 Z" fill="#ff0a0a"/>
<path d="M1082.61,560.18 L1087.41,569.28 L1077.81,569.28 Z" fill="#ff0a0a"/>
<path d="M1089.03,561.14 L1093.83,570.24 L1084.23,570.24 Z" fill="#ff0a0a"/>
<path d="M1095.45,562.09 L1100.25,571.19 L1090.65,571.19 Z" fill="#ff0a0a"/>
<path d="M1101.88,563.04 L1106.67,572.14 L1097.08,572.14 Z" fill="#ff0a0a"/>
<path d="M1108.30,563.99 L1113.10,573.09 L1103.50,573.09 Z" fill="#ff0a0a"/>
<path d="M1114.72,564.93 L1119.52,574.03 L1109.92,574.03 Z" fill="#ff0a0a"/>
<path d="M1121.14,565.88 L1125.94,574.98 L1116.34,574.98 Z" fill="#ff0a0a"/>
<path d="M1127.56,566.81 L1132.36,575.91 L1122.76,575.91 Z" fill="#ff0a0a"/>
<path d="M1133.98,567.75 L1138.78,576.85 L1129.18,576.85 Z" fill="#ff0a0a"/>
<path d="M1140.40,568.68 L1145.20,577.78 L1135.60,577.78 Z" fill="#ff0a0a"/>
<path d="M1146.82,569.60 L1151.62,578.70 L1142.02,578.70 Z" fill="#ff0a0a"/>
<path d="M1153.24,570.52 L1158.04,579.62 L1148.44,579.62 Z" fill="#ff0a0a"/>
<path d="M1159.66,571.44 L1164.46,580.54 L1154.86,580.54 Z" fill="#ff0a0a"/>
<path d="M1166.09,572.36 L1170.88,581.46 L1161.29,581.46 Z" fill="#ff0a0a"/>
<path d="M1172.51,573.27 L1177.31,582.37 L1167.71,582.37 Z" fill="#ff0a0a"/>
<path d="M1178.93,574.18 L1183.73,583.28 L1174.13,583.28 Z" fill="#ff0a0a"/>
<path d="M1185.35,575.08 L1190.15,584.18 L1180.55,584.18 Z" fill="#ff0a0a"/>
<path d="M1191.77,575.98 L1196.57,585.08 L1186.97,585.08 Z" fill="#ff0a0a"/>
<path d="M1198.19,576.87 L1202.99,585.97 L1193.39,585.97 Z" fill="#ff0a0a"/>
<path d="M1204.61,577.76 L1209.41,586.86 L1199.81,586.86 Z" fill="#ff0a0a"/>
<path d="M1211.03,578.65 L1215.83,587.75 L1206.23,587.75 Z" fill="#ff0a0a"/>
<path d="M1217.45,579.53 L1222.25,588.63 L1212.65,588.63 Z" fill="#ff0a0a"/>
<path d="M1223.87,580.40 L1228.67,589.50 L1219.07,589.50 Z" fill="#ff0a0a"/>
<path d="M1230.30,581.28 L1235.10,590.38 L1225.50,590.38 Z" fill="#ff0a0a"/>
<path d="M1236.72,582.14 L1241.52,591.24 L1231.92,591.24 Z" fill="#ff0a0a"/>
<path d="M1243.14,583.01 L1247.94,592.11 L1238.34,592.11 Z" fill="#ff0a0a"/>
<path d="M1249.56,583.86 L1254.36,592.96 L1244.76,592.96 Z" fill="#ff0a0a"/>
<path d="M1255.98,584.72 L1260.78,593.82 L1251.18,593.82 Z" fill="#ff0a0a"/>
<path d="M1262.40,585.57 L1267.20,594.67 L1257.60,594.67 Z" fill="#ff0a0a"/>
<path d="M626.72,487.26 L631.52,496.36 L621.92,496.36 Z" fill="#ff0a0a"/>
<path d="M633.14,488.65 L637.94,497.75 L628.34,497.75 Z" fill="#ff0a0a"/>
<path d="M639.56,490.06 L644.36,499.16 L634.76,499.16 Z" fill="#ff0a0a"/>
<path d="M645.98,491.49 L650.78,500.59 L641.18,500.59 Z" fill="#ff0a0a"/>
<path d="M652.40,492.94 L657.20,502.04 L647.61,502.04 Z" fill="#ff0a0a"/>
<path d="M658.83,494.41 L663.63,503.51 L654.03,503.51 Z" fill="#ff0a0a"/>
<path d="M665.25,495.89 L670.05,504.99 L660.45,504.99 Z" fill="#ff0a0a"/>
<path d="M671.67,497.39 L676.47,506.49 L666.87,506.49 Z" fill="#ff0a0a"/>
<path d="M678.09,498.90 L682.89,508.00 L673.29,508.00 Z" fill="#ff0a0a"/>
<path d="M684.51,500.43 L689.31,509.53 L679.71,509.53 Z" fill="#ff0a0a"/>
<path d="M690.93,501.96 L695.73,511.06 L686.13,511.06 Z" fill="#ff0a0a"/>
<path d="M697.35,503.51 L702.15,512.61 L692.55,512.61 Z" fill="#ff0a0a"/>
<path d="M703.77,505.07 L708.57,514.17 L698.97,514.17 Z" fill="#ff0a0a"/>
<path d="M710.19,506.63 L714.99,515.73 L705.39,515.73 Z" fill="#ff0a0a"/>
<path d="M716.62,508.20 L721.41,517.30 L711.82,517.30 Z" fill="#ff0a0a"/>
<path d="M723.04,509.78 L727.84,518.88 L718.24,518.88 Z" fill="#ff0a0a"/>
<path d="M729.46,511.36 L734.26,520.46 L724.66,520.46 Z" fill="#ff0a0a"/>
<path d="M735.88,512.95 L740.68,522.05 L731.08,522.05 Z" fill="#ff0a0a"/>
<path d="M742.30,514.53 L747.10,523.63 L737.50,523.63 Z" fill="#ff0a0a"/>
<path d="M748.72,516.12 L753.52,525.22 L743.92,525.22 Z" fill="#ff0a0a"/>
<path d="M755.14,517.70 L759.94,526.80 L750.34,526.80 Z" fill="#ff0a0a"/>
<path d="M761.56,519.29 L766.36,528.39 L756.76,528.39 Z" fill="#ff0a0a"/>
<path d="M767.98,520.87 L772.78,529.97 L763.18,529.97 Z" fill="#ff0a0a"/>
<path d="M774.40,522.44 L779.20,531.54 L769.60,531.54 Z" fill="#ff0a0a"/>
<path d="M780.82,524.02 L785.62,533.12 L776.02,533.12 Z" fill="#ff0a0a"/>
<path d="M787.25,525.58 L792.05,534.68 L782.45,534.68 Z" fill="#ff0a0a"/>
<path d="M793.67,527.13 L798.47,536.23 L788.87,536.23 Z" fill="#ff0a0a"/>
<path d="M800.09,528.68 L804.89,537.78 L795.29,537.78 Z" fill="#ff0a0a"/>
<path d="M806.51,530.22 L811.31,539.32 L801.71,539.32 Z" fill="#ff0a0a"/>
<path d="M812.93,531.74 L817.73,540.84 L808.13,540.84 Z" fill="#ff0a0a"/>
<path d="M819.35,533.25 L824.15,542.35 L814.55,542.35 Z" fill="#ff0a0a"/>
<path d="M825.77,534.75 L830.57,543.85 L820.97,543.85 Z" fill="#ff0a0a"/>
<path d="M832.19,536.23 L836.99,545.33 L827.39,545.33 Z" fill="#ff0a0a"/>
<path d="M838.61,537.70 L843.41,546.80 L833.81,546.80 Z" fill="#ff0a0a"/>
<path d="M845.03,539.14 L849.83,548.24 L840.24,548.24 Z" fill="#ff0a0a"/>
<path d="M851.46,540.57 L856.26,549.67 L846.66,549.67 Z" fill="#ff0a0a"/>
<path d="M857.88,541.98 L862.68,551.08 L853.08,551.08 Z" fill="#ff0a0a"/>
<path d="M864.30,543.36 L869.10,552.46 L859.50,552.46 Z" fill="#ff0a0a"/>
<path d="M870.72,544.73 L875.52,553.83 L865.92,553.83 Z" fill="#ff0a0a"/>
<path d="M877.14,546.07 L881.94,555.17 L872.34,555.17 Z" fill="#ff0a0a"/>
<path d="M883.56,547.39 L888.36,556.49 L878.76,556.49 Z" fill="#ff0a0a"/>
<path d="M889.98,548.70 L894.78,557.80 L885.18,557.80 Z" fill="#ff0a0a"/>
<path d="M896.40,549.98 L901.20,559.08 L891.60,559.08 Z" fill="#ff0a0a"/>
<path d="M902.82,551.25 L907.62,560.35 L898.02,560.35 Z" fill="#ff0a0a"/>
<path d="M909.24,552.49 L914.04,561.59 L904.44,561.59 Z" fill="#ff0a0a"/>
<path d="M915.67,553.72 L920.47,562.82 L910.87,562.82 Z" fill="#ff0a0a"/>
<path d="M922.09,554.93 L926.89,564.03 L917.29,564.03 Z" fill="#ff0a0a"/>
<path d="M928.51,556.13 L933.31,565.23 L923.71,565.23 Z" fill="#ff0a0a"/>
<path d="M934.93,557.31 L939.73,566.41 L930.13,566.41 Z" fill="#ff0a0a"/>
<path d="M941.35,558.48 L946.15,567.58 L936.55,567.58 Z" fill="#ff0a0a"/>
<path d="M947.77,559.63 L952.57,568.73 L942.97,568.73 Z" fill="#ff0a0a"/>
<path d="M954.19,560.77 L958.99,569.87 L949.39,569.87 Z" fill="#ff0a0a"/>
<path d="M960.61,561.89 L965.41,570.99 L955.81,570.99 Z" fill="#ff0a0a"/>
<path d="M967.03,563.00 L971.83,572.10 L962.23,572.10 Z" fill="#ff0a0a"/>
<path d="M973.45,564.10 L978.25,573.20 L968.65,573.20 Z" fill="#ff0a0a"/>
<path d="M979.88,565.19 L984.68,574.29 L975.08,574.29 Z" fill="#ff0a0a"/>
<path d="M986.30,566.27 L991.10,575.37 L981.50,575.37 Z" fill="#ff0a0a"/>
<path d="M992.72,567.34 L997.52,576.44 L987.92,576.44 Z" fill="#ff0a0a"/>
<path d="M999.14,568.40 L1003.94,577.50 L994.34,577.50 Z" fill="#ff0a0a"/>
<path d="M1005.56,569.45 L1010.36,578.55 L1000.76,578.55 Z" fill="#ff0a0a"/>
<path d="M1011.98,570.49 L1016.78,579.59 L1007.18,579.59 Z" fill="#ff0a0a"/>
<path d="M1018.40,571.52 L1023.20,580.62 L1013.60,580.62 Z" fill="#ff0a0a"/>
<path d="M1024.82,572.55 L1029.62,581.65 L1020.02,581.65 Z" fill="#ff0a0a"/>
<path d="M1031.24,573.57 L1036.04,582.67 L1026.44,582.67 Z" fill="#ff0a0a"/>
<path d="M1037.66,574.59 L1042.46,583.69 L1032.87,583.69 Z" fill="#ff0a0a"/>
<path d="M1044.09,575.59 L1048.89,584.69 L1039.29,584.69 Z" fill="#ff0a0a"/>
<path d="M1050.51,576.60 L1055.31,585.70 L1045.71,585.70 Z" fill="#ff0a0a"/>
<path d="M1056.93,577.60 L1061.73,586.70 L1052.13,586.70 Z" fill="#ff0a0a"/>
<path d="M1063.35,578.60 L1068.15,587.70 L1058.55,587.70 Z" fill="#ff0a0a"/>
<path d="M1069.77,579.59 L1074.57,588.69 L1064.97,588.69 Z" fill="#ff0a0a"/>
<path d="M1076.19,580.59 L1080.99,589.69 L1071.39,589.69 Z" fill="#ff0a0a"/>
<path d="M1082.61,581.58 L1087.41,590.68 L1077.81,590.68 Z" fill="#ff0a0a"/>
<path d="M1089.03,582.57 L1093.83,591.67 L1084.23,591.67 Z" fill="#ff0a0a"/>
<path d="M1095.45,583.56 L1100.25,592.66 L1090.65,592.66 Z" fill="#ff0a0a"/>
<path d="M1101.88,584.55 L1106.67,593.65 L1097.08,593.65 Z" fill="#ff0a0a"/>
<path d="M1108.30,585.54 L1113.10,594.64 L1103.50,594.64 Z" fill="#ff0a0a"/>
<path d="M1114.72,586.54 L1119.52,595.64 L1109.92,595.64 Z" fill="#ff0a0a"/>
<path d="M1121.14,587.53 L1125.94,596.63 L1116.34,596.63 Z" fill="#ff0a0a"/>
<path d="M1127.56,588.53 L1132.36,597.63 L1122.76,597.63 Z" fill="#ff0a0a"/>
<path d="M1133.98,589.53 L1138.78,598.63 L1129.18,598.63 Z" fill="#ff0a0a"/>
<path d="M1140.40,590.54 L1145.20,599.64 L1135.60,599.64 Z" fill="#ff0a0a"/>
<path d="M1146.82,591.55 L1151.62,600.65 L1142.02,600.65 Z" fill="#ff0a0a"/>
<path d="M1153.24,592.56 L1158.04,601.66 L1148.44,601.66 Z" fill="#ff0a0a"/>
<path d="M1159.66,593.58 L1164.46,602.68 L1154.86,602.68 Z" fill="#ff0a0a"/>
<path d="M1166.09,594.61 L1170.88,603.71 L1161.29,603.71 Z" fill="#ff0a0a"/>
<path d="M1172.51,595.65 L1177.31,604.75 L1167.71,604.75 Z" fill="#ff0a0a"/>
<path d="M1178.93,596.69 L1183.73,605.79 L1174.13,605.79 Z" fill="#ff0a0a"/>
<path d="M1185.35,597.74 L1190.15,606.84 L1180.55,606.84 Z" fill="#ff0a0a"/>
<path d="M1191.77,598.80 L1196.57,607.90 L1186.97,607.90 Z" fill="#ff0a0a"/>
<path d="M1198.19,599.87 L1202.99,608.97 L1193.39,608.97 Z" fill="#ff0a0a"/>
<path d="M1204.61,600.95 L1209.41,610.05 L1199.81,610.05 Z" fill="#ff0a0a"/>
<path d="M1211.03,602.04 L1215.83,611.14 L1206.23,611.14 Z" fill="#ff0a0a"/>
<path d="M1217.45,603.14 L1222.25,612.24 L1212.65,612.24 Z" fill="#ff0a0a"/>
<path d="M1223.87,604.26 L1228.67,613.36 L1219.07,613.36 Z" fill="#ff0a0a"/>
<path d="M1230.30,605.38 L1235.10,614.48 L1225.50,614.48 Z" fill="#ff0a0a"/>
<path d="M1236.72,606.52 L1241.52,615.62 L1231.92,615.62 Z" fill="#ff0a0a"/>
<path d="M1243.14,607.68 L1247.94,616.78 L1238.34,616.78 Z" fill="#ff0a0a"/>
<path d="M1249.56,608.85 L1254.36,617.95 L1244.76,617.95 Z" fill="#ff0a0a"/>
<path d="M1255.98,610.03 L1260.78,619.13 L1251.18,619.13 Z" fill="#ff0a0a"/>
<path d="M1262.40,611.23 L1267.20,620.33 L1257.60,620.33 Z" fill="#ff0a0a"/>
<path d="M626.72,488.55 L630.22,492.75 L626.72,496.95 L623.22,492.75 Z" fill="none" stroke="#1a14c8" stroke-width="2.4" stroke-linejoin="miter"/>
<path d="M633.14,489.73 L636.64,493.93 L633.14,498.13 L629.64,493.93 Z" fill="none" stroke="#1a14c8" stroke-width="2.4" stroke-linejoin="miter"/>
<path d="M639.56,490.93 L643.06,495.13 L639.56,499.33 L636.06,495.13 Z" fill="none" stroke="#1a14c8" stroke-width="2.4" stroke-linejoin="miter"/>
<path d="M645.98,492.15 L649.48,496.35 L645.98,500.55 L642.48,496.35 Z" fill="none" stroke="#1a14c8" stroke-width="2.4" stroke-linejoin="miter"/>
<path d="M652.40,493.39 L655.90,497.59 L652.40,501.79 L648.90,497.59 Z" fill="none" stroke="#1a14c8" stroke-width="2.4" stroke-linejoin="miter"/>
<path d="M658.83,494.64 L662.33,498.84 L658.83,503.04 L655.33,498.84 Z" fill="none" stroke="#1a14c8" stroke-width="2.4" stroke-linejoin="miter"/>
<path d="M665.25,495.92 L668.75,500.12 L665.25,504.32 L661.75,500.12 Z" fill="none" stroke="#1a14c8" stroke-width="2.4" stroke-linejoin="miter"/>
<path d="M671.67,497.21 L675.17,501.41 L671.67,505.61 L668.17,501.41 Z" fill="none" stroke="#1a14c8" stroke-width="2.4" stroke-linejoin="miter"/>
<path d="M678.09,498.52 L681.59,502.72 L678.09,506.92 L674.59,502.72 Z" fill="none" stroke="#1a14c8" stroke-width="2.4" stroke-linejoin="miter"/>
<path d="M684.51,499.85 L688.01,504.05 L684.51,508.25 L681.01,504.05 Z" fill="none" stroke="#1a14c8" stroke-width="2.4" stroke-linejoin="miter"/>
<path d="M690.93,501.19 L694.43,505.39 L690.93,509.59 L687.43,505.39 Z" fill="none" stroke="#1a14c8" stroke-width="2.4" stroke-linejoin="miter"/>
<path d="M697.35,502.55 L700.85,506.75 L697.35,510.95 L693.85,506.75 Z" fill="none" stroke="#1a14c8" stroke-width="2.4" stroke-linejoin="miter"/>
<path d="M703.77,503.93 L707.27,508.13 L703.77,512.33 L700.27,508.13 Z" fill="none" stroke="#1a14c8" stroke-width="2.4" stroke-linejoin="miter"/>
<path d="M710.19,505.32 L713.69,509.52 L710.19,513.72 L706.69,509.52 Z" fill="none" stroke="#1a14c8" stroke-width="2.4" stroke-linejoin="miter"/>
<path d="M716.62,506.72 L720.12,510.92 L716.62,515.12 L713.12,510.92 Z" fill="none" stroke="#1a14c8" stroke-width="2.4" stroke-linejoin="miter"/>
<path d="M723.04,508.13 L726.54,512.33 L723.04,516.53 L719.54,512.33 Z" fill="none" stroke="#1a14c8" stroke-width="2.4" stroke-linejoin="miter"/>
<path d="M729.46,509.56 L732.96,513.76 L729.46,517.96 L725.96,513.76 Z" fill="none" stroke="#1a14c8" stroke-width="2.4" stroke-linejoin="miter"/>
<path d="M735.88,511.00 L739.38,515.20 L735.88,519.40 L732.38,515.20 Z" fill="none" stroke="#1a14c8" stroke-width="2.4" stroke-linejoin="miter"/>
<path d="M742.30,512.45 L745.80,516.65 L742.30,520.85 L738.80,516.65 Z" fill="none" stroke="#1a14c8" stroke-width="2.4" stroke-linejoin="miter"/>
<path d="M748.72,513.92 L752.22,518.12 L748.72,522.32 L745.22,518.12 Z" fill="none" stroke="#1a14c8" stroke-width="2.4" stroke-linejoin="miter"/>
<path d="M755.14,515.39 L758.64,519.59 L755.14,523.79 L751.64,519.59 Z" fill="none" stroke="#1a14c8" stroke-width="2.4" stroke-linejoin="miter"/>
<path d="M761.56,516.87 L765.06,521.07 L761.56,525.27 L758.06,521.07 Z" fill="none" stroke="#1a14c8" stroke-width="2.4" stroke-linejoin="miter"/>
<path d="M767.98,518.36 L771.48,522.56 L767.98,526.76 L764.48,522.56 Z" fill="none" stroke="#1a14c8" stroke-width="2.4" stroke-linejoin="miter"/>
<path d="M774.40,519.86 L777.90,524.06 L774.40,528.26 L770.90,524.06 Z" fill="none" stroke="#1a14c8" stroke-width="2.4" stroke-linejoin="miter"/>
<path d="M780.82,521.37 L784.32,525.57 L780.82,529.77 L777.32,525.57 Z" fill="none" stroke="#1a14c8" stroke-width="2.4" stroke-linejoin="miter"/>
<path d="M787.25,522.88 L790.75,527.08 L787.25,531.28 L783.75,527.08 Z" fill="none" stroke="#1a14c8" stroke-width="2.4" stroke-linejoin="miter"/>
<path d="M793.67,524.40 L797.17,528.60 L793.67,532.80 L790.17,528.60 Z" fill="none" stroke="#1a14c8" stroke-width="2.4" stroke-linejoin="miter"/>
<path d="M800.09,525.93 L803.59,530.13 L800.09,534.33 L796.59,530.13 Z" fill="none" stroke="#1a14c8" stroke-width="2.4" stroke-linejoin="miter"/>
<path d="M806.51,527.46 L810.01,531.66 L806.51,535.86 L803.01,531.66 Z" fill="none" stroke="#1a14c8" stroke-width="2.4" stroke-linejoin="miter"/>
<path d="M812.93,529.00 L816.43,533.20 L812.93,537.40 L809.43,533.20 Z" fill="none" stroke="#1a14c8" stroke-width="2.4" stroke-linejoin="miter"/>
<path d="M819.35,530.54 L822.85,534.74 L819.35,538.94 L815.85,534.74 Z" fill="none" stroke="#1a14c8" stroke-width="2.4" stroke-linejoin="miter"/>
<path d="M825.77,532.09 L829.27,536.29 L825.77,540.49 L822.27,536.29 Z" fill="none" stroke="#1a14c8" stroke-width="2.4" stroke-linejoin="miter"/>
<path d="M832.19,533.63 L835.69,537.83 L832.19,542.03 L828.69,537.83 Z" fill="none" stroke="#1a14c8" stroke-width="2.4" stroke-linejoin="miter"/>
<path d="M838.61,535.18 L842.11,539.38 L838.61,543.58 L835.11,539.38 Z" fill="none" stroke="#1a14c8" stroke-width="2.4" stroke-linejoin="miter"/>
<path d="M845.03,536.74 L848.53,540.94 L845.03,545.14 L841.53,540.94 Z" fill="none" stroke="#1a14c8" stroke-width="2.4" stroke-linejoin="miter"/>
<path d="M851.46,538.29 L854.96,542.49 L851.46,546.69 L847.96,542.49 Z" fill="none" stroke="#1a14c8" stroke-width="2.4" stroke-linejoin="miter"/>
<path d="M857.88,539.84 L861.38,544.04 L857.88,548.24 L854.38,544.04 Z" fill="none" stroke="#1a14c8" stroke-width="2.4" stroke-linejoin="miter"/>
<path d="M864.30,541.40 L867.80,545.60 L864.30,549.80 L860.80,545.60 Z" fill="none" stroke="#1a14c8" stroke-width="2.4" stroke-linejoin="miter"/>
<path d="M870.72,542.95 L874.22,547.15 L870.72,551.35 L867.22,547.15 Z" fill="none" stroke="#1a14c8" stroke-width="2.4" stroke-linejoin="miter"/>
<path d="M877.14,544.50 L880.64,548.70 L877.14,552.90 L873.64,548.70 Z" fill="none" stroke="#1a14c8" stroke-width="2.4" stroke-linejoin="miter"/>
<path d="M883.56,546.05 L887.06,550.25 L883.56,554.45 L880.06,550.25 Z" fill="none" stroke="#1a14c8" stroke-width="2.4" stroke-linejoin="miter"/>
<path d="M889.98,547.60 L893.48,551.80 L889.98,556.00 L886.48,551.80 Z" fill="none" stroke="#1a14c8" stroke-width="2.4" stroke-linejoin="miter"/>
<path d="M896.40,549.15 L899.90,553.35 L896.40,557.55 L892.90,553.35 Z" fill="none" stroke="#1a14c8" stroke-width="2.4" stroke-linejoin="miter"/>
<path d="M902.82,550.69 L906.32,554.89 L902.82,559.09 L899.32,554.89 Z" fill="none" stroke="#1a14c8" stroke-width="2.4" stroke-linejoin="miter"/>
<path d="M909.24,552.23 L912.74,556.43 L909.24,560.63 L905.74,556.43 Z" fill="none" stroke="#1a14c8" stroke-width="2.4" stroke-linejoin="miter"/>
<path d="M915.67,553.78 L919.17,557.98 L915.67,562.18 L912.17,557.98 Z" fill="none" stroke="#1a14c8" stroke-width="2.4" stroke-linejoin="miter"/>
<path d="M922.09,555.31 L925.59,559.51 L922.09,563.71 L918.59,559.51 Z" fill="none" stroke="#1a14c8" stroke-width="2.4" stroke-linejoin="miter"/>
<path d="M928.51,556.85 L932.01,561.05 L928.51,565.25 L925.01,561.05 Z" fill="none" stroke="#1a14c8" stroke-width="2.4" stroke-linejoin="miter"/>
<path d="M934.93,558.39 L938.43,562.59 L934.93,566.79 L931.43,562.59 Z" fill="none" stroke="#1a14c8" stroke-width="2.4" stroke-linejoin="miter"/>
<path d="M941.35,559.92 L944.85,564.12 L941.35,568.32 L937.85,564.12 Z" fill="none" stroke="#1a14c8" stroke-width="2.4" stroke-linejoin="miter"/>
<path d="M947.77,561.45 L951.27,565.65 L947.77,569.85 L944.27,565.65 Z" fill="none" stroke="#1a14c8" stroke-width="2.4" stroke-linejoin="miter"/>
<path d="M954.19,562.98 L957.69,567.18 L954.19,571.38 L950.69,567.18 Z" fill="none" stroke="#1a14c8" stroke-width="2.4" stroke-linejoin="miter"/>
<path d="M960.61,564.51 L964.11,568.71 L960.61,572.91 L957.11,568.71 Z" fill="none" stroke="#1a14c8" stroke-width="2.4" stroke-linejoin="miter"/>
<path d="M967.03,566.04 L970.53,570.24 L967.03,574.44 L963.53,570.24 Z" fill="none" stroke="#1a14c8" stroke-width="2.4" stroke-linejoin="miter"/>
<path d="M973.45,567.57 L976.95,571.77 L973.45,575.97 L969.95,571.77 Z" fill="none" stroke="#1a14c8" stroke-width="2.4" stroke-linejoin="miter"/>
<path d="M979.88,569.09 L983.38,573.29 L979.88,577.49 L976.38,573.29 Z" fill="none" stroke="#1a14c8" stroke-width="2.4" stroke-linejoin="miter"/>
<path d="M986.30,570.62 L989.80,574.82 L986.30,579.02 L982.80,574.82 Z" fill="none" stroke="#1a14c8" stroke-width="2.4" stroke-linejoin="miter"/>
<path d="M992.72,572.14 L996.22,576.34 L992.72,580.54 L989.22,576.34 Z" fill="none" stroke="#1a14c8" stroke-width="2.4" stroke-linejoin="miter"/>
<path d="M999.14,573.66 L1002.64,577.86 L999.14,582.06 L995.64,577.86 Z" fill="none" stroke="#1a14c8" stroke-width="2.4" stroke-linejoin="miter"/>
<path d="M1005.56,575.18 L1009.06,579.38 L1005.56,583.58 L1002.06,579.38 Z" fill="none" stroke="#1a14c8" stroke-width="2.4" stroke-linejoin="miter"/>
<path d="M1011.98,576.70 L1015.48,580.90 L1011.98,585.10 L1008.48,580.90 Z" fill="none" stroke="#1a14c8" stroke-width="2.4" stroke-linejoin="miter"/>
<path d="M1018.40,578.22 L1021.90,582.42 L1018.40,586.62 L1014.90,582.42 Z" fill="none" stroke="#1a14c8" stroke-width="2.4" stroke-linejoin="miter"/>
<path d="M1024.82,579.74 L1028.32,583.94 L1024.82,588.14 L1021.32,583.94 Z" fill="none" stroke="#1a14c8" stroke-width="2.4" stroke-linejoin="miter"/>
<path d="M1031.24,581.26 L1034.74,585.46 L1031.24,589.66 L1027.74,585.46 Z" fill="none" stroke="#1a14c8" stroke-width="2.4" stroke-linejoin="miter"/>
<path d="M1037.66,582.77 L1041.16,586.97 L1037.66,591.17 L1034.16,586.97 Z" fill="none" stroke="#1a14c8" stroke-width="2.4" stroke-linejoin="miter"/>
<path d="M1044.09,584.29 L1047.59,588.49 L1044.09,592.69 L1040.59,588.49 Z" fill="none" stroke="#1a14c8" stroke-width="2.4" stroke-linejoin="miter"/>
<path d="M1050.51,585.81 L1054.01,590.01 L1050.51,594.21 L1047.01,590.01 Z" fill="none" stroke="#1a14c8" stroke-width="2.4" stroke-linejoin="miter"/>
<path d="M1056.93,587.32 L1060.43,591.52 L1056.93,595.72 L1053.43,591.52 Z" fill="none" stroke="#1a14c8" stroke-width="2.4" stroke-linejoin="miter"/>
<path d="M1063.35,588.83 L1066.85,593.03 L1063.35,597.23 L1059.85,593.03 Z" fill="none" stroke="#1a14c8" stroke-width="2.4" stroke-linejoin="miter"/>
<path d="M1069.77,590.35 L1073.27,594.55 L1069.77,598.75 L1066.27,594.55 Z" fill="none" stroke="#1a14c8" stroke-width="2.4" stroke-linejoin="miter"/>
<path d="M1076.19,591.86 L1079.69,596.06 L1076.19,600.26 L1072.69,596.06 Z" fill="none" stroke="#1a14c8" stroke-width="2.4" stroke-linejoin="miter"/>
<path d="M1082.61,593.37 L1086.11,597.57 L1082.61,601.77 L1079.11,597.57 Z" fill="none" stroke="#1a14c8" stroke-width="2.4" stroke-linejoin="miter"/>
<path d="M1089.03,594.89 L1092.53,599.09 L1089.03,603.29 L1085.53,599.09 Z" fill="none" stroke="#1a14c8" stroke-width="2.4" stroke-linejoin="miter"/>
<path d="M1095.45,596.40 L1098.95,600.60 L1095.45,604.80 L1091.95,600.60 Z" fill="none" stroke="#1a14c8" stroke-width="2.4" stroke-linejoin="miter"/>
<path d="M1101.88,597.91 L1105.38,602.11 L1101.88,606.31 L1098.38,602.11 Z" fill="none" stroke="#1a14c8" stroke-width="2.4" stroke-linejoin="miter"/>
<path d="M1108.30,599.42 L1111.80,603.62 L1108.30,607.82 L1104.80,603.62 Z" fill="none" stroke="#1a14c8" stroke-width="2.4" stroke-linejoin="miter"/>
<path d="M1114.72,600.94 L1118.22,605.14 L1114.72,609.34 L1111.22,605.14 Z" fill="none" stroke="#1a14c8" stroke-width="2.4" stroke-linejoin="miter"/>
<path d="M1121.14,602.45 L1124.64,606.65 L1121.14,610.85 L1117.64,606.65 Z" fill="none" stroke="#1a14c8" stroke-width="2.4" stroke-linejoin="miter"/>
<path d="M1127.56,603.96 L1131.06,608.16 L1127.56,612.36 L1124.06,608.16 Z" fill="none" stroke="#1a14c8" stroke-width="2.4" stroke-linejoin="miter"/>
<path d="M1133.98,605.47 L1137.48,609.67 L1133.98,613.87 L1130.48,609.67 Z" fill="none" stroke="#1a14c8" stroke-width="2.4" stroke-linejoin="miter"/>
<path d="M1140.40,606.99 L1143.90,611.19 L1140.40,615.39 L1136.90,611.19 Z" fill="none" stroke="#1a14c8" stroke-width="2.4" stroke-linejoin="miter"/>
<path d="M1146.82,608.50 L1150.32,612.70 L1146.82,616.90 L1143.32,612.70 Z" fill="none" stroke="#1a14c8" stroke-width="2.4" stroke-linejoin="miter"/>
<path d="M1153.24,610.01 L1156.74,614.21 L1153.24,618.41 L1149.74,614.21 Z" fill="none" stroke="#1a14c8" stroke-width="2.4" stroke-linejoin="miter"/>
<path d="M1159.66,611.52 L1163.16,615.72 L1159.66,619.92 L1156.16,615.72 Z" fill="none" stroke="#1a14c8" stroke-width="2.4" stroke-linejoin="miter"/>
<path d="M1166.09,613.04 L1169.59,617.24 L1166.09,621.44 L1162.59,617.24 Z" fill="none" stroke="#1a14c8" stroke-width="2.4" stroke-linejoin="miter"/>
<path d="M1172.51,614.55 L1176.01,618.75 L1172.51,622.95 L1169.01,618.75 Z" fill="none" stroke="#1a14c8" stroke-width="2.4" stroke-linejoin="miter"/>
<path d="M1178.93,616.07 L1182.43,620.27 L1178.93,624.47 L1175.43,620.27 Z" fill="none" stroke="#1a14c8" stroke-width="2.4" stroke-linejoin="miter"/>
<path d="M1185.35,617.58 L1188.85,621.78 L1185.35,625.98 L1181.85,621.78 Z" fill="none" stroke="#1a14c8" stroke-width="2.4" stroke-linejoin="miter"/>
<path d="M1191.77,619.10 L1195.27,623.30 L1191.77,627.50 L1188.27,623.30 Z" fill="none" stroke="#1a14c8" stroke-width="2.4" stroke-linejoin="miter"/>
<path d="M1198.19,620.62 L1201.69,624.82 L1198.19,629.02 L1194.69,624.82 Z" fill="none" stroke="#1a14c8" stroke-width="2.4" stroke-linejoin="miter"/>
<path d="M1204.61,622.13 L1208.11,626.33 L1204.61,630.53 L1201.11,626.33 Z" fill="none" stroke="#1a14c8" stroke-width="2.4" stroke-linejoin="miter"/>
<path d="M1211.03,623.65 L1214.53,627.85 L1211.03,632.05 L1207.53,627.85 Z" fill="none" stroke="#1a14c8" stroke-width="2.4" stroke-linejoin="miter"/>
<path d="M1217.45,625.17 L1220.95,629.37 L1217.45,633.57 L1213.95,629.37 Z" fill="none" stroke="#1a14c8" stroke-width="2.4" stroke-linejoin="miter"/>
<path d="M1223.87,626.69 L1227.37,630.89 L1223.87,635.09 L1220.37,630.89 Z" fill="none" stroke="#1a14c8" stroke-width="2.4" stroke-linejoin="miter"/>
<path d="M1230.30,628.21 L1233.80,632.41 L1230.30,636.61 L1226.80,632.41 Z" fill="none" stroke="#1a14c8" stroke-width="2.4" stroke-linejoin="miter"/>
<path d="M1236.72,629.73 L1240.22,633.93 L1236.72,638.13 L1233.22,633.93 Z" fill="none" stroke="#1a14c8" stroke-width="2.4" stroke-linejoin="miter"/>
<path d="M1243.14,631.26 L1246.64,635.46 L1243.14,639.66 L1239.64,635.46 Z" fill="none" stroke="#1a14c8" stroke-width="2.4" stroke-linejoin="miter"/>
<path d="M1249.56,632.78 L1253.06,636.98 L1249.56,641.18 L1246.06,636.98 Z" fill="none" stroke="#1a14c8" stroke-width="2.4" stroke-linejoin="miter"/>
<path d="M1255.98,634.31 L1259.48,638.51 L1255.98,642.71 L1252.48,638.51 Z" fill="none" stroke="#1a14c8" stroke-width="2.4" stroke-linejoin="miter"/>
<path d="M1262.40,635.83 L1265.90,640.03 L1262.40,644.23 L1258.90,640.03 Z" fill="none" stroke="#1a14c8" stroke-width="2.4" stroke-linejoin="miter"/>
<path d="M626.72,489.15 L630.22,493.35 L626.72,497.55 L623.22,493.35 Z" fill="none" stroke="#1a14c8" stroke-width="2.4" stroke-linejoin="miter"/>
<path d="M633.14,490.04 L636.64,494.24 L633.14,498.44 L629.64,494.24 Z" fill="none" stroke="#1a14c8" stroke-width="2.4" stroke-linejoin="miter"/>
<path d="M639.56,491.02 L643.06,495.22 L639.56,499.42 L636.06,495.22 Z" fill="none" stroke="#1a14c8" stroke-width="2.4" stroke-linejoin="miter"/>
<path d="M645.98,492.08 L649.48,496.28 L645.98,500.48 L642.48,496.28 Z" fill="none" stroke="#1a14c8" stroke-width="2.4" stroke-linejoin="miter"/>
<path d="M652.40,493.22 L655.90,497.42 L652.40,501.62 L648.90,497.42 Z" fill="none" stroke="#1a14c8" stroke-width="2.4" stroke-linejoin="miter"/>
<path d="M658.83,494.43 L662.33,498.63 L658.83,502.83 L655.33,498.63 Z" fill="none" stroke="#1a14c8" stroke-width="2.4" stroke-linejoin="miter"/>
<path d="M665.25,495.72 L668.75,499.92 L665.25,504.12 L661.75,499.92 Z" fill="none" stroke="#1a14c8" stroke-width="2.4" stroke-linejoin="miter"/>
<path d="M671.67,497.09 L675.17,501.29 L671.67,505.49 L668.17,501.29 Z" fill="none" stroke="#1a14c8" stroke-width="2.4" stroke-linejoin="miter"/>
<path d="M678.09,498.52 L681.59,502.72 L678.09,506.92 L674.59,502.72 Z" fill="none" stroke="#1a14c8" stroke-width="2.4" stroke-linejoin="miter"/>
<path d="M684.51,500.01 L688.01,504.21 L684.51,508.41 L681.01,504.21 Z" fill="none" stroke="#1a14c8" stroke-width="2.4" stroke-linejoin="miter"/>
<path d="M690.93,501.57 L694.43,505.77 L690.93,509.97 L687.43,505.77 Z" fill="none" stroke="#1a14c8" stroke-width="2.4" stroke-linejoin="miter"/>
<path d="M697.35,503.19 L700.85,507.39 L697.35,511.59 L693.85,507.39 Z" fill="none" stroke="#1a14c8" stroke-width="2.4" stroke-linejoin="miter"/>
<path d="M703.77,504.86 L707.27,509.06 L703.77,513.26 L700.27,509.06 Z" fill="none" stroke="#1a14c8" stroke-width="2.4" stroke-linejoin="miter"/>
<path d="M710.19,506.59 L713.69,510.79 L710.19,514.99 L706.69,510.79 Z" fill="none" stroke="#1a14c8" stroke-width="2.4" stroke-linejoin="miter"/>
<path d="M716.62,508.37 L720.12,512.57 L716.62,516.77 L713.12,512.57 Z" fill="none" stroke="#1a14c8" stroke-width="2.4" stroke-linejoin="miter"/>
<path d="M723.04,510.19 L726.54,514.39 L723.04,518.59 L719.54,514.39 Z" fill="none" stroke="#1a14c8" stroke-width="2.4" stroke-linejoin="miter"/>
<path d="M729.46,512.06 L732.96,516.26 L729.46,520.46 L725.96,516.26 Z" fill="none" stroke="#1a14c8" stroke-width="2.4" stroke-linejoin="miter"/>
<path d="M735.88,513.97 L739.38,518.17 L735.88,522.37 L732.38,518.17 Z" fill="none" stroke="#1a14c8" stroke-width="2.4" stroke-linejoin="miter"/>
<path d="M742.30,515.92 L745.80,520.12 L742.30,524.32 L738.80,520.12 Z" fill="none" stroke="#1a14c8" stroke-width="2.4" stroke-linejoin="miter"/>
<path d="M748.72,517.91 L752.22,522.11 L748.72,526.31 L745.22,522.11 Z" fill="none" stroke="#1a14c8" stroke-width="2.4" stroke-linejoin="miter"/>
<path d="M755.14,519.92 L758.64,524.12 L755.14,528.32 L751.64,524.12 Z" fill="none" stroke="#1a14c8" stroke-width="2.4" stroke-linejoin="miter"/>
<path d="M761.56,521.97 L765.06,526.17 L761.56,530.37 L758.06,526.17 Z" fill="none" stroke="#1a14c8" stroke-width="2.4" stroke-linejoin="miter"/>
<path d="M767.98,524.04 L771.48,528.24 L767.98,532.44 L764.48,528.24 Z" fill="none" stroke="#1a14c8" stroke-width="2.4" stroke-linejoin="miter"/>
<path d="M774.40,526.14 L777.90,530.34 L774.40,534.54 L770.90,530.34 Z" fill="none" stroke="#1a14c8" stroke-width="2.4" stroke-linejoin="miter"/>
<path d="M780.82,528.25 L784.32,532.45 L780.82,536.65 L777.32,532.45 Z" fill="none" stroke="#1a14c8" stroke-width="2.4" stroke-linejoin="miter"/>
<path d="M787.25,530.39 L790.75,534.59 L787.25,538.79 L783.75,534.59 Z" fill="none" stroke="#1a14c8" stroke-width="2.4" stroke-linejoin="miter"/>
<path d="M793.67,532.54 L797.17,536.74 L793.67,540.94 L790.17,536.74 Z" fill="none" stroke="#1a14c8" stroke-width="2.4" stroke-linejoin="miter"/>
<path d="M800.09,534.70 L803.59,538.90 L800.09,543.10 L796.59,538.90 Z" fill="none" stroke="#1a14c8" stroke-width="2.4" stroke-linejoin="miter"/>
<path d="M806.51,536.87 L810.01,541.07 L806.51,545.27 L803.01,541.07 Z" fill="none" stroke="#1a14c8" stroke-width="2.4" stroke-linejoin="miter"/>
<path d="M812.93,539.04 L816.43,543.24 L812.93,547.44 L809.43,543.24 Z" fill="none" stroke="#1a14c8" stroke-width="2.4" stroke-linejoin="miter"/>
<path d="M819.35,541.22 L822.85,545.42 L819.35,549.62 L815.85,545.42 Z" fill="none" stroke="#1a14c8" stroke-width="2.4" stroke-linejoin="miter"/>
<path d="M825.77,543.39 L829.27,547.59 L825.77,551.79 L822.27,547.59 Z" fill="none" stroke="#1a14c8" stroke-width="2.4" stroke-linejoin="miter"/>
<path d="M832.19,545.56 L835.69,549.76 L832.19,553.96 L828.69,549.76 Z" fill="none" stroke="#1a14c8" stroke-width="2.4" stroke-linejoin="miter"/>
<path d="M838.61,547.73 L842.11,551.93 L838.61,556.13 L835.11,551.93 Z" fill="none" stroke="#1a14c8" stroke-width="2.4" stroke-linejoin="miter"/>
<path d="M845.03,549.89 L848.53,554.09 L845.03,558.29 L841.53,554.09 Z" fill="none" stroke="#1a14c8" stroke-width="2.4" stroke-linejoin="miter"/>
<path d="M851.46,552.03 L854.96,556.23 L851.46,560.43 L847.96,556.23 Z" fill="none" stroke="#1a14c8" stroke-width="2.4" stroke-linejoin="miter"/>
<path d="M857.88,554.16 L861.38,558.36 L857.88,562.56 L854.38,558.36 Z" fill="none" stroke="#1a14c8" stroke-width="2.4" stroke-linejoin="miter"/>
<path d="M864.30,556.27 L867.80,560.47 L864.30,564.67 L860.80,560.47 Z" fill="none" stroke="#1a14c8" stroke-width="2.4" stroke-linejoin="miter"/>
<path d="M870.72,558.36 L874.22,562.56 L870.72,566.76 L867.22,562.56 Z" fill="none" stroke="#1a14c8" stroke-width="2.4" stroke-linejoin="miter"/>
<path d="M877.14,560.43 L880.64,564.63 L877.14,568.83 L873.64,564.63 Z" fill="none" stroke="#1a14c8" stroke-width="2.4" stroke-linejoin="miter"/>
<path d="M883.56,562.49 L887.06,566.69 L883.56,570.89 L880.06,566.69 Z" fill="none" stroke="#1a14c8" stroke-width="2.4" stroke-linejoin="miter"/>
<path d="M889.98,564.52 L893.48,568.72 L889.98,572.92 L886.48,568.72 Z" fill="none" stroke="#1a14c8" stroke-width="2.4" stroke-linejoin="miter"/>
<path d="M896.40,566.54 L899.90,570.74 L896.40,574.94 L892.90,570.74 Z" fill="none" stroke="#1a14c8" stroke-width="2.4" stroke-linejoin="miter"/>
<path d="M902.82,568.55 L906.32,572.75 L902.82,576.95 L899.32,572.75 Z" fill="none" stroke="#1a14c8" stroke-width="2.4" stroke-linejoin="miter"/>
<path d="M909.24,570.53 L912.74,574.73 L909.24,578.93 L905.74,574.73 Z" fill="none" stroke="#1a14c8" stroke-width="2.4" stroke-linejoin="miter"/>
<path d="M915.67,572.51 L919.17,576.71 L915.67,580.91 L912.17,576.71 Z" fill="none" stroke="#1a14c8" stroke-width="2.4" stroke-linejoin="miter"/>
<path d="M922.09,574.46 L925.59,578.66 L922.09,582.86 L918.59,578.66 Z" fill="none" stroke="#1a14c8" stroke-width="2.4" stroke-linejoin="miter"/>
<path d="M928.51,576.41 L932.01,580.61 L928.51,584.81 L925.01,580.61 Z" fill="none" stroke="#1a14c8" stroke-width="2.4" stroke-linejoin="miter"/>
<path d="M934.93,578.34 L938.43,582.54 L934.93,586.74 L931.43,582.54 Z" fill="none" stroke="#1a14c8" stroke-width="2.4" stroke-linejoin="miter"/>
<path d="M941.35,580.26 L944.85,584.46 L941.35,588.66 L937.85,584.46 Z" fill="none" stroke="#1a14c8" stroke-width="2.4" stroke-linejoin="miter"/>
<path d="M947.77,582.16 L951.27,586.36 L947.77,590.56 L944.27,586.36 Z" fill="none" stroke="#1a14c8" stroke-width="2.4" stroke-linejoin="miter"/>
<path d="M954.19,584.05 L957.69,588.25 L954.19,592.45 L950.69,588.25 Z" fill="none" stroke="#1a14c8" stroke-width="2.4" stroke-linejoin="miter"/>
<path d="M960.61,585.93 L964.11,590.13 L960.61,594.33 L957.11,590.13 Z" fill="none" stroke="#1a14c8" stroke-width="2.4" stroke-linejoin="miter"/>
<path d="M967.03,587.81 L970.53,592.01 L967.03,596.21 L963.53,592.01 Z" fill="none" stroke="#1a14c8" stroke-width="2.4" stroke-linejoin="miter"/>
<path d="M973.45,589.67 L976.95,593.87 L973.45,598.07 L969.95,593.87 Z" fill="none" stroke="#1a14c8" stroke-width="2.4" stroke-linejoin="miter"/>
<path d="M979.88,591.52 L983.38,595.72 L979.88,599.92 L976.38,595.72 Z" fill="none" stroke="#1a14c8" stroke-width="2.4" stroke-linejoin="miter"/>
<path d="M986.30,593.36 L989.80,597.56 L986.30,601.76 L982.80,597.56 Z" fill="none" stroke="#1a14c8" stroke-width="2.4" stroke-linejoin="miter"/>
<path d="M992.72,595.20 L996.22,599.40 L992.72,603.60 L989.22,599.40 Z" fill="none" stroke="#1a14c8" stroke-width="2.4" stroke-linejoin="miter"/>
<path d="M999.14,597.02 L1002.64,601.22 L999.14,605.42 L995.64,601.22 Z" fill="none" stroke="#1a14c8" stroke-width="2.4" stroke-linejoin="miter"/>
<path d="M1005.56,598.84 L1009.06,603.04 L1005.56,607.24 L1002.06,603.04 Z" fill="none" stroke="#1a14c8" stroke-width="2.4" stroke-linejoin="miter"/>
<path d="M1011.98,600.66 L1015.48,604.86 L1011.98,609.06 L1008.48,604.86 Z" fill="none" stroke="#1a14c8" stroke-width="2.4" stroke-linejoin="miter"/>
<path d="M1018.40,602.46 L1021.90,606.66 L1018.40,610.86 L1014.90,606.66 Z" fill="none" stroke="#1a14c8" stroke-width="2.4" stroke-linejoin="miter"/>
<path d="M1024.82,604.27 L1028.32,608.47 L1024.82,612.67 L1021.32,608.47 Z" fill="none" stroke="#1a14c8" stroke-width="2.4" stroke-linejoin="miter"/>
<path d="M1031.24,606.06 L1034.74,610.26 L1031.24,614.46 L1027.74,610.26 Z" fill="none" stroke="#1a14c8" stroke-width="2.4" stroke-linejoin="miter"/>
<path d="M1037.66,607.86 L1041.16,612.06 L1037.66,616.26 L1034.16,612.06 Z" fill="none" stroke="#1a14c8" stroke-width="2.4" stroke-linejoin="miter"/>
<path d="M1044.09,609.65 L1047.59,613.85 L1044.09,618.05 L1040.59,613.85 Z" fill="none" stroke="#1a14c8" stroke-width="2.4" stroke-linejoin="miter"/>
<path d="M1050.51,611.43 L1054.01,615.63 L1050.51,619.83 L1047.01,615.63 Z" fill="none" stroke="#1a14c8" stroke-width="2.4" stroke-linejoin="miter"/>
<path d="M1056.93,613.22 L1060.43,617.42 L1056.93,621.62 L1053.43,617.42 Z" fill="none" stroke="#1a14c8" stroke-width="2.4" stroke-linejoin="miter"/>
<path d="M1063.35,615.00 L1066.85,619.20 L1063.35,623.40 L1059.85,619.20 Z" fill="none" stroke="#1a14c8" stroke-width="2.4" stroke-linejoin="miter"/>
<path d="M1069.77,616.78 L1073.27,620.98 L1069.77,625.18 L1066.27,620.98 Z" fill="none" stroke="#1a14c8" stroke-width="2.4" stroke-linejoin="miter"/>
<path d="M1076.19,618.56 L1079.69,622.76 L1076.19,626.96 L1072.69,622.76 Z" fill="none" stroke="#1a14c8" stroke-width="2.4" stroke-linejoin="miter"/>
<path d="M1082.61,620.34 L1086.11,624.54 L1082.61,628.74 L1079.11,624.54 Z" fill="none" stroke="#1a14c8" stroke-width="2.4" stroke-linejoin="miter"/>
<path d="M1089.03,622.12 L1092.53,626.32 L1089.03,630.52 L1085.53,626.32 Z" fill="none" stroke="#1a14c8" stroke-width="2.4" stroke-linejoin="miter"/>
<path d="M1095.45,623.90 L1098.95,628.10 L1095.45,632.30 L1091.95,628.10 Z" fill="none" stroke="#1a14c8" stroke-width="2.4" stroke-linejoin="miter"/>
<path d="M1101.88,625.68 L1105.38,629.88 L1101.88,634.08 L1098.38,629.88 Z" fill="none" stroke="#1a14c8" stroke-width="2.4" stroke-linejoin="miter"/>
<path d="M1108.30,627.47 L1111.80,631.67 L1108.30,635.87 L1104.80,631.67 Z" fill="none" stroke="#1a14c8" stroke-width="2.4" stroke-linejoin="miter"/>
<path d="M1114.72,629.25 L1118.22,633.45 L1114.72,637.65 L1111.22,633.45 Z" fill="none" stroke="#1a14c8" stroke-width="2.4" stroke-linejoin="miter"/>
<path d="M1121.14,631.04 L1124.64,635.24 L1121.14,639.44 L1117.64,635.24 Z" fill="none" stroke="#1a14c8" stroke-width="2.4" stroke-linejoin="miter"/>
<path d="M1127.56,632.84 L1131.06,637.04 L1127.56,641.24 L1124.06,637.04 Z" fill="none" stroke="#1a14c8" stroke-width="2.4" stroke-linejoin="miter"/>
<path d="M1133.98,634.64 L1137.48,638.84 L1133.98,643.04 L1130.48,638.84 Z" fill="none" stroke="#1a14c8" stroke-width="2.4" stroke-linejoin="miter"/>
<path d="M1140.40,636.44 L1143.90,640.64 L1140.40,644.84 L1136.90,640.64 Z" fill="none" stroke="#1a14c8" stroke-width="2.4" stroke-linejoin="miter"/>
<path d="M1146.82,638.25 L1150.32,642.45 L1146.82,646.65 L1143.32,642.45 Z" fill="none" stroke="#1a14c8" stroke-width="2.4" stroke-linejoin="miter"/>
<path d="M1153.24,640.07 L1156.74,644.27 L1153.24,648.47 L1149.74,644.27 Z" fill="none" stroke="#1a14c8" stroke-width="2.4" stroke-linejoin="miter"/>
<path d="M1159.66,641.89 L1163.16,646.09 L1159.66,650.29 L1156.16,646.09 Z" fill="none" stroke="#1a14c8" stroke-width="2.4" stroke-linejoin="miter"/>
<path d="M1166.09,643.72 L1169.59,647.92 L1166.09,652.12 L1162.59,647.92 Z" fill="none" stroke="#1a14c8" stroke-width="2.4" stroke-linejoin="miter"/>
<path d="M1172.51,645.56 L1176.01,649.76 L1172.51,653.96 L1169.01,649.76 Z" fill="none" stroke="#1a14c8" stroke-width="2.4" stroke-linejoin="miter"/>
<path d="M1178.93,647.41 L1182.43,651.61 L1178.93,655.81 L1175.43,651.61 Z" fill="none" stroke="#1a14c8" stroke-width="2.4" stroke-linejoin="miter"/>
<path d="M1185.35,649.26 L1188.85,653.46 L1185.35,657.66 L1181.85,653.46 Z" fill="none" stroke="#1a14c8" stroke-width="2.4" stroke-linejoin="miter"/>
<path d="M1191.77,651.13 L1195.27,655.33 L1191.77,659.53 L1188.27,655.33 Z" fill="none" stroke="#1a14c8" stroke-width="2.4" stroke-linejoin="miter"/>
<path d="M1198.19,653.01 L1201.69,657.21 L1198.19,661.41 L1194.69,657.21 Z" fill="none" stroke="#1a14c8" stroke-width="2.4" stroke-linejoin="miter"/>
<path d="M1204.61,654.89 L1208.11,659.09 L1204.61,663.29 L1201.11,659.09 Z" fill="none" stroke="#1a14c8" stroke-width="2.4" stroke-linejoin="miter"/>
<path d="M1211.03,656.79 L1214.53,660.99 L1211.03,665.19 L1207.53,660.99 Z" fill="none" stroke="#1a14c8" stroke-width="2.4" stroke-linejoin="miter"/>
<path d="M1217.45,658.70 L1220.95,662.90 L1217.45,667.10 L1213.95,662.90 Z" fill="none" stroke="#1a14c8" stroke-width="2.4" stroke-linejoin="miter"/>
<path d="M1223.87,660.62 L1227.37,664.82 L1223.87,669.02 L1220.37,664.82 Z" fill="none" stroke="#1a14c8" stroke-width="2.4" stroke-linejoin="miter"/>
<path d="M1230.30,662.56 L1233.80,666.76 L1230.30,670.96 L1226.80,666.76 Z" fill="none" stroke="#1a14c8" stroke-width="2.4" stroke-linejoin="miter"/>
<path d="M1236.72,664.51 L1240.22,668.71 L1236.72,672.91 L1233.22,668.71 Z" fill="none" stroke="#1a14c8" stroke-width="2.4" stroke-linejoin="miter"/>
<path d="M1243.14,666.47 L1246.64,670.67 L1243.14,674.87 L1239.64,670.67 Z" fill="none" stroke="#1a14c8" stroke-width="2.4" stroke-linejoin="miter"/>
<path d="M1249.56,668.45 L1253.06,672.65 L1249.56,676.85 L1246.06,672.65 Z" fill="none" stroke="#1a14c8" stroke-width="2.4" stroke-linejoin="miter"/>
<path d="M1255.98,670.45 L1259.48,674.65 L1255.98,678.85 L1252.48,674.65 Z" fill="none" stroke="#1a14c8" stroke-width="2.4" stroke-linejoin="miter"/>
<path d="M1262.40,672.46 L1265.90,676.66 L1262.40,680.86 L1258.90,676.66 Z" fill="none" stroke="#1a14c8" stroke-width="2.4" stroke-linejoin="miter"/>
<path d="M626.72,489.96 L632.42,496.26 L626.72,502.56 L621.02,496.26 Z" fill="#00ff00"/>
<path d="M633.14,491.78 L638.84,498.08 L633.14,504.38 L627.44,498.08 Z" fill="#00ff00"/>
<path d="M639.56,493.55 L645.26,499.85 L639.56,506.15 L633.86,499.85 Z" fill="#00ff00"/>
<path d="M645.98,495.28 L651.68,501.58 L645.98,507.88 L640.28,501.58 Z" fill="#00ff00"/>
<path d="M652.40,496.97 L658.11,503.27 L652.40,509.57 L646.70,503.27 Z" fill="#00ff00"/>
<path d="M658.83,498.62 L664.53,504.92 L658.83,511.22 L653.13,504.92 Z" fill="#00ff00"/>
<path d="M665.25,500.24 L670.95,506.54 L665.25,512.84 L659.55,506.54 Z" fill="#00ff00"/>
<path d="M671.67,501.81 L677.37,508.11 L671.67,514.41 L665.97,508.11 Z" fill="#00ff00"/>
<path d="M678.09,503.35 L683.79,509.65 L678.09,515.95 L672.39,509.65 Z" fill="#00ff00"/>
<path d="M684.51,504.85 L690.21,511.15 L684.51,517.45 L678.81,511.15 Z" fill="#00ff00"/>
<path d="M690.93,506.32 L696.63,512.62 L690.93,518.92 L685.23,512.62 Z" fill="#00ff00"/>
<path d="M697.35,507.76 L703.05,514.06 L697.35,520.36 L691.65,514.06 Z" fill="#00ff00"/>
<path d="M703.77,509.16 L709.47,515.46 L703.77,521.76 L698.07,515.46 Z" fill="#00ff00"/>
<path d="M710.19,510.54 L715.89,516.84 L710.19,523.14 L704.49,516.84 Z" fill="#00ff00"/>
<path d="M716.62,511.89 L722.32,518.19 L716.62,524.49 L710.91,518.19 Z" fill="#00ff00"/>
<path d="M723.04,513.21 L728.74,519.51 L723.04,525.81 L717.34,519.51 Z" fill="#00ff00"/>
<path d="M729.46,514.51 L735.16,520.81 L729.46,527.11 L723.76,520.81 Z" fill="#00ff00"/>
<path d="M735.88,515.78 L741.58,522.08 L735.88,528.38 L730.18,522.08 Z" fill="#00ff00"/>
<path d="M742.30,517.03 L748.00,523.33 L742.30,529.63 L736.60,523.33 Z" fill="#00ff00"/>
<path d="M748.72,518.25 L754.42,524.55 L748.72,530.85 L743.02,524.55 Z" fill="#00ff00"/>
<path d="M755.14,519.46 L760.84,525.76 L755.14,532.06 L749.44,525.76 Z" fill="#00ff00"/>
<path d="M761.56,520.65 L767.26,526.95 L761.56,533.25 L755.86,526.95 Z" fill="#00ff00"/>
<path d="M767.98,521.82 L773.68,528.12 L767.98,534.42 L762.28,528.12 Z" fill="#00ff00"/>
<path d="M774.40,522.97 L780.10,529.27 L774.40,535.57 L768.70,529.27 Z" fill="#00ff00"/>
<path d="M780.82,524.10 L786.52,530.40 L780.82,536.70 L775.12,530.40 Z" fill="#00ff00"/>
<path d="M787.25,525.22 L792.95,531.52 L787.25,537.82 L781.55,531.52 Z" fill="#00ff00"/>
<path d="M793.67,526.32 L799.37,532.62 L793.67,538.92 L787.97,532.62 Z" fill="#00ff00"/>
<path d="M800.09,527.41 L805.79,533.71 L800.09,540.01 L794.39,533.71 Z" fill="#00ff00"/>
<path d="M806.51,528.48 L812.21,534.78 L806.51,541.08 L800.81,534.78 Z" fill="#00ff00"/>
<path d="M812.93,529.53 L818.63,535.83 L812.93,542.13 L807.23,535.83 Z" fill="#00ff00"/>
<path d="M819.35,530.58 L825.05,536.88 L819.35,543.18 L813.65,536.88 Z" fill="#00ff00"/>
<path d="M825.77,531.60 L831.47,537.90 L825.77,544.20 L820.07,537.90 Z" fill="#00ff00"/>
<path d="M832.19,532.62 L837.89,538.92 L832.19,545.22 L826.49,538.92 Z" fill="#00ff00"/>
<path d="M838.61,533.62 L844.31,539.92 L838.61,546.22 L832.91,539.92 Z" fill="#00ff00"/>
<path d="M845.03,534.61 L850.74,540.91 L845.03,547.21 L839.33,540.91 Z" fill="#00ff00"/>
<path d="M851.46,535.59 L857.16,541.89 L851.46,548.19 L845.76,541.89 Z" fill="#00ff00"/>
<path d="M857.88,536.55 L863.58,542.85 L857.88,549.15 L852.18,542.85 Z" fill="#00ff00"/>
<path d="M864.30,537.51 L870.00,543.81 L864.30,550.11 L858.60,543.81 Z" fill="#00ff00"/>
<path d="M870.72,538.45 L876.42,544.75 L870.72,551.05 L865.02,544.75 Z" fill="#00ff00"/>
<path d="M877.14,539.38 L882.84,545.68 L877.14,551.98 L871.44,545.68 Z" fill="#00ff00"/>
<path d="M883.56,540.31 L889.26,546.61 L883.56,552.91 L877.86,546.61 Z" fill="#00ff00"/>
<path d="M889.98,541.22 L895.68,547.52 L889.98,553.82 L884.28,547.52 Z" fill="#00ff00"/>
<path d="M896.40,542.12 L902.10,548.42 L896.40,554.72 L890.70,548.42 Z" fill="#00ff00"/>
<path d="M902.82,543.02 L908.52,549.32 L902.82,555.62 L897.12,549.32 Z" fill="#00ff00"/>
<path d="M909.24,543.91 L914.94,550.21 L909.24,556.51 L903.54,550.21 Z" fill="#00ff00"/>
<path d="M915.67,544.79 L921.37,551.09 L915.67,557.39 L909.97,551.09 Z" fill="#00ff00"/>
<path d="M922.09,545.66 L927.79,551.96 L922.09,558.26 L916.39,551.96 Z" fill="#00ff00"/>
<path d="M928.51,546.53 L934.21,552.83 L928.51,559.13 L922.81,552.83 Z" fill="#00ff00"/>
<path d="M934.93,547.39 L940.63,553.69 L934.93,559.99 L929.23,553.69 Z" fill="#00ff00"/>
<path d="M941.35,548.25 L947.05,554.55 L941.35,560.85 L935.65,554.55 Z" fill="#00ff00"/>
<path d="M947.77,549.10 L953.47,555.40 L947.77,561.70 L942.07,555.40 Z" fill="#00ff00"/>
<path d="M954.19,549.95 L959.89,556.25 L954.19,562.55 L948.49,556.25 Z" fill="#00ff00"/>
<path d="M960.61,550.79 L966.31,557.09 L960.61,563.39 L954.91,557.09 Z" fill="#00ff00"/>
<path d="M967.03,551.62 L972.73,557.92 L967.03,564.22 L961.33,557.92 Z" fill="#00ff00"/>
<path d="M973.45,552.46 L979.15,558.76 L973.45,565.06 L967.75,558.76 Z" fill="#00ff00"/>
<path d="M979.88,553.29 L985.58,559.59 L979.88,565.89 L974.18,559.59 Z" fill="#00ff00"/>
<path d="M986.30,554.12 L992.00,560.42 L986.30,566.72 L980.60,560.42 Z" fill="#00ff00"/>
<path d="M992.72,554.94 L998.42,561.24 L992.72,567.54 L987.02,561.24 Z" fill="#00ff00"/>
<path d="M999.14,555.77 L1004.84,562.07 L999.14,568.37 L993.44,562.07 Z" fill="#00ff00"/>
<path d="M1005.56,556.59 L1011.26,562.89 L1005.56,569.19 L999.86,562.89 Z" fill="#00ff00"/>
<path d="M1011.98,557.41 L1017.68,563.71 L1011.98,570.01 L1006.28,563.71 Z" fill="#00ff00"/>
<path d="M1018.40,558.24 L1024.10,564.54 L1018.40,570.84 L1012.70,564.54 Z" fill="#00ff00"/>
<path d="M1024.82,559.06 L1030.52,565.36 L1024.82,571.66 L1019.12,565.36 Z" fill="#00ff00"/>
<path d="M1031.24,559.88 L1036.94,566.18 L1031.24,572.48 L1025.54,566.18 Z" fill="#00ff00"/>
<path d="M1037.66,560.71 L1043.37,567.01 L1037.66,573.31 L1031.96,567.01 Z" fill="#00ff00"/>
<path d="M1044.09,561.53 L1049.79,567.83 L1044.09,574.13 L1038.39,567.83 Z" fill="#00ff00"/>
<path d="M1050.51,562.36 L1056.21,568.66 L1050.51,574.96 L1044.81,568.66 Z" fill="#00ff00"/>
<path d="M1056.93,563.19 L1062.63,569.49 L1056.93,575.79 L1051.23,569.49 Z" fill="#00ff00"/>
<path d="M1063.35,564.03 L1069.05,570.33 L1063.35,576.63 L1057.65,570.33 Z" fill="#00ff00"/>
<path d="M1069.77,564.86 L1075.47,571.16 L1069.77,577.46 L1064.07,571.16 Z" fill="#00ff00"/>
<path d="M1076.19,565.70 L1081.89,572.00 L1076.19,578.30 L1070.49,572.00 Z" fill="#00ff00"/>
<path d="M1082.61,566.55 L1088.31,572.85 L1082.61,579.15 L1076.91,572.85 Z" fill="#00ff00"/>
<path d="M1089.03,567.40 L1094.73,573.70 L1089.03,580.00 L1083.33,573.70 Z" fill="#00ff00"/>
<path d="M1095.45,568.25 L1101.15,574.55 L1095.45,580.85 L1089.75,574.55 Z" fill="#00ff00"/>
<path d="M1101.88,569.11 L1107.58,575.41 L1101.88,581.71 L1096.17,575.41 Z" fill="#00ff00"/>
<path d="M1108.30,569.98 L1114.00,576.28 L1108.30,582.58 L1102.60,576.28 Z" fill="#00ff00"/>
<path d="M1114.72,570.85 L1120.42,577.15 L1114.72,583.45 L1109.02,577.15 Z" fill="#00ff00"/>
<path d="M1121.14,571.73 L1126.84,578.03 L1121.14,584.33 L1115.44,578.03 Z" fill="#00ff00"/>
<path d="M1127.56,572.62 L1133.26,578.92 L1127.56,585.22 L1121.86,578.92 Z" fill="#00ff00"/>
<path d="M1133.98,573.52 L1139.68,579.82 L1133.98,586.12 L1128.28,579.82 Z" fill="#00ff00"/>
<path d="M1140.40,574.42 L1146.10,580.72 L1140.40,587.02 L1134.70,580.72 Z" fill="#00ff00"/>
<path d="M1146.82,575.33 L1152.52,581.63 L1146.82,587.93 L1141.12,581.63 Z" fill="#00ff00"/>
<path d="M1153.24,576.25 L1158.94,582.55 L1153.24,588.85 L1147.54,582.55 Z" fill="#00ff00"/>
<path d="M1159.66,577.19 L1165.36,583.49 L1159.66,589.79 L1153.96,583.49 Z" fill="#00ff00"/>
<path d="M1166.09,578.13 L1171.79,584.43 L1166.09,590.73 L1160.38,584.43 Z" fill="#00ff00"/>
<path d="M1172.51,579.08 L1178.21,585.38 L1172.51,591.68 L1166.81,585.38 Z" fill="#00ff00"/>
<path d="M1178.93,580.04 L1184.63,586.34 L1178.93,592.64 L1173.23,586.34 Z" fill="#00ff00"/>
<path d="M1185.35,581.02 L1191.05,587.32 L1185.35,593.62 L1179.65,587.32 Z" fill="#00ff00"/>
<path d="M1191.77,582.01 L1197.47,588.31 L1191.77,594.61 L1186.07,588.31 Z" fill="#00ff00"/>
<path d="M1198.19,583.01 L1203.89,589.31 L1198.19,595.61 L1192.49,589.31 Z" fill="#00ff00"/>
<path d="M1204.61,584.02 L1210.31,590.32 L1204.61,596.62 L1198.91,590.32 Z" fill="#00ff00"/>
<path d="M1211.03,585.04 L1216.73,591.34 L1211.03,597.64 L1205.33,591.34 Z" fill="#00ff00"/>
<path d="M1217.45,586.08 L1223.15,592.38 L1217.45,598.68 L1211.75,592.38 Z" fill="#00ff00"/>
<path d="M1223.87,587.14 L1229.57,593.44 L1223.87,599.74 L1218.17,593.44 Z" fill="#00ff00"/>
<path d="M1230.30,588.21 L1236.00,594.51 L1230.30,600.81 L1224.60,594.51 Z" fill="#00ff00"/>
<path d="M1236.72,589.29 L1242.42,595.59 L1236.72,601.89 L1231.02,595.59 Z" fill="#00ff00"/>
<path d="M1243.14,590.39 L1248.84,596.69 L1243.14,602.99 L1237.44,596.69 Z" fill="#00ff00"/>
<path d="M1249.56,591.51 L1255.26,597.81 L1249.56,604.11 L1243.86,597.81 Z" fill="#00ff00"/>
<path d="M1255.98,592.64 L1261.68,598.94 L1255.98,605.24 L1250.28,598.94 Z" fill="#00ff00"/>
<path d="M1262.40,593.79 L1268.10,600.09 L1262.40,606.39 L1256.70,600.09 Z" fill="#00ff00"/>
<path d="M626.72,489.70 L632.42,496.00 L626.72,502.30 L621.02,496.00 Z" fill="#00ff00"/>
<path d="M633.14,491.78 L638.84,498.08 L633.14,504.38 L627.44,498.08 Z" fill="#00ff00"/>
<path d="M639.56,493.80 L645.26,500.10 L639.56,506.40 L633.86,500.10 Z" fill="#00ff00"/>
<path d="M645.98,495.78 L651.68,502.08 L645.98,508.38 L640.28,502.08 Z" fill="#00ff00"/>
<path d="M652.40,497.72 L658.11,504.02 L652.40,510.32 L646.70,504.02 Z" fill="#00ff00"/>
<path d="M658.83,499.61 L664.53,505.91 L658.83,512.21 L653.13,505.91 Z" fill="#00ff00"/>
<path d="M665.25,501.47 L670.95,507.77 L665.25,514.07 L659.55,507.77 Z" fill="#00ff00"/>
<path d="M671.67,503.28 L677.37,509.58 L671.67,515.88 L665.97,509.58 Z" fill="#00ff00"/>
<path d="M678.09,505.07 L683.79,511.37 L678.09,517.67 L672.39,511.37 Z" fill="#00ff00"/>
<path d="M684.51,506.82 L690.21,513.12 L684.51,519.42 L678.81,513.12 Z" fill="#00ff00"/>
<path d="M690.93,508.54 L696.63,514.84 L690.93,521.14 L685.23,514.84 Z" fill="#00ff00"/>
<path d="M697.35,510.24 L703.05,516.54 L697.35,522.84 L691.65,516.54 Z" fill="#00ff00"/>
<path d="M703.77,511.91 L709.47,518.21 L703.77,524.51 L698.07,518.21 Z" fill="#00ff00"/>
<path d="M710.19,513.56 L715.89,519.86 L710.19,526.16 L704.49,519.86 Z" fill="#00ff00"/>
<path d="M716.62,515.19 L722.32,521.49 L716.62,527.79 L710.91,521.49 Z" fill="#00ff00"/>
<path d="M723.04,516.80 L728.74,523.10 L723.04,529.40 L717.34,523.10 Z" fill="#00ff00"/>
<path d="M729.46,518.40 L735.16,524.70 L729.46,531.00 L723.76,524.70 Z" fill="#00ff00"/>
<path d="M735.88,519.99 L741.58,526.29 L735.88,532.59 L730.18,526.29 Z" fill="#00ff00"/>
<path d="M742.30,521.57 L748.00,527.87 L742.30,534.17 L736.60,527.87 Z" fill="#00ff00"/>
<path d="M748.72,523.14 L754.42,529.44 L748.72,535.74 L743.02,529.44 Z" fill="#00ff00"/>
<path d="M755.14,524.71 L760.84,531.01 L755.14,537.31 L749.44,531.01 Z" fill="#00ff00"/>
<path d="M761.56,526.27 L767.26,532.57 L761.56,538.87 L755.86,532.57 Z" fill="#00ff00"/>
<path d="M767.98,527.84 L773.68,534.14 L767.98,540.44 L762.28,534.14 Z" fill="#00ff00"/>
<path d="M774.40,529.41 L780.10,535.71 L774.40,542.01 L768.70,535.71 Z" fill="#00ff00"/>
<path d="M780.82,530.97 L786.52,537.27 L780.82,543.57 L775.12,537.27 Z" fill="#00ff00"/>
<path d="M787.25,532.54 L792.95,538.84 L787.25,545.14 L781.55,538.84 Z" fill="#00ff00"/>
<path d="M793.67,534.11 L799.37,540.41 L793.67,546.71 L787.97,540.41 Z" fill="#00ff00"/>
<path d="M800.09,535.68 L805.79,541.98 L800.09,548.28 L794.39,541.98 Z" fill="#00ff00"/>
<path d="M806.51,537.25 L812.21,543.55 L806.51,549.85 L800.81,543.55 Z" fill="#00ff00"/>
<path d="M812.93,538.82 L818.63,545.12 L812.93,551.42 L807.23,545.12 Z" fill="#00ff00"/>
<path d="M819.35,540.39 L825.05,546.69 L819.35,552.99 L813.65,546.69 Z" fill="#00ff00"/>
<path d="M825.77,541.96 L831.47,548.26 L825.77,554.56 L820.07,548.26 Z" fill="#00ff00"/>
<path d="M832.19,543.54 L837.89,549.84 L832.19,556.14 L826.49,549.84 Z" fill="#00ff00"/>
<path d="M838.61,545.11 L844.31,551.41 L838.61,557.71 L832.91,551.41 Z" fill="#00ff00"/>
<path d="M845.03,546.68 L850.74,552.98 L845.03,559.28 L839.33,552.98 Z" fill="#00ff00"/>
<path d="M851.46,548.26 L857.16,554.56 L851.46,560.86 L845.76,554.56 Z" fill="#00ff00"/>
<path d="M857.88,549.83 L863.58,556.13 L857.88,562.43 L852.18,556.13 Z" fill="#00ff00"/>
<path d="M864.30,551.41 L870.00,557.71 L864.30,564.01 L858.60,557.71 Z" fill="#00ff00"/>
<path d="M870.72,552.99 L876.42,559.29 L870.72,565.59 L865.02,559.29 Z" fill="#00ff00"/>
<path d="M877.14,554.57 L882.84,560.87 L877.14,567.17 L871.44,560.87 Z" fill="#00ff00"/>
<path d="M883.56,556.15 L889.26,562.45 L883.56,568.75 L877.86,562.45 Z" fill="#00ff00"/>
<path d="M889.98,557.73 L895.68,564.03 L889.98,570.33 L884.28,564.03 Z" fill="#00ff00"/>
<path d="M896.40,559.31 L902.10,565.61 L896.40,571.91 L890.70,565.61 Z" fill="#00ff00"/>
<path d="M902.82,560.90 L908.52,567.20 L902.82,573.50 L897.12,567.20 Z" fill="#00ff00"/>
<path d="M909.24,562.48 L914.94,568.78 L909.24,575.08 L903.54,568.78 Z" fill="#00ff00"/>
<path d="M915.67,564.07 L921.37,570.37 L915.67,576.67 L909.97,570.37 Z" fill="#00ff00"/>
<path d="M922.09,565.65 L927.79,571.95 L922.09,578.25 L916.39,571.95 Z" fill="#00ff00"/>
<path d="M928.51,567.24 L934.21,573.54 L928.51,579.84 L922.81,573.54 Z" fill="#00ff00"/>
<path d="M934.93,568.83 L940.63,575.13 L934.93,581.43 L929.23,575.13 Z" fill="#00ff00"/>
<path d="M941.35,570.42 L947.05,576.72 L941.35,583.02 L935.65,576.72 Z" fill="#00ff00"/>
<path d="M947.77,572.02 L953.47,578.32 L947.77,584.62 L942.07,578.32 Z" fill="#00ff00"/>
<path d="M954.19,573.61 L959.89,579.91 L954.19,586.21 L948.49,579.91 Z" fill="#00ff00"/>
<path d="M960.61,575.21 L966.31,581.51 L960.61,587.81 L954.91,581.51 Z" fill="#00ff00"/>
<path d="M967.03,576.81 L972.73,583.11 L967.03,589.41 L961.33,583.11 Z" fill="#00ff00"/>
<path d="M973.45,578.40 L979.15,584.70 L973.45,591.00 L967.75,584.70 Z" fill="#00ff00"/>
<path d="M979.88,580.00 L985.58,586.30 L979.88,592.60 L974.18,586.30 Z" fill="#00ff00"/>
<path d="M986.30,581.61 L992.00,587.91 L986.30,594.21 L980.60,587.91 Z" fill="#00ff00"/>
<path d="M992.72,583.21 L998.42,589.51 L992.72,595.81 L987.02,589.51 Z" fill="#00ff00"/>
<path d="M999.14,584.82 L1004.84,591.12 L999.14,597.42 L993.44,591.12 Z" fill="#00ff00"/>
<path d="M1005.56,586.42 L1011.26,592.72 L1005.56,599.02 L999.86,592.72 Z" fill="#00ff00"/>
<path d="M1011.98,588.03 L1017.68,594.33 L1011.98,600.63 L1006.28,594.33 Z" fill="#00ff00"/>
<path d="M1018.40,589.65 L1024.10,595.95 L1018.40,602.25 L1012.70,595.95 Z" fill="#00ff00"/>
<path d="M1024.82,591.26 L1030.52,597.56 L1024.82,603.86 L1019.12,597.56 Z" fill="#00ff00"/>
<path d="M1031.24,592.87 L1036.94,599.17 L1031.24,605.47 L1025.54,599.17 Z" fill="#00ff00"/>
<path d="M1037.66,594.49 L1043.37,600.79 L1037.66,607.09 L1031.96,600.79 Z" fill="#00ff00"/>
<path d="M1044.09,596.11 L1049.79,602.41 L1044.09,608.71 L1038.39,602.41 Z" fill="#00ff00"/>
<path d="M1050.51,597.73 L1056.21,604.03 L1050.51,610.33 L1044.81,604.03 Z" fill="#00ff00"/>
<path d="M1056.93,599.35 L1062.63,605.65 L1056.93,611.95 L1051.23,605.65 Z" fill="#00ff00"/>
<path d="M1063.35,600.98 L1069.05,607.28 L1063.35,613.58 L1057.65,607.28 Z" fill="#00ff00"/>
<path d="M1069.77,602.61 L1075.47,608.91 L1069.77,615.21 L1064.07,608.91 Z" fill="#00ff00"/>
<path d="M1076.19,604.24 L1081.89,610.54 L1076.19,616.84 L1070.49,610.54 Z" fill="#00ff00"/>
<path d="M1082.61,605.87 L1088.31,612.17 L1082.61,618.47 L1076.91,612.17 Z" fill="#00ff00"/>
<path d="M1089.03,607.50 L1094.73,613.80 L1089.03,620.10 L1083.33,613.80 Z" fill="#00ff00"/>
<path d="M1095.45,609.14 L1101.15,615.44 L1095.45,621.74 L1089.75,615.44 Z" fill="#00ff00"/>
<path d="M1101.88,610.78 L1107.58,617.08 L1101.88,623.38 L1096.17,617.08 Z" fill="#00ff00"/>
<path d="M1108.30,612.42 L1114.00,618.72 L1108.30,625.02 L1102.60,618.72 Z" fill="#00ff00"/>
<path d="M1114.72,614.06 L1120.42,620.36 L1114.72,626.66 L1109.02,620.36 Z" fill="#00ff00"/>
<path d="M1121.14,615.71 L1126.84,622.01 L1121.14,628.31 L1115.44,622.01 Z" fill="#00ff00"/>
<path d="M1127.56,617.36 L1133.26,623.66 L1127.56,629.96 L1121.86,623.66 Z" fill="#00ff00"/>
<path d="M1133.98,619.01 L1139.68,625.31 L1133.98,631.61 L1128.28,625.31 Z" fill="#00ff00"/>
<path d="M1140.40,620.66 L1146.10,626.96 L1140.40,633.26 L1134.70,626.96 Z" fill="#00ff00"/>
<path d="M1146.82,622.32 L1152.52,628.62 L1146.82,634.92 L1141.12,628.62 Z" fill="#00ff00"/>
<path d="M1153.24,623.97 L1158.94,630.27 L1153.24,636.57 L1147.54,630.27 Z" fill="#00ff00"/>
<path d="M1159.66,625.64 L1165.36,631.94 L1159.66,638.24 L1153.96,631.94 Z" fill="#00ff00"/>
<path d="M1166.09,627.30 L1171.79,633.60 L1166.09,639.90 L1160.38,633.60 Z" fill="#00ff00"/>
<path d="M1172.51,628.97 L1178.21,635.27 L1172.51,641.57 L1166.81,635.27 Z" fill="#00ff00"/>
<path d="M1178.93,630.64 L1184.63,636.94 L1178.93,643.24 L1173.23,636.94 Z" fill="#00ff00"/>
<path d="M1185.35,632.31 L1191.05,638.61 L1185.35,644.91 L1179.65,638.61 Z" fill="#00ff00"/>
<path d="M1191.77,633.98 L1197.47,640.28 L1191.77,646.58 L1186.07,640.28 Z" fill="#00ff00"/>
<path d="M1198.19,635.66 L1203.89,641.96 L1198.19,648.26 L1192.49,641.96 Z" fill="#00ff00"/>
<path d="M1204.61,637.34 L1210.31,643.64 L1204.61,649.94 L1198.91,643.64 Z" fill="#00ff00"/>
<path d="M1211.03,639.03 L1216.73,645.33 L1211.03,651.63 L1205.33,645.33 Z" fill="#00ff00"/>
<path d="M1217.45,640.71 L1223.15,647.01 L1217.45,653.31 L1211.75,647.01 Z" fill="#00ff00"/>
<path d="M1223.87,642.41 L1229.57,648.71 L1223.87,655.01 L1218.17,648.71 Z" fill="#00ff00"/>
<path d="M1230.30,644.10 L1236.00,650.40 L1230.30,656.70 L1224.60,650.40 Z" fill="#00ff00"/>
<path d="M1236.72,645.79 L1242.42,652.09 L1236.72,658.39 L1231.02,652.09 Z" fill="#00ff00"/>
<path d="M1243.14,647.49 L1248.84,653.79 L1243.14,660.09 L1237.44,653.79 Z" fill="#00ff00"/>
<path d="M1249.56,649.20 L1255.26,655.50 L1249.56,661.80 L1243.86,655.50 Z" fill="#00ff00"/>
<path d="M1255.98,650.90 L1261.68,657.20 L1255.98,663.50 L1250.28,657.20 Z" fill="#00ff00"/>
<path d="M1262.40,652.61 L1268.10,658.91 L1262.40,665.21 L1256.70,658.91 Z" fill="#00ff00"/>
</g>
<path d="M668.10,719.10 L677.10,733.50 L659.10,733.50 Z" fill="none" stroke="#000" stroke-width="2.3" stroke-linejoin="miter"/>
<path d="M668.10,753.30 L677.00,761.50 L668.10,769.70 L659.20,761.50 Z" fill="none" stroke="#1a14c8" stroke-width="2.4" stroke-linejoin="miter"/>
<path d="M668.10,786.30 L676.70,801.90 L659.50,801.90 Z" fill="#ff0a0a"/>
<path d="M668.10,822.50 L678.10,831.80 L668.10,841.10 L658.10,831.80 Z" fill="#00ff00"/>
<text x="37.80" y="21.00" font-family='"Liberation Sans", sans-serif' font-weight="bold" font-size="28" fill="#000">4.4</text>
<text x="61.30" y="129.00" font-family='"Liberation Sans", sans-serif' font-weight="bold" font-size="28" fill="#000">4</text>
<text x="37.80" y="238.00" font-family='"Liberation Sans", sans-serif' font-weight="bold" font-size="28" fill="#000">3.6</text>
<text x="37.80" y="348.00" font-family='"Liberation Sans", sans-serif' font-weight="bold" font-size="28" fill="#000">3.2</text>
<text x="82.25" y="430.50" font-family='"Liberation Sans", sans-serif' font-weight="bold" font-size="28" fill="#000">0</text>
<text x="150.57" y="430.50" font-family='"Liberation Sans", sans-serif' font-weight="bold" font-size="28" fill="#000">50</text>
<text x="219.03" y="430.50" font-family='"Liberation Sans", sans-serif' font-weight="bold" font-size="28" fill="#000">100</text>
<path d="M219.85,427.49 H225.46 V431.50 H219.85 Z M229.50,427.49 H234.41 V431.50 H229.50 Z" fill="#fff"/>
<text x="295.23" y="430.50" font-family='"Liberation Sans", sans-serif' font-weight="bold" font-size="28" fill="#000">150</text>
<path d="M296.05,427.49 H301.66 V431.50 H296.05 Z M305.70,427.49 H310.61 V431.50 H305.70 Z" fill="#fff"/>
<text x="371.43" y="430.50" font-family='"Liberation Sans", sans-serif' font-weight="bold" font-size="28" fill="#000">200</text>
<text transform="translate(103.40,468.00) scale(0.9994,1.0000)" font-family='"Liberation Sans", sans-serif' font-weight="bold" font-size="28" fill="#000">Specific Capacity (mAh/g)</text>
<text transform="translate(26.00,314.10) rotate(-90) scale(1.0072,1)" font-family='"Liberation Sans", sans-serif' font-weight="bold" font-size="28" fill="#000">Voltage (V vs. Li)</text>
<text transform="translate(408.70,347.50) scale(0.7941,1.0000)" font-family='"Liberation Serif", serif' font-weight="bold" font-size="68" fill="#000">a</text>
<circle cx="416.0" cy="324.0" r="4.3" fill="#000"/>
<text x="40.95" y="577.00" font-family='"Liberation Sans", sans-serif' font-weight="bold" font-size="28" fill="#000">400</text>
<text x="72.20" y="684.00" font-family='"Liberation Sans", sans-serif' font-weight="bold" font-size="28" fill="#000">0</text>
<text x="31.70" y="791.00" font-family='"Liberation Sans", sans-serif' font-weight="bold" font-size="28" fill="#000">-400</text>
<text x="82.95" y="899.20" font-family='"Liberation Sans", sans-serif' font-weight="bold" font-size="27" fill="#000">3.2</text>
<text x="208.05" y="899.20" font-family='"Liberation Sans", sans-serif' font-weight="bold" font-size="27" fill="#000">3.6</text>
<text x="346.10" y="899.20" font-family='"Liberation Sans", sans-serif' font-weight="bold" font-size="27" fill="#000">4</text>
<text x="459.15" y="899.20" font-family='"Liberation Sans", sans-serif' font-weight="bold" font-size="27" fill="#000">4.4</text>
<text transform="translate(191.70,931.00) scale(1.0288,1.0000)" font-family='"Liberation Sans", sans-serif' font-weight="bold" font-size="27" fill="#000">Voltage (V vs. Li)</text>
<text transform="translate(21.60,783.80) rotate(-90) scale(0.9922,1)" font-family='"Liberation Sans", sans-serif' font-weight="bold" font-size="27.5" fill="#000">dQ/dV (mAh/g/V)</text>
<text transform="translate(161.40,811.30) scale(1.0496,1.0000)" font-family='"Liberation Sans", sans-serif' font-weight="bold" font-size="26" fill="#000">SC880903</text>
<text transform="translate(161.40,847.30) scale(1.0496,1.0000)" font-family='"Liberation Sans", sans-serif' font-weight="bold" font-size="26" fill="#000">PC880903</text>
<text transform="translate(428.70,829.60) scale(0.8782,1.0000)" font-family='"Liberation Serif", serif' font-weight="bold" font-size="60" fill="#000">b</text>
<text x="567.10" y="26.60" font-family='"Liberation Sans", sans-serif' font-weight="bold" font-size="24" fill="#000">200</text>
<text x="567.10" y="111.70" font-family='"Liberation Sans", sans-serif' font-weight="bold" font-size="24" fill="#000">180</text>
<path d="M567.80,109.10 H572.60 V112.70 H567.80 Z M576.09,109.10 H580.28 V112.70 H576.09 Z" fill="#fff"/>
<text x="567.10" y="196.80" font-family='"Liberation Sans", sans-serif' font-weight="bold" font-size="24" fill="#000">160</text>
<path d="M567.80,194.20 H572.60 V197.80 H567.80 Z M576.09,194.20 H580.28 V197.80 H576.09 Z" fill="#fff"/>
<text x="567.10" y="281.90" font-family='"Liberation Sans", sans-serif' font-weight="bold" font-size="24" fill="#000">140</text>
<path d="M567.80,279.30 H572.60 V282.90 H567.80 Z M576.09,279.30 H580.28 V282.90 H576.09 Z" fill="#fff"/>
<text x="567.10" y="367.00" font-family='"Liberation Sans", sans-serif' font-weight="bold" font-size="24" fill="#000">120</text>
<path d="M567.80,364.40 H572.60 V368.00 H567.80 Z M576.09,364.40 H580.28 V368.00 H576.09 Z" fill="#fff"/>
<text transform="translate(556.40,431.70) rotate(-90) scale(0.9990,1)" font-family='"Liberation Sans", sans-serif' font-weight="bold" font-size="32.5" fill="#000">Specific Capacity (mAh/g)</text>
<text transform="translate(1205.90,408.50) scale(0.8456,1.0000)" font-family='"Liberation Serif", serif' font-weight="bold" font-size="64" fill="#000">c</text>
<circle cx="1225.2" cy="386.0" r="3.7" fill="#000"/>
<text x="594.50" y="502.50" font-family='"Liberation Sans", sans-serif' font-weight="bold" font-size="23.5" fill="#000">1</text>
<path d="M595.19,499.95 H599.88 V503.50 H595.19 Z M603.31,499.95 H607.41 V503.50 H603.31 Z" fill="#fff"/>
<text x="574.75" y="597.20" font-family='"Liberation Sans", sans-serif' font-weight="bold" font-size="23.5" fill="#000">0.9</text>
<text x="574.75" y="691.90" font-family='"Liberation Sans", sans-serif' font-weight="bold" font-size="23.5" fill="#000">0.8</text>
<text x="574.75" y="786.60" font-family='"Liberation Sans", sans-serif' font-weight="bold" font-size="23.5" fill="#000">0.7</text>
<text x="574.75" y="881.30" font-family='"Liberation Sans", sans-serif' font-weight="bold" font-size="23.5" fill="#000">0.6</text>
<text x="612.50" y="905.30" font-family='"Liberation Sans", sans-serif' font-weight="bold" font-size="23.5" fill="#000">0</text>
<text x="734.30" y="905.30" font-family='"Liberation Sans", sans-serif' font-weight="bold" font-size="23.5" fill="#000">20</text>
<text x="862.72" y="905.30" font-family='"Liberation Sans", sans-serif' font-weight="bold" font-size="23.5" fill="#000">40</text>
<text x="991.13" y="905.30" font-family='"Liberation Sans", sans-serif' font-weight="bold" font-size="23.5" fill="#000">60</text>
<text x="1119.56" y="905.30" font-family='"Liberation Sans", sans-serif' font-weight="bold" font-size="23.5" fill="#000">80</text>
<text x="1241.48" y="905.30" font-family='"Liberation Sans", sans-serif' font-weight="bold" font-size="23.5" fill="#000">100</text>
<path d="M1242.16,902.75 H1246.86 V906.30 H1242.16 Z M1250.28,902.75 H1254.38 V906.30 H1250.28 Z" fill="#fff"/>
<text transform="translate(829.40,937.30) scale(1.1251,1.0000)" font-family='"Liberation Sans", sans-serif' font-weight="bold" font-size="29" fill="#000">Cycle Number</text>
<text transform="translate(563.00,817.20) rotate(-90) scale(0.9898,1)" font-family='"Liberation Sans", sans-serif' font-weight="bold" font-size="32.5" fill="#000">Normalized Capacity</text>
<text transform="translate(1211.90,829.60) scale(0.9353,1.0000)" font-family='"Liberation Serif", serif' font-weight="bold" font-size="60" fill="#000">d</text>
<text transform="translate(697.50,733.70) scale(1.0575,1.0000)" font-family='"Liberation Sans", sans-serif' font-weight="bold" font-size="25" fill="#000">Control_SC880903</text>
<text transform="translate(697.50,768.70) scale(1.0575,1.0000)" font-family='"Liberation Sans", sans-serif' font-weight="bold" font-size="25" fill="#000">Control_PC880903</text>
<text transform="translate(697.50,803.70) scale(1.0591,1.0000)" font-family='"Liberation Sans", sans-serif' font-weight="bold" font-size="25" fill="#000">2%VC_SC880903</text>
<text transform="translate(697.50,838.70) scale(1.0591,1.0000)" font-family='"Liberation Sans", sans-serif' font-weight="bold" font-size="25" fill="#000">2%VC_PC880903</text>
</svg></body></html>
